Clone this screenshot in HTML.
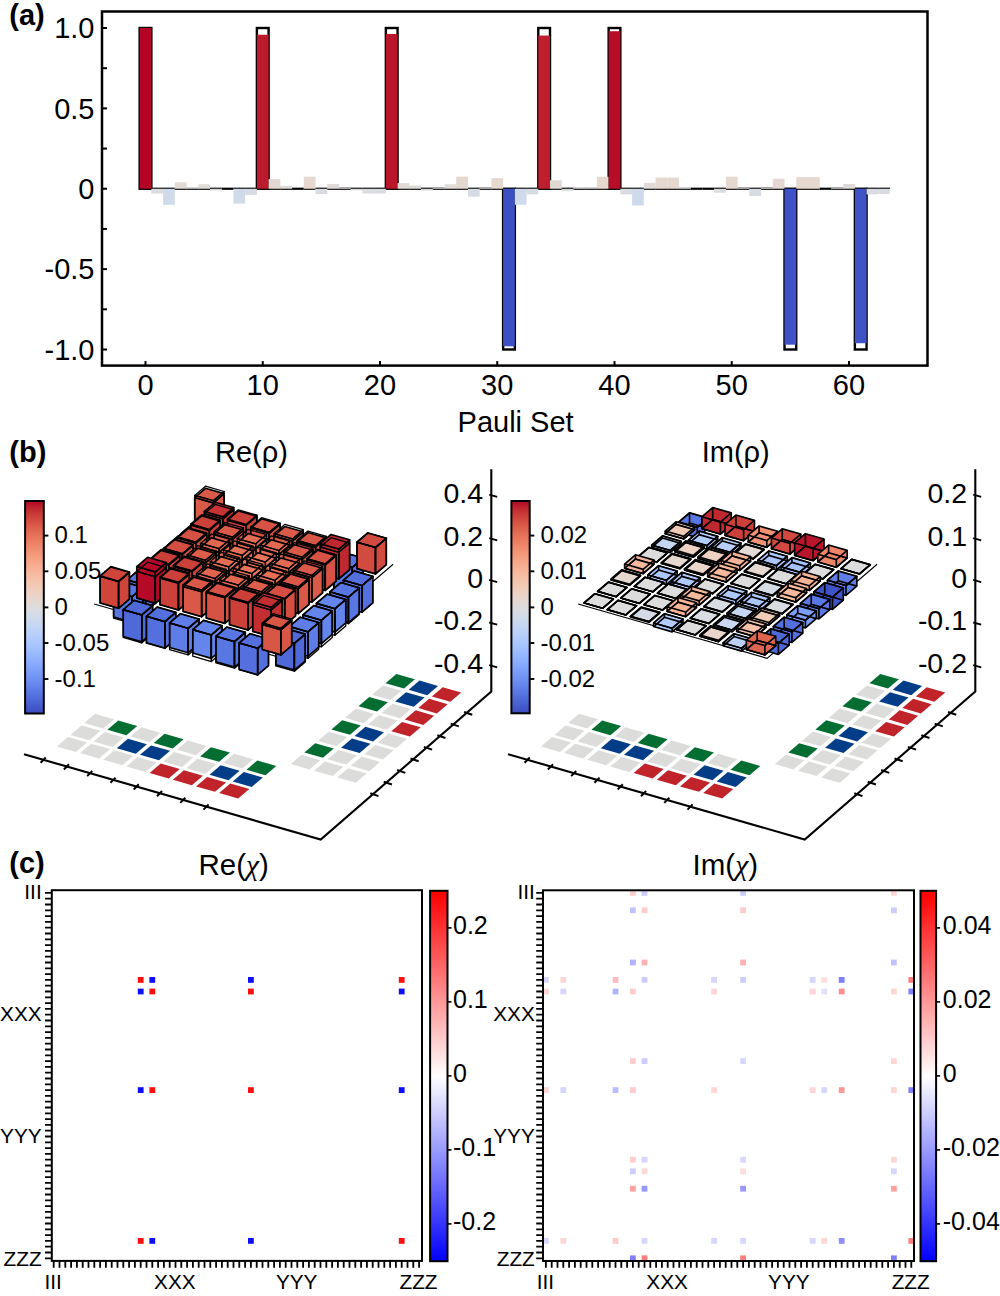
<!DOCTYPE html>
<html><head><meta charset="utf-8"><style>
html,body{margin:0;padding:0;background:#fff;}
svg{display:block;}
text{font-family:"Liberation Sans", sans-serif;fill:#000;}
</style></head><body>
<svg width="1000" height="1296" viewBox="0 0 1000 1296">
<rect width="1000" height="1296" fill="#fff"/>
<g id="pa">
<rect x="139.64" y="28.00" width="11.72" height="160.75" fill="none" stroke="#000" stroke-width="2.4"/>
<line x1="151.36" y1="188.75" x2="163.09" y2="188.75" stroke="#000" stroke-width="2.2" />
<line x1="163.09" y1="188.75" x2="174.81" y2="188.75" stroke="#000" stroke-width="2.2" />
<line x1="174.81" y1="188.75" x2="186.54" y2="188.75" stroke="#000" stroke-width="2.2" />
<line x1="186.54" y1="188.75" x2="198.26" y2="188.75" stroke="#000" stroke-width="2.2" />
<line x1="198.26" y1="188.75" x2="209.99" y2="188.75" stroke="#000" stroke-width="2.2" />
<line x1="209.99" y1="188.75" x2="221.71" y2="188.75" stroke="#000" stroke-width="2.2" />
<line x1="221.71" y1="188.75" x2="233.44" y2="188.75" stroke="#000" stroke-width="2.2" />
<line x1="233.44" y1="188.75" x2="245.16" y2="188.75" stroke="#000" stroke-width="2.2" />
<line x1="245.16" y1="188.75" x2="256.89" y2="188.75" stroke="#000" stroke-width="2.2" />
<rect x="256.89" y="28.00" width="11.72" height="160.75" fill="none" stroke="#000" stroke-width="2.4"/>
<line x1="268.61" y1="188.75" x2="280.34" y2="188.75" stroke="#000" stroke-width="2.2" />
<line x1="280.34" y1="188.75" x2="292.06" y2="188.75" stroke="#000" stroke-width="2.2" />
<line x1="292.06" y1="188.75" x2="303.79" y2="188.75" stroke="#000" stroke-width="2.2" />
<line x1="303.79" y1="188.75" x2="315.51" y2="188.75" stroke="#000" stroke-width="2.2" />
<line x1="315.51" y1="188.75" x2="327.24" y2="188.75" stroke="#000" stroke-width="2.2" />
<line x1="327.24" y1="188.75" x2="338.96" y2="188.75" stroke="#000" stroke-width="2.2" />
<line x1="338.96" y1="188.75" x2="350.69" y2="188.75" stroke="#000" stroke-width="2.2" />
<line x1="350.69" y1="188.75" x2="362.41" y2="188.75" stroke="#000" stroke-width="2.2" />
<line x1="362.41" y1="188.75" x2="374.14" y2="188.75" stroke="#000" stroke-width="2.2" />
<line x1="374.14" y1="188.75" x2="385.86" y2="188.75" stroke="#000" stroke-width="2.2" />
<rect x="385.86" y="28.00" width="11.72" height="160.75" fill="none" stroke="#000" stroke-width="2.4"/>
<line x1="397.59" y1="188.75" x2="409.31" y2="188.75" stroke="#000" stroke-width="2.2" />
<line x1="409.31" y1="188.75" x2="421.04" y2="188.75" stroke="#000" stroke-width="2.2" />
<line x1="421.04" y1="188.75" x2="432.76" y2="188.75" stroke="#000" stroke-width="2.2" />
<line x1="432.76" y1="188.75" x2="444.49" y2="188.75" stroke="#000" stroke-width="2.2" />
<line x1="444.49" y1="188.75" x2="456.21" y2="188.75" stroke="#000" stroke-width="2.2" />
<line x1="456.21" y1="188.75" x2="467.94" y2="188.75" stroke="#000" stroke-width="2.2" />
<line x1="467.94" y1="188.75" x2="479.66" y2="188.75" stroke="#000" stroke-width="2.2" />
<line x1="479.66" y1="188.75" x2="491.39" y2="188.75" stroke="#000" stroke-width="2.2" />
<line x1="491.39" y1="188.75" x2="503.11" y2="188.75" stroke="#000" stroke-width="2.2" />
<rect x="503.11" y="188.75" width="11.72" height="160.75" fill="none" stroke="#000" stroke-width="2.4"/>
<line x1="514.84" y1="188.75" x2="526.56" y2="188.75" stroke="#000" stroke-width="2.2" />
<line x1="526.56" y1="188.75" x2="538.29" y2="188.75" stroke="#000" stroke-width="2.2" />
<rect x="538.29" y="28.00" width="11.72" height="160.75" fill="none" stroke="#000" stroke-width="2.4"/>
<line x1="550.01" y1="188.75" x2="561.74" y2="188.75" stroke="#000" stroke-width="2.2" />
<line x1="561.74" y1="188.75" x2="573.46" y2="188.75" stroke="#000" stroke-width="2.2" />
<line x1="573.46" y1="188.75" x2="585.19" y2="188.75" stroke="#000" stroke-width="2.2" />
<line x1="585.19" y1="188.75" x2="596.91" y2="188.75" stroke="#000" stroke-width="2.2" />
<line x1="596.91" y1="188.75" x2="608.64" y2="188.75" stroke="#000" stroke-width="2.2" />
<rect x="608.64" y="28.00" width="11.72" height="160.75" fill="none" stroke="#000" stroke-width="2.4"/>
<line x1="620.36" y1="188.75" x2="632.09" y2="188.75" stroke="#000" stroke-width="2.2" />
<line x1="632.09" y1="188.75" x2="643.81" y2="188.75" stroke="#000" stroke-width="2.2" />
<line x1="643.81" y1="188.75" x2="655.54" y2="188.75" stroke="#000" stroke-width="2.2" />
<line x1="655.54" y1="188.75" x2="667.26" y2="188.75" stroke="#000" stroke-width="2.2" />
<line x1="667.26" y1="188.75" x2="678.99" y2="188.75" stroke="#000" stroke-width="2.2" />
<line x1="678.99" y1="188.75" x2="690.71" y2="188.75" stroke="#000" stroke-width="2.2" />
<line x1="690.71" y1="188.75" x2="702.44" y2="188.75" stroke="#000" stroke-width="2.2" />
<line x1="702.44" y1="188.75" x2="714.16" y2="188.75" stroke="#000" stroke-width="2.2" />
<line x1="714.16" y1="188.75" x2="725.89" y2="188.75" stroke="#000" stroke-width="2.2" />
<line x1="725.89" y1="188.75" x2="737.61" y2="188.75" stroke="#000" stroke-width="2.2" />
<line x1="737.61" y1="188.75" x2="749.34" y2="188.75" stroke="#000" stroke-width="2.2" />
<line x1="749.34" y1="188.75" x2="761.06" y2="188.75" stroke="#000" stroke-width="2.2" />
<line x1="761.06" y1="188.75" x2="772.79" y2="188.75" stroke="#000" stroke-width="2.2" />
<line x1="772.79" y1="188.75" x2="784.51" y2="188.75" stroke="#000" stroke-width="2.2" />
<rect x="784.51" y="188.75" width="11.72" height="160.75" fill="none" stroke="#000" stroke-width="2.4"/>
<line x1="796.24" y1="188.75" x2="807.96" y2="188.75" stroke="#000" stroke-width="2.2" />
<line x1="807.96" y1="188.75" x2="819.69" y2="188.75" stroke="#000" stroke-width="2.2" />
<line x1="819.69" y1="188.75" x2="831.41" y2="188.75" stroke="#000" stroke-width="2.2" />
<line x1="831.41" y1="188.75" x2="843.14" y2="188.75" stroke="#000" stroke-width="2.2" />
<line x1="843.14" y1="188.75" x2="854.86" y2="188.75" stroke="#000" stroke-width="2.2" />
<rect x="854.86" y="188.75" width="11.72" height="160.75" fill="none" stroke="#000" stroke-width="2.4"/>
<line x1="866.59" y1="188.75" x2="878.31" y2="188.75" stroke="#000" stroke-width="2.2" />
<line x1="878.31" y1="188.75" x2="890.04" y2="188.75" stroke="#000" stroke-width="2.2" />
<rect x="139.64" y="28.00" width="11.72" height="160.75" fill="#b40426"/>
<rect x="151.36" y="188.75" width="11.72" height="4.82" fill="#d9dce1"/>
<rect x="163.09" y="188.75" width="11.72" height="16.07" fill="#cfdaea"/>
<rect x="174.81" y="182.32" width="11.72" height="6.43" fill="#e2dad5"/>
<rect x="186.54" y="187.14" width="11.72" height="1.61" fill="#dedcdb"/>
<rect x="198.26" y="184.25" width="11.72" height="4.50" fill="#e0dbd8"/>
<rect x="209.99" y="188.75" width="11.72" height="1.93" fill="#dbdcde"/>
<rect x="233.44" y="188.75" width="11.72" height="14.79" fill="#d1dae9"/>
<rect x="245.16" y="188.75" width="11.72" height="6.11" fill="#d8dce2"/>
<rect x="256.89" y="34.75" width="11.72" height="154.00" fill="#bb1b2c"/>
<rect x="268.61" y="179.10" width="11.72" height="9.65" fill="#e4d9d2"/>
<rect x="280.34" y="185.86" width="11.72" height="2.89" fill="#dfdbd9"/>
<rect x="303.79" y="176.69" width="11.72" height="12.06" fill="#e6d7cf"/>
<rect x="315.51" y="188.75" width="11.72" height="5.30" fill="#d8dce2"/>
<rect x="327.24" y="183.93" width="11.72" height="4.82" fill="#e0dbd8"/>
<rect x="338.96" y="187.95" width="11.72" height="0.80" fill="#dddcdc"/>
<rect x="350.69" y="188.75" width="11.72" height="1.61" fill="#dbdcde"/>
<rect x="362.41" y="188.75" width="11.72" height="4.82" fill="#d9dce1"/>
<rect x="374.14" y="188.75" width="11.72" height="4.82" fill="#d9dce1"/>
<rect x="385.86" y="33.95" width="11.72" height="154.80" fill="#ba162b"/>
<rect x="397.59" y="183.12" width="11.72" height="5.63" fill="#e1dad6"/>
<rect x="409.31" y="185.53" width="11.72" height="3.22" fill="#dfdbd9"/>
<rect x="421.04" y="188.75" width="11.72" height="1.93" fill="#dbdcde"/>
<rect x="432.76" y="187.95" width="11.72" height="0.80" fill="#dddcdc"/>
<rect x="444.49" y="184.25" width="11.72" height="4.50" fill="#e0dbd8"/>
<rect x="456.21" y="176.69" width="11.72" height="12.06" fill="#e6d7cf"/>
<rect x="467.94" y="188.75" width="11.72" height="8.04" fill="#d6dce4"/>
<rect x="479.66" y="187.95" width="11.72" height="0.80" fill="#dddcdc"/>
<rect x="491.39" y="178.14" width="11.72" height="10.61" fill="#e5d8d1"/>
<rect x="503.11" y="188.75" width="11.72" height="157.53" fill="#3d50c3"/>
<rect x="514.84" y="188.75" width="11.72" height="16.07" fill="#cfdaea"/>
<rect x="526.56" y="188.75" width="11.72" height="5.63" fill="#d8dce2"/>
<rect x="538.29" y="35.56" width="11.72" height="153.19" fill="#bd1f2d"/>
<rect x="550.01" y="180.23" width="11.72" height="8.52" fill="#e3d9d3"/>
<rect x="561.74" y="188.75" width="11.72" height="2.41" fill="#dbdcde"/>
<rect x="573.46" y="187.14" width="11.72" height="1.61" fill="#dedcdb"/>
<rect x="585.19" y="187.14" width="11.72" height="1.61" fill="#dedcdb"/>
<rect x="596.91" y="176.69" width="11.72" height="12.06" fill="#e6d7cf"/>
<rect x="608.64" y="31.22" width="11.72" height="157.53" fill="#b70d28"/>
<rect x="620.36" y="188.75" width="11.72" height="5.63" fill="#d8dce2"/>
<rect x="632.09" y="188.75" width="11.72" height="16.72" fill="#cedaeb"/>
<rect x="643.81" y="182.80" width="11.72" height="5.95" fill="#e1dad6"/>
<rect x="655.54" y="177.50" width="11.72" height="11.25" fill="#e5d8d1"/>
<rect x="667.26" y="177.50" width="11.72" height="11.25" fill="#e5d8d1"/>
<rect x="678.99" y="187.14" width="11.72" height="1.61" fill="#dedcdb"/>
<rect x="714.16" y="188.75" width="11.72" height="4.02" fill="#d9dce1"/>
<rect x="725.89" y="176.69" width="11.72" height="12.06" fill="#e6d7cf"/>
<rect x="737.61" y="187.95" width="11.72" height="0.80" fill="#dddcdc"/>
<rect x="749.34" y="188.75" width="11.72" height="7.23" fill="#d7dce3"/>
<rect x="761.06" y="187.95" width="11.72" height="0.80" fill="#dddcdc"/>
<rect x="772.79" y="178.78" width="11.72" height="9.97" fill="#e4d9d2"/>
<rect x="784.51" y="188.75" width="11.72" height="155.93" fill="#3e51c5"/>
<rect x="796.24" y="177.18" width="11.72" height="11.57" fill="#e6d7cf"/>
<rect x="807.96" y="177.18" width="11.72" height="11.57" fill="#e6d7cf"/>
<rect x="831.41" y="187.95" width="11.72" height="0.80" fill="#dddcdc"/>
<rect x="843.14" y="183.93" width="11.72" height="4.82" fill="#e0dbd8"/>
<rect x="854.86" y="188.75" width="11.72" height="154.48" fill="#3f53c6"/>
<rect x="866.59" y="188.75" width="11.72" height="5.63" fill="#d8dce2"/>
<rect x="878.31" y="188.75" width="11.72" height="5.14" fill="#d8dce2"/>
<rect x="102.0" y="11.5" width="825.5" height="354.1" fill="none" stroke="#000" stroke-width="2.5"/>
<line x1="102.00" y1="349.50" x2="107.00" y2="349.50" stroke="#000" stroke-width="2" />
<line x1="102.00" y1="309.31" x2="107.00" y2="309.31" stroke="#000" stroke-width="2" />
<line x1="102.00" y1="269.12" x2="107.00" y2="269.12" stroke="#000" stroke-width="2" />
<line x1="102.00" y1="228.94" x2="107.00" y2="228.94" stroke="#000" stroke-width="2" />
<line x1="102.00" y1="188.75" x2="107.00" y2="188.75" stroke="#000" stroke-width="2" />
<line x1="102.00" y1="148.56" x2="107.00" y2="148.56" stroke="#000" stroke-width="2" />
<line x1="102.00" y1="108.38" x2="107.00" y2="108.38" stroke="#000" stroke-width="2" />
<line x1="102.00" y1="68.19" x2="107.00" y2="68.19" stroke="#000" stroke-width="2" />
<line x1="102.00" y1="28.00" x2="107.00" y2="28.00" stroke="#000" stroke-width="2" />
<text x="94.50" y="38.30" font-size="29" text-anchor="end" font-weight="normal" >1.0</text>
<text x="94.50" y="118.67" font-size="29" text-anchor="end" font-weight="normal" >0.5</text>
<text x="94.50" y="199.05" font-size="29" text-anchor="end" font-weight="normal" >0</text>
<text x="94.50" y="279.43" font-size="29" text-anchor="end" font-weight="normal" >-0.5</text>
<text x="94.50" y="359.80" font-size="29" text-anchor="end" font-weight="normal" >-1.0</text>
<line x1="145.50" y1="365.60" x2="145.50" y2="361.10" stroke="#000" stroke-width="2" />
<text x="145.50" y="394.90" font-size="29" text-anchor="middle" font-weight="normal" >0</text>
<line x1="262.75" y1="365.60" x2="262.75" y2="361.10" stroke="#000" stroke-width="2" />
<text x="262.75" y="394.90" font-size="29" text-anchor="middle" font-weight="normal" >10</text>
<line x1="380.00" y1="365.60" x2="380.00" y2="361.10" stroke="#000" stroke-width="2" />
<text x="380.00" y="394.90" font-size="29" text-anchor="middle" font-weight="normal" >20</text>
<line x1="497.25" y1="365.60" x2="497.25" y2="361.10" stroke="#000" stroke-width="2" />
<text x="497.25" y="394.90" font-size="29" text-anchor="middle" font-weight="normal" >30</text>
<line x1="614.50" y1="365.60" x2="614.50" y2="361.10" stroke="#000" stroke-width="2" />
<text x="614.50" y="394.90" font-size="29" text-anchor="middle" font-weight="normal" >40</text>
<line x1="731.75" y1="365.60" x2="731.75" y2="361.10" stroke="#000" stroke-width="2" />
<text x="731.75" y="394.90" font-size="29" text-anchor="middle" font-weight="normal" >50</text>
<line x1="849.00" y1="365.60" x2="849.00" y2="361.10" stroke="#000" stroke-width="2" />
<text x="849.00" y="394.90" font-size="29" text-anchor="middle" font-weight="normal" >60</text>
<text x="515.60" y="431.80" font-size="29" text-anchor="middle" font-weight="normal" >Pauli Set</text>
</g>
<text x="9.30" y="24.60" font-size="29" text-anchor="start" font-weight="bold" >(a)</text>
<g id="pb_re">
<polygon points="56.92,746.45 75.93,751.91 87.02,742.43 68.01,736.97" fill="#dcdcdb"/>
<polygon points="70.44,734.89 89.45,740.35 100.54,730.87 81.53,725.41" fill="#dcdcdb"/>
<polygon points="84.23,723.10 103.24,728.56 114.06,719.31 95.05,713.85" fill="#dcdcdb"/>
<polygon points="80.10,753.11 99.11,758.57 110.20,749.09 91.19,743.63" fill="#dcdcdb"/>
<polygon points="93.62,741.55 112.63,747.01 123.72,737.53 104.71,732.07" fill="#dcdcdb"/>
<polygon points="107.41,729.76 126.42,735.22 137.24,725.97 118.23,720.51" fill="#046e32"/>
<polygon points="103.28,759.77 122.29,765.23 133.38,755.75 114.37,750.29" fill="#dcdcdb"/>
<polygon points="116.80,748.21 135.81,753.67 146.90,744.19 127.89,738.73" fill="#033d88"/>
<polygon points="130.59,736.42 149.60,741.88 160.42,732.63 141.41,727.17" fill="#dcdcdb"/>
<polygon points="126.46,766.43 145.47,771.89 156.56,762.41 137.55,756.95" fill="#dcdcdb"/>
<polygon points="139.98,754.87 158.99,760.33 170.08,750.85 151.07,745.39" fill="#033d88"/>
<polygon points="153.77,743.08 172.78,748.54 183.60,739.29 164.59,733.83" fill="#046e32"/>
<polygon points="149.64,773.09 168.65,778.55 179.74,769.07 160.73,763.61" fill="#c1232a"/>
<polygon points="163.16,761.53 182.17,766.99 193.26,757.51 174.25,752.05" fill="#dcdcdb"/>
<polygon points="176.95,749.74 195.96,755.20 206.78,745.95 187.77,740.49" fill="#dcdcdb"/>
<polygon points="172.82,779.75 191.83,785.21 202.92,775.73 183.91,770.27" fill="#c1232a"/>
<polygon points="186.34,768.19 205.35,773.65 216.44,764.17 197.43,758.71" fill="#dcdcdb"/>
<polygon points="200.13,756.40 219.14,761.86 229.96,752.61 210.95,747.15" fill="#046e32"/>
<polygon points="196.00,786.41 215.01,791.87 226.10,782.39 207.09,776.93" fill="#c1232a"/>
<polygon points="209.52,774.85 228.53,780.31 239.62,770.83 220.61,765.37" fill="#033d88"/>
<polygon points="223.31,763.06 242.32,768.52 253.14,759.27 234.13,753.81" fill="#dcdcdb"/>
<polygon points="219.18,793.07 238.19,798.53 249.28,789.05 230.27,783.59" fill="#c1232a"/>
<polygon points="232.70,781.51 251.71,786.97 262.80,777.49 243.79,772.03" fill="#033d88"/>
<polygon points="246.49,769.72 265.50,775.18 276.32,765.93 257.31,760.47" fill="#046e32"/>
<polygon points="290.86,764.09 309.40,769.42 320.22,760.17 301.68,754.84" fill="#dcdcdb"/>
<polygon points="314.04,770.75 332.58,776.08 343.40,766.83 324.86,761.50" fill="#dcdcdb"/>
<polygon points="337.22,777.41 355.76,782.74 366.58,773.49 348.04,768.16" fill="#dcdcdb"/>
<polygon points="304.38,752.53 322.92,757.86 333.74,748.61 315.20,743.28" fill="#046e32"/>
<polygon points="327.56,759.19 346.10,764.52 356.92,755.27 338.38,749.94" fill="#dcdcdb"/>
<polygon points="350.74,765.85 369.28,771.18 380.10,761.93 361.56,756.60" fill="#dcdcdb"/>
<polygon points="317.90,740.97 336.44,746.30 347.26,737.05 328.72,731.72" fill="#dcdcdb"/>
<polygon points="341.08,747.63 359.62,752.96 370.44,743.71 351.90,738.38" fill="#033d88"/>
<polygon points="364.26,754.29 382.80,759.62 393.62,750.37 375.08,745.04" fill="#dcdcdb"/>
<polygon points="331.42,729.41 349.96,734.74 360.78,725.49 342.24,720.16" fill="#046e32"/>
<polygon points="354.60,736.07 373.14,741.40 383.96,732.15 365.42,726.82" fill="#033d88"/>
<polygon points="377.78,742.73 396.32,748.06 407.14,738.81 388.60,733.48" fill="#dcdcdb"/>
<polygon points="344.94,717.85 363.48,723.18 374.30,713.93 355.76,708.60" fill="#dcdcdb"/>
<polygon points="368.12,724.51 386.66,729.84 397.48,720.59 378.94,715.26" fill="#dcdcdb"/>
<polygon points="391.30,731.17 409.84,736.50 420.66,727.25 402.12,721.92" fill="#c1232a"/>
<polygon points="358.46,706.29 377.00,711.62 387.82,702.37 369.28,697.04" fill="#046e32"/>
<polygon points="381.64,712.95 400.18,718.28 411.00,709.03 392.46,703.70" fill="#dcdcdb"/>
<polygon points="404.82,719.61 423.36,724.94 434.18,715.69 415.64,710.36" fill="#c1232a"/>
<polygon points="371.98,694.73 390.52,700.06 401.34,690.81 382.80,685.48" fill="#dcdcdb"/>
<polygon points="395.16,701.39 413.70,706.72 424.52,697.47 405.98,692.14" fill="#033d88"/>
<polygon points="418.34,708.05 436.88,713.38 447.70,704.13 429.16,698.80" fill="#c1232a"/>
<polygon points="385.50,683.17 404.04,688.50 414.86,679.25 396.32,673.92" fill="#046e32"/>
<polygon points="408.68,689.83 427.22,695.16 438.04,685.91 419.50,680.58" fill="#033d88"/>
<polygon points="431.86,696.49 450.40,701.82 461.22,692.57 442.68,687.24" fill="#c1232a"/>
<polyline points="24.00,754.20 320.70,839.50 491.30,691.50 491.30,469.30" fill="none" stroke="#000" stroke-width="2.1" stroke-linejoin="miter"/>
<line x1="45.71" y1="757.55" x2="40.61" y2="762.75" stroke="#000" stroke-width="2.0"/>
<line x1="68.99" y1="764.24" x2="63.89" y2="769.44" stroke="#000" stroke-width="2.0"/>
<line x1="92.26" y1="770.93" x2="87.16" y2="776.13" stroke="#000" stroke-width="2.0"/>
<line x1="115.53" y1="777.62" x2="110.43" y2="782.82" stroke="#000" stroke-width="2.0"/>
<line x1="138.80" y1="784.31" x2="133.70" y2="789.51" stroke="#000" stroke-width="2.0"/>
<line x1="162.07" y1="791.00" x2="156.97" y2="796.20" stroke="#000" stroke-width="2.0"/>
<line x1="185.34" y1="797.69" x2="180.24" y2="802.89" stroke="#000" stroke-width="2.0"/>
<line x1="208.61" y1="804.38" x2="203.51" y2="809.58" stroke="#000" stroke-width="2.0"/>
<line x1="370.32" y1="793.29" x2="378.52" y2="796.09" stroke="#000" stroke-width="2.0"/>
<line x1="383.72" y1="781.68" x2="391.92" y2="784.48" stroke="#000" stroke-width="2.0"/>
<line x1="397.11" y1="770.06" x2="405.31" y2="772.86" stroke="#000" stroke-width="2.0"/>
<line x1="410.50" y1="758.44" x2="418.70" y2="761.24" stroke="#000" stroke-width="2.0"/>
<line x1="423.89" y1="746.83" x2="432.09" y2="749.63" stroke="#000" stroke-width="2.0"/>
<line x1="437.28" y1="735.21" x2="445.48" y2="738.01" stroke="#000" stroke-width="2.0"/>
<line x1="450.67" y1="723.59" x2="458.87" y2="726.39" stroke="#000" stroke-width="2.0"/>
<line x1="464.06" y1="711.98" x2="472.26" y2="714.78" stroke="#000" stroke-width="2.0"/>
<line x1="489.20" y1="494.70" x2="497.20" y2="496.90" stroke="#000" stroke-width="1.9"/>
<text x="483.00" y="502.60" font-size="28.5" text-anchor="end">0.4</text>
<line x1="489.20" y1="538.20" x2="497.20" y2="540.40" stroke="#000" stroke-width="1.9"/>
<text x="483.00" y="546.10" font-size="28.5" text-anchor="end">0.2</text>
<line x1="489.20" y1="579.90" x2="497.20" y2="582.10" stroke="#000" stroke-width="1.9"/>
<text x="483.00" y="587.80" font-size="28.5" text-anchor="end">0</text>
<line x1="489.20" y1="622.50" x2="497.20" y2="624.70" stroke="#000" stroke-width="1.9"/>
<text x="483.00" y="630.40" font-size="28.5" text-anchor="end">-0.2</text>
<line x1="489.20" y1="665.10" x2="497.20" y2="667.30" stroke="#000" stroke-width="1.9"/>
<text x="483.00" y="673.00" font-size="28.5" text-anchor="end">-0.4</text>
<polyline points="94.16,604.04 283.08,658.32 393.13,564.22" fill="none" stroke="#000" stroke-width="1.1"/>
<polygon points="194.71,522.04 213.25,527.37 213.25,502.87 194.71,497.54" fill="#da5a49" stroke="#000" stroke-width="1.65" stroke-linejoin="round"/>
<polygon points="213.25,527.37 224.07,518.12 224.07,493.62 213.25,502.87" fill="#da5a49" stroke="#000" stroke-width="1.65" stroke-linejoin="round"/>
<polygon points="194.71,497.54 213.25,502.87 224.07,493.62 205.53,488.30" fill="#da5a49" stroke="#000" stroke-width="1.65" stroke-linejoin="round"/>
<polygon points="194.71,522.04 213.25,527.37 213.25,500.74 194.71,495.41" fill="none" stroke="#000" stroke-width="1.3" stroke-linejoin="round"/>
<polygon points="213.25,527.37 224.07,518.12 224.07,491.50 213.25,500.74" fill="none" stroke="#000" stroke-width="1.3" stroke-linejoin="round"/>
<polygon points="194.71,495.41 213.25,500.74 224.07,491.50 205.53,486.17" fill="none" stroke="#000" stroke-width="1.3" stroke-linejoin="round"/>
<polygon points="181.19,559.16 199.73,564.49 199.73,538.93 181.19,533.60" fill="#5977e3" stroke="#000" stroke-width="1.65" stroke-linejoin="round"/>
<polygon points="199.73,564.49 210.55,555.24 210.55,529.68 199.73,538.93" fill="#5977e3" stroke="#000" stroke-width="1.65" stroke-linejoin="round"/>
<polygon points="181.19,533.60 199.73,538.93 210.55,529.68 192.01,524.35" fill="#5977e3" stroke="#000" stroke-width="1.65" stroke-linejoin="round"/>
<polygon points="181.19,560.23 199.73,565.55 199.73,538.93 181.19,533.60" fill="none" stroke="#000" stroke-width="1.3" stroke-linejoin="round"/>
<polygon points="199.73,565.55 210.55,556.30 210.55,529.68 199.73,538.93" fill="none" stroke="#000" stroke-width="1.3" stroke-linejoin="round"/>
<polygon points="181.19,533.60 199.73,538.93 210.55,529.68 192.01,524.35" fill="none" stroke="#000" stroke-width="1.3" stroke-linejoin="round"/>
<polygon points="167.67,570.72 186.21,576.05 186.21,550.49 167.67,545.16" fill="#5977e3" stroke="#000" stroke-width="1.65" stroke-linejoin="round"/>
<polygon points="186.21,576.05 197.03,566.80 197.03,541.24 186.21,550.49" fill="#5977e3" stroke="#000" stroke-width="1.65" stroke-linejoin="round"/>
<polygon points="167.67,545.16 186.21,550.49 197.03,541.24 178.49,535.91" fill="#5977e3" stroke="#000" stroke-width="1.65" stroke-linejoin="round"/>
<polygon points="167.67,571.78 186.21,577.11 186.21,550.49 167.67,545.16" fill="none" stroke="#000" stroke-width="1.3" stroke-linejoin="round"/>
<polygon points="186.21,577.11 197.03,567.87 197.03,541.24 186.21,550.49" fill="none" stroke="#000" stroke-width="1.3" stroke-linejoin="round"/>
<polygon points="167.67,545.16 186.21,550.49 197.03,541.24 178.49,535.91" fill="none" stroke="#000" stroke-width="1.3" stroke-linejoin="round"/>
<polygon points="154.15,582.28 172.69,587.61 172.69,562.05 154.15,556.72" fill="#5977e3" stroke="#000" stroke-width="1.65" stroke-linejoin="round"/>
<polygon points="172.69,587.61 183.51,578.36 183.51,552.80 172.69,562.05" fill="#5977e3" stroke="#000" stroke-width="1.65" stroke-linejoin="round"/>
<polygon points="154.15,556.72 172.69,562.05 183.51,552.80 164.97,547.47" fill="#5977e3" stroke="#000" stroke-width="1.65" stroke-linejoin="round"/>
<polygon points="154.15,583.35 172.69,588.67 172.69,562.05 154.15,556.72" fill="none" stroke="#000" stroke-width="1.3" stroke-linejoin="round"/>
<polygon points="172.69,588.67 183.51,579.42 183.51,552.80 172.69,562.05" fill="none" stroke="#000" stroke-width="1.3" stroke-linejoin="round"/>
<polygon points="154.15,556.72 172.69,562.05 183.51,552.80 164.97,547.47" fill="none" stroke="#000" stroke-width="1.3" stroke-linejoin="round"/>
<polygon points="140.63,593.84 159.17,599.17 159.17,573.61 140.63,568.28" fill="#5977e3" stroke="#000" stroke-width="1.65" stroke-linejoin="round"/>
<polygon points="159.17,599.17 169.99,589.92 169.99,564.36 159.17,573.61" fill="#5977e3" stroke="#000" stroke-width="1.65" stroke-linejoin="round"/>
<polygon points="140.63,568.28 159.17,573.61 169.99,564.36 151.45,559.03" fill="#5977e3" stroke="#000" stroke-width="1.65" stroke-linejoin="round"/>
<polygon points="140.63,594.90 159.17,600.23 159.17,573.61 140.63,568.28" fill="none" stroke="#000" stroke-width="1.3" stroke-linejoin="round"/>
<polygon points="159.17,600.23 169.99,590.99 169.99,564.36 159.17,573.61" fill="none" stroke="#000" stroke-width="1.3" stroke-linejoin="round"/>
<polygon points="140.63,568.28 159.17,573.61 169.99,564.36 151.45,559.03" fill="none" stroke="#000" stroke-width="1.3" stroke-linejoin="round"/>
<polygon points="127.11,605.40 145.65,610.73 145.65,585.17 127.11,579.84" fill="#5977e3" stroke="#000" stroke-width="1.65" stroke-linejoin="round"/>
<polygon points="145.65,610.73 156.47,601.48 156.47,575.92 145.65,585.17" fill="#5977e3" stroke="#000" stroke-width="1.65" stroke-linejoin="round"/>
<polygon points="127.11,579.84 145.65,585.17 156.47,575.92 137.93,570.59" fill="#5977e3" stroke="#000" stroke-width="1.65" stroke-linejoin="round"/>
<polygon points="127.11,606.47 145.65,611.79 145.65,585.17 127.11,579.84" fill="none" stroke="#000" stroke-width="1.3" stroke-linejoin="round"/>
<polygon points="145.65,611.79 156.47,602.54 156.47,575.92 145.65,585.17" fill="none" stroke="#000" stroke-width="1.3" stroke-linejoin="round"/>
<polygon points="127.11,579.84 145.65,585.17 156.47,575.92 137.93,570.59" fill="none" stroke="#000" stroke-width="1.3" stroke-linejoin="round"/>
<polygon points="113.59,616.96 132.13,622.29 132.13,596.73 113.59,591.40" fill="#5977e3" stroke="#000" stroke-width="1.65" stroke-linejoin="round"/>
<polygon points="132.13,622.29 142.95,613.04 142.95,587.48 132.13,596.73" fill="#5977e3" stroke="#000" stroke-width="1.65" stroke-linejoin="round"/>
<polygon points="113.59,591.40 132.13,596.73 142.95,587.48 124.41,582.15" fill="#5977e3" stroke="#000" stroke-width="1.65" stroke-linejoin="round"/>
<polygon points="113.59,618.02 132.13,623.35 132.13,596.73 113.59,591.40" fill="none" stroke="#000" stroke-width="1.3" stroke-linejoin="round"/>
<polygon points="132.13,623.35 142.95,614.11 142.95,587.48 132.13,596.73" fill="none" stroke="#000" stroke-width="1.3" stroke-linejoin="round"/>
<polygon points="113.59,591.40 132.13,596.73 142.95,587.48 124.41,582.15" fill="none" stroke="#000" stroke-width="1.3" stroke-linejoin="round"/>
<polygon points="100.07,602.96 118.61,608.29 118.61,581.24 100.07,575.91" fill="#cf453c" stroke="#000" stroke-width="1.65" stroke-linejoin="round"/>
<polygon points="118.61,608.29 129.43,599.04 129.43,571.99 118.61,581.24" fill="#cf453c" stroke="#000" stroke-width="1.65" stroke-linejoin="round"/>
<polygon points="100.07,575.91 118.61,581.24 129.43,571.99 110.89,566.66" fill="#cf453c" stroke="#000" stroke-width="1.65" stroke-linejoin="round"/>
<polygon points="100.07,602.96 118.61,608.29 118.61,581.66 100.07,576.34" fill="none" stroke="#000" stroke-width="1.3" stroke-linejoin="round"/>
<polygon points="118.61,608.29 129.43,599.04 129.43,572.41 118.61,581.66" fill="none" stroke="#000" stroke-width="1.3" stroke-linejoin="round"/>
<polygon points="100.07,576.34 118.61,581.66 129.43,572.41 110.89,567.09" fill="none" stroke="#000" stroke-width="1.3" stroke-linejoin="round"/>
<polygon points="217.89,554.26 236.43,559.59 236.43,534.03 217.89,528.70" fill="#5977e3" stroke="#000" stroke-width="1.65" stroke-linejoin="round"/>
<polygon points="236.43,559.59 247.25,550.34 247.25,524.78 236.43,534.03" fill="#5977e3" stroke="#000" stroke-width="1.65" stroke-linejoin="round"/>
<polygon points="217.89,528.70 236.43,534.03 247.25,524.78 228.71,519.45" fill="#5977e3" stroke="#000" stroke-width="1.65" stroke-linejoin="round"/>
<polygon points="217.89,555.33 236.43,560.65 236.43,534.03 217.89,528.70" fill="none" stroke="#000" stroke-width="1.3" stroke-linejoin="round"/>
<polygon points="236.43,560.65 247.25,551.40 247.25,524.78 236.43,534.03" fill="none" stroke="#000" stroke-width="1.3" stroke-linejoin="round"/>
<polygon points="217.89,528.70 236.43,534.03 247.25,524.78 228.71,519.45" fill="none" stroke="#000" stroke-width="1.3" stroke-linejoin="round"/>
<polygon points="204.37,540.26 222.91,545.59 222.91,516.83 204.37,511.50" fill="#c53334" stroke="#000" stroke-width="1.65" stroke-linejoin="round"/>
<polygon points="222.91,545.59 233.73,536.34 233.73,507.58 222.91,516.83" fill="#c53334" stroke="#000" stroke-width="1.65" stroke-linejoin="round"/>
<polygon points="204.37,511.50 222.91,516.83 233.73,507.58 215.19,502.26" fill="#c53334" stroke="#000" stroke-width="1.65" stroke-linejoin="round"/>
<polygon points="204.37,540.26 222.91,545.59 222.91,518.96 204.37,513.63" fill="none" stroke="#000" stroke-width="1.3" stroke-linejoin="round"/>
<polygon points="222.91,545.59 233.73,536.34 233.73,509.71 222.91,518.96" fill="none" stroke="#000" stroke-width="1.3" stroke-linejoin="round"/>
<polygon points="204.37,513.63 222.91,518.96 233.73,509.71 215.19,504.39" fill="none" stroke="#000" stroke-width="1.3" stroke-linejoin="round"/>
<polygon points="190.85,551.82 209.39,557.15 209.39,529.46 190.85,524.13" fill="#cc403a" stroke="#000" stroke-width="1.65" stroke-linejoin="round"/>
<polygon points="209.39,557.15 220.21,547.90 220.21,520.21 209.39,529.46" fill="#cc403a" stroke="#000" stroke-width="1.65" stroke-linejoin="round"/>
<polygon points="190.85,524.13 209.39,529.46 220.21,520.21 201.67,514.88" fill="#cc403a" stroke="#000" stroke-width="1.65" stroke-linejoin="round"/>
<polygon points="190.85,551.82 209.39,557.15 209.39,530.52 190.85,525.19" fill="none" stroke="#000" stroke-width="1.3" stroke-linejoin="round"/>
<polygon points="209.39,557.15 220.21,547.90 220.21,521.27 209.39,530.52" fill="none" stroke="#000" stroke-width="1.3" stroke-linejoin="round"/>
<polygon points="190.85,525.19 209.39,530.52 220.21,521.27 201.67,515.95" fill="none" stroke="#000" stroke-width="1.3" stroke-linejoin="round"/>
<polygon points="177.33,563.38 195.87,568.71 195.87,543.15 177.33,537.82" fill="#d65244" stroke="#000" stroke-width="1.65" stroke-linejoin="round"/>
<polygon points="195.87,568.71 206.69,559.46 206.69,533.90 195.87,543.15" fill="#d65244" stroke="#000" stroke-width="1.65" stroke-linejoin="round"/>
<polygon points="177.33,537.82 195.87,543.15 206.69,533.90 188.15,528.57" fill="#d65244" stroke="#000" stroke-width="1.65" stroke-linejoin="round"/>
<polygon points="177.33,563.38 195.87,568.71 195.87,542.08 177.33,536.75" fill="none" stroke="#000" stroke-width="1.3" stroke-linejoin="round"/>
<polygon points="195.87,568.71 206.69,559.46 206.69,532.83 195.87,542.08" fill="none" stroke="#000" stroke-width="1.3" stroke-linejoin="round"/>
<polygon points="177.33,536.75 195.87,542.08 206.69,532.83 188.15,527.51" fill="none" stroke="#000" stroke-width="1.3" stroke-linejoin="round"/>
<polygon points="163.81,574.94 182.35,580.27 182.35,554.28 163.81,548.95" fill="#d44e41" stroke="#000" stroke-width="1.65" stroke-linejoin="round"/>
<polygon points="182.35,580.27 193.17,571.02 193.17,545.03 182.35,554.28" fill="#d44e41" stroke="#000" stroke-width="1.65" stroke-linejoin="round"/>
<polygon points="163.81,548.95 182.35,554.28 193.17,545.03 174.63,539.71" fill="#d44e41" stroke="#000" stroke-width="1.65" stroke-linejoin="round"/>
<polygon points="163.81,574.94 182.35,580.27 182.35,553.64 163.81,548.31" fill="none" stroke="#000" stroke-width="1.3" stroke-linejoin="round"/>
<polygon points="182.35,580.27 193.17,571.02 193.17,544.39 182.35,553.64" fill="none" stroke="#000" stroke-width="1.3" stroke-linejoin="round"/>
<polygon points="163.81,548.31 182.35,553.64 193.17,544.39 174.63,539.07" fill="none" stroke="#000" stroke-width="1.3" stroke-linejoin="round"/>
<polygon points="150.29,586.50 168.83,591.83 168.83,564.14 150.29,558.81" fill="#cc403a" stroke="#000" stroke-width="1.65" stroke-linejoin="round"/>
<polygon points="168.83,591.83 179.65,582.58 179.65,554.89 168.83,564.14" fill="#cc403a" stroke="#000" stroke-width="1.65" stroke-linejoin="round"/>
<polygon points="150.29,558.81 168.83,564.14 179.65,554.89 161.11,549.56" fill="#cc403a" stroke="#000" stroke-width="1.65" stroke-linejoin="round"/>
<polygon points="150.29,586.50 168.83,591.83 168.83,565.20 150.29,559.88" fill="none" stroke="#000" stroke-width="1.3" stroke-linejoin="round"/>
<polygon points="168.83,591.83 179.65,582.58 179.65,555.95 168.83,565.20" fill="none" stroke="#000" stroke-width="1.3" stroke-linejoin="round"/>
<polygon points="150.29,559.88 168.83,565.20 179.65,555.95 161.11,550.63" fill="none" stroke="#000" stroke-width="1.3" stroke-linejoin="round"/>
<polygon points="136.77,598.06 155.31,603.39 155.31,571.86 136.77,566.54" fill="#b50927" stroke="#000" stroke-width="1.65" stroke-linejoin="round"/>
<polygon points="155.31,603.39 166.13,594.14 166.13,562.62 155.31,571.86" fill="#b50927" stroke="#000" stroke-width="1.65" stroke-linejoin="round"/>
<polygon points="136.77,566.54 155.31,571.86 166.13,562.62 147.59,557.29" fill="#b50927" stroke="#000" stroke-width="1.65" stroke-linejoin="round"/>
<polygon points="136.77,598.06 155.31,603.39 155.31,576.76 136.77,571.43" fill="none" stroke="#000" stroke-width="1.3" stroke-linejoin="round"/>
<polygon points="155.31,603.39 166.13,594.14 166.13,567.51 155.31,576.76" fill="none" stroke="#000" stroke-width="1.3" stroke-linejoin="round"/>
<polygon points="136.77,571.43 155.31,576.76 166.13,567.51 147.59,562.19" fill="none" stroke="#000" stroke-width="1.3" stroke-linejoin="round"/>
<polygon points="123.25,637.31 141.79,642.64 141.79,614.95 123.25,609.62" fill="#4f69d9" stroke="#000" stroke-width="1.65" stroke-linejoin="round"/>
<polygon points="141.79,642.64 152.61,633.39 152.61,605.70 141.79,614.95" fill="#4f69d9" stroke="#000" stroke-width="1.65" stroke-linejoin="round"/>
<polygon points="123.25,609.62 141.79,614.95 152.61,605.70 134.07,600.37" fill="#4f69d9" stroke="#000" stroke-width="1.65" stroke-linejoin="round"/>
<polygon points="123.25,636.25 141.79,641.57 141.79,614.95 123.25,609.62" fill="none" stroke="#000" stroke-width="1.3" stroke-linejoin="round"/>
<polygon points="141.79,641.57 152.61,632.32 152.61,605.70 141.79,614.95" fill="none" stroke="#000" stroke-width="1.3" stroke-linejoin="round"/>
<polygon points="123.25,609.62 141.79,614.95 152.61,605.70 134.07,600.37" fill="none" stroke="#000" stroke-width="1.3" stroke-linejoin="round"/>
<polygon points="241.07,560.92 259.61,566.25 259.61,540.69 241.07,535.36" fill="#5977e3" stroke="#000" stroke-width="1.65" stroke-linejoin="round"/>
<polygon points="259.61,566.25 270.43,557.00 270.43,531.44 259.61,540.69" fill="#5977e3" stroke="#000" stroke-width="1.65" stroke-linejoin="round"/>
<polygon points="241.07,535.36 259.61,540.69 270.43,531.44 251.89,526.11" fill="#5977e3" stroke="#000" stroke-width="1.65" stroke-linejoin="round"/>
<polygon points="241.07,561.98 259.61,567.31 259.61,540.69 241.07,535.36" fill="none" stroke="#000" stroke-width="1.3" stroke-linejoin="round"/>
<polygon points="259.61,567.31 270.43,558.07 270.43,531.44 259.61,540.69" fill="none" stroke="#000" stroke-width="1.3" stroke-linejoin="round"/>
<polygon points="241.07,535.36 259.61,540.69 270.43,531.44 251.89,526.11" fill="none" stroke="#000" stroke-width="1.3" stroke-linejoin="round"/>
<polygon points="227.55,546.92 246.09,552.25 246.09,524.56 227.55,519.23" fill="#cc403a" stroke="#000" stroke-width="1.65" stroke-linejoin="round"/>
<polygon points="246.09,552.25 256.91,543.00 256.91,515.31 246.09,524.56" fill="#cc403a" stroke="#000" stroke-width="1.65" stroke-linejoin="round"/>
<polygon points="227.55,519.23 246.09,524.56 256.91,515.31 238.37,509.98" fill="#cc403a" stroke="#000" stroke-width="1.65" stroke-linejoin="round"/>
<polygon points="227.55,546.92 246.09,552.25 246.09,525.62 227.55,520.29" fill="none" stroke="#000" stroke-width="1.3" stroke-linejoin="round"/>
<polygon points="246.09,552.25 256.91,543.00 256.91,516.38 246.09,525.62" fill="none" stroke="#000" stroke-width="1.3" stroke-linejoin="round"/>
<polygon points="227.55,520.29 246.09,525.62 256.91,516.38 238.37,511.05" fill="none" stroke="#000" stroke-width="1.3" stroke-linejoin="round"/>
<polygon points="214.03,558.48 232.57,563.81 232.57,539.31 214.03,533.98" fill="#da5a49" stroke="#000" stroke-width="1.65" stroke-linejoin="round"/>
<polygon points="232.57,563.81 243.39,554.56 243.39,530.07 232.57,539.31" fill="#da5a49" stroke="#000" stroke-width="1.65" stroke-linejoin="round"/>
<polygon points="214.03,533.98 232.57,539.31 243.39,530.07 224.85,524.74" fill="#da5a49" stroke="#000" stroke-width="1.65" stroke-linejoin="round"/>
<polygon points="214.03,558.48 232.57,563.81 232.57,537.18 214.03,531.85" fill="none" stroke="#000" stroke-width="1.3" stroke-linejoin="round"/>
<polygon points="232.57,563.81 243.39,554.56 243.39,527.94 232.57,537.18" fill="none" stroke="#000" stroke-width="1.3" stroke-linejoin="round"/>
<polygon points="214.03,531.85 232.57,537.18 243.39,527.94 224.85,522.61" fill="none" stroke="#000" stroke-width="1.3" stroke-linejoin="round"/>
<polygon points="200.51,570.04 219.05,575.37 219.05,552.36 200.51,547.04" fill="#e16751" stroke="#000" stroke-width="1.65" stroke-linejoin="round"/>
<polygon points="219.05,575.37 229.87,566.12 229.87,543.12 219.05,552.36" fill="#e16751" stroke="#000" stroke-width="1.65" stroke-linejoin="round"/>
<polygon points="200.51,547.04 219.05,552.36 229.87,543.12 211.33,537.79" fill="#e16751" stroke="#000" stroke-width="1.65" stroke-linejoin="round"/>
<polygon points="200.51,570.04 219.05,575.37 219.05,548.74 200.51,543.41" fill="none" stroke="#000" stroke-width="1.3" stroke-linejoin="round"/>
<polygon points="219.05,575.37 229.87,566.12 229.87,539.50 219.05,548.74" fill="none" stroke="#000" stroke-width="1.3" stroke-linejoin="round"/>
<polygon points="200.51,543.41 219.05,548.74 229.87,539.50 211.33,534.17" fill="none" stroke="#000" stroke-width="1.3" stroke-linejoin="round"/>
<polygon points="186.99,581.60 205.53,586.93 205.53,562.86 186.99,557.53" fill="#dd5f4b" stroke="#000" stroke-width="1.65" stroke-linejoin="round"/>
<polygon points="205.53,586.93 216.35,577.68 216.35,553.61 205.53,562.86" fill="#dd5f4b" stroke="#000" stroke-width="1.65" stroke-linejoin="round"/>
<polygon points="186.99,557.53 205.53,562.86 216.35,553.61 197.81,548.28" fill="#dd5f4b" stroke="#000" stroke-width="1.65" stroke-linejoin="round"/>
<polygon points="186.99,581.60 205.53,586.93 205.53,560.30 186.99,554.97" fill="none" stroke="#000" stroke-width="1.3" stroke-linejoin="round"/>
<polygon points="205.53,586.93 216.35,577.68 216.35,551.06 205.53,560.30" fill="none" stroke="#000" stroke-width="1.3" stroke-linejoin="round"/>
<polygon points="186.99,554.97 205.53,560.30 216.35,551.06 197.81,545.73" fill="none" stroke="#000" stroke-width="1.3" stroke-linejoin="round"/>
<polygon points="173.47,593.16 192.01,598.49 192.01,570.80 173.47,565.47" fill="#cc403a" stroke="#000" stroke-width="1.65" stroke-linejoin="round"/>
<polygon points="192.01,598.49 202.83,589.24 202.83,561.55 192.01,570.80" fill="#cc403a" stroke="#000" stroke-width="1.65" stroke-linejoin="round"/>
<polygon points="173.47,565.47 192.01,570.80 202.83,561.55 184.29,556.22" fill="#cc403a" stroke="#000" stroke-width="1.65" stroke-linejoin="round"/>
<polygon points="173.47,593.16 192.01,598.49 192.01,571.86 173.47,566.53" fill="none" stroke="#000" stroke-width="1.3" stroke-linejoin="round"/>
<polygon points="192.01,598.49 202.83,589.24 202.83,562.62 192.01,571.86" fill="none" stroke="#000" stroke-width="1.3" stroke-linejoin="round"/>
<polygon points="173.47,566.53 192.01,571.86 202.83,562.62 184.29,557.29" fill="none" stroke="#000" stroke-width="1.3" stroke-linejoin="round"/>
<polygon points="159.95,604.72 178.49,610.05 178.49,582.36 159.95,577.03" fill="#cc403a" stroke="#000" stroke-width="1.65" stroke-linejoin="round"/>
<polygon points="178.49,610.05 189.31,600.80 189.31,573.11 178.49,582.36" fill="#cc403a" stroke="#000" stroke-width="1.65" stroke-linejoin="round"/>
<polygon points="159.95,577.03 178.49,582.36 189.31,573.11 170.77,567.78" fill="#cc403a" stroke="#000" stroke-width="1.65" stroke-linejoin="round"/>
<polygon points="159.95,604.72 178.49,610.05 178.49,583.42 159.95,578.09" fill="none" stroke="#000" stroke-width="1.3" stroke-linejoin="round"/>
<polygon points="178.49,610.05 189.31,600.80 189.31,574.18 178.49,583.42" fill="none" stroke="#000" stroke-width="1.3" stroke-linejoin="round"/>
<polygon points="159.95,578.09 178.49,583.42 189.31,574.18 170.77,568.85" fill="none" stroke="#000" stroke-width="1.3" stroke-linejoin="round"/>
<polygon points="146.43,642.90 164.97,648.23 164.97,621.61 146.43,616.28" fill="#5470de" stroke="#000" stroke-width="1.65" stroke-linejoin="round"/>
<polygon points="164.97,648.23 175.79,638.99 175.79,612.36 164.97,621.61" fill="#5470de" stroke="#000" stroke-width="1.65" stroke-linejoin="round"/>
<polygon points="146.43,616.28 164.97,621.61 175.79,612.36 157.25,607.03" fill="#5470de" stroke="#000" stroke-width="1.65" stroke-linejoin="round"/>
<polygon points="146.43,642.90 164.97,648.23 164.97,621.61 146.43,616.28" fill="none" stroke="#000" stroke-width="1.3" stroke-linejoin="round"/>
<polygon points="164.97,648.23 175.79,638.99 175.79,612.36 164.97,621.61" fill="none" stroke="#000" stroke-width="1.3" stroke-linejoin="round"/>
<polygon points="146.43,616.28 164.97,621.61 175.79,612.36 157.25,607.03" fill="none" stroke="#000" stroke-width="1.3" stroke-linejoin="round"/>
<polygon points="264.25,567.58 282.79,572.91 282.79,547.35 264.25,542.02" fill="#5977e3" stroke="#000" stroke-width="1.65" stroke-linejoin="round"/>
<polygon points="282.79,572.91 293.61,563.66 293.61,538.10 282.79,547.35" fill="#5977e3" stroke="#000" stroke-width="1.65" stroke-linejoin="round"/>
<polygon points="264.25,542.02 282.79,547.35 293.61,538.10 275.07,532.77" fill="#5977e3" stroke="#000" stroke-width="1.65" stroke-linejoin="round"/>
<polygon points="264.25,568.64 282.79,573.97 282.79,547.35 264.25,542.02" fill="none" stroke="#000" stroke-width="1.3" stroke-linejoin="round"/>
<polygon points="282.79,573.97 293.61,564.73 293.61,538.10 282.79,547.35" fill="none" stroke="#000" stroke-width="1.3" stroke-linejoin="round"/>
<polygon points="264.25,542.02 282.79,547.35 293.61,538.10 275.07,532.77" fill="none" stroke="#000" stroke-width="1.3" stroke-linejoin="round"/>
<polygon points="250.73,553.58 269.27,558.91 269.27,533.35 250.73,528.02" fill="#d65244" stroke="#000" stroke-width="1.65" stroke-linejoin="round"/>
<polygon points="269.27,558.91 280.09,549.66 280.09,524.10 269.27,533.35" fill="#d65244" stroke="#000" stroke-width="1.65" stroke-linejoin="round"/>
<polygon points="250.73,528.02 269.27,533.35 280.09,524.10 261.55,518.77" fill="#d65244" stroke="#000" stroke-width="1.65" stroke-linejoin="round"/>
<polygon points="250.73,553.58 269.27,558.91 269.27,532.28 250.73,526.96" fill="none" stroke="#000" stroke-width="1.3" stroke-linejoin="round"/>
<polygon points="269.27,558.91 280.09,549.66 280.09,523.03 269.27,532.28" fill="none" stroke="#000" stroke-width="1.3" stroke-linejoin="round"/>
<polygon points="250.73,526.96 269.27,532.28 280.09,523.03 261.55,517.71" fill="none" stroke="#000" stroke-width="1.3" stroke-linejoin="round"/>
<polygon points="237.21,565.14 255.75,570.47 255.75,548.10 237.21,542.77" fill="#e36c55" stroke="#000" stroke-width="1.65" stroke-linejoin="round"/>
<polygon points="255.75,570.47 266.57,561.22 266.57,538.86 255.75,548.10" fill="#e36c55" stroke="#000" stroke-width="1.65" stroke-linejoin="round"/>
<polygon points="237.21,542.77 255.75,548.10 266.57,538.86 248.03,533.53" fill="#e36c55" stroke="#000" stroke-width="1.65" stroke-linejoin="round"/>
<polygon points="237.21,565.14 255.75,570.47 255.75,543.84 237.21,538.51" fill="none" stroke="#000" stroke-width="1.3" stroke-linejoin="round"/>
<polygon points="255.75,570.47 266.57,561.22 266.57,534.60 255.75,543.84" fill="none" stroke="#000" stroke-width="1.3" stroke-linejoin="round"/>
<polygon points="237.21,538.51 255.75,543.84 266.57,534.60 248.03,529.27" fill="none" stroke="#000" stroke-width="1.3" stroke-linejoin="round"/>
<polygon points="223.69,576.70 242.23,582.03 242.23,560.09 223.69,554.76" fill="#e57058" stroke="#000" stroke-width="1.65" stroke-linejoin="round"/>
<polygon points="242.23,582.03 253.05,572.78 253.05,550.84 242.23,560.09" fill="#e57058" stroke="#000" stroke-width="1.65" stroke-linejoin="round"/>
<polygon points="223.69,554.76 242.23,560.09 253.05,550.84 234.51,545.51" fill="#e57058" stroke="#000" stroke-width="1.65" stroke-linejoin="round"/>
<polygon points="223.69,576.70 242.23,582.03 242.23,555.40 223.69,550.08" fill="none" stroke="#000" stroke-width="1.3" stroke-linejoin="round"/>
<polygon points="242.23,582.03 253.05,572.78 253.05,546.15 242.23,555.40" fill="none" stroke="#000" stroke-width="1.3" stroke-linejoin="round"/>
<polygon points="223.69,550.08 242.23,555.40 253.05,546.15 234.51,540.83" fill="none" stroke="#000" stroke-width="1.3" stroke-linejoin="round"/>
<polygon points="210.17,588.26 228.71,593.59 228.71,571.22 210.17,565.89" fill="#e36c55" stroke="#000" stroke-width="1.65" stroke-linejoin="round"/>
<polygon points="228.71,593.59 239.53,584.34 239.53,561.98 228.71,571.22" fill="#e36c55" stroke="#000" stroke-width="1.65" stroke-linejoin="round"/>
<polygon points="210.17,565.89 228.71,571.22 239.53,561.98 220.99,556.65" fill="#e36c55" stroke="#000" stroke-width="1.65" stroke-linejoin="round"/>
<polygon points="210.17,588.26 228.71,593.59 228.71,566.96 210.17,561.63" fill="none" stroke="#000" stroke-width="1.3" stroke-linejoin="round"/>
<polygon points="228.71,593.59 239.53,584.34 239.53,557.72 228.71,566.96" fill="none" stroke="#000" stroke-width="1.3" stroke-linejoin="round"/>
<polygon points="210.17,561.63 228.71,566.96 239.53,557.72 220.99,552.39" fill="none" stroke="#000" stroke-width="1.3" stroke-linejoin="round"/>
<polygon points="196.65,599.82 215.19,605.15 215.19,581.72 196.65,576.39" fill="#e0654f" stroke="#000" stroke-width="1.65" stroke-linejoin="round"/>
<polygon points="215.19,605.15 226.01,595.90 226.01,572.47 215.19,581.72" fill="#e0654f" stroke="#000" stroke-width="1.65" stroke-linejoin="round"/>
<polygon points="196.65,576.39 215.19,581.72 226.01,572.47 207.47,567.14" fill="#e0654f" stroke="#000" stroke-width="1.65" stroke-linejoin="round"/>
<polygon points="196.65,599.82 215.19,605.15 215.19,578.52 196.65,573.20" fill="none" stroke="#000" stroke-width="1.3" stroke-linejoin="round"/>
<polygon points="215.19,605.15 226.01,595.90 226.01,569.27 215.19,578.52" fill="none" stroke="#000" stroke-width="1.3" stroke-linejoin="round"/>
<polygon points="196.65,573.20 215.19,578.52 226.01,569.27 207.47,563.95" fill="none" stroke="#000" stroke-width="1.3" stroke-linejoin="round"/>
<polygon points="183.13,611.38 201.67,616.71 201.67,591.79 183.13,586.46" fill="#d95847" stroke="#000" stroke-width="1.65" stroke-linejoin="round"/>
<polygon points="201.67,616.71 212.49,607.46 212.49,582.54 201.67,591.79" fill="#d95847" stroke="#000" stroke-width="1.65" stroke-linejoin="round"/>
<polygon points="183.13,586.46 201.67,591.79 212.49,582.54 193.95,577.21" fill="#d95847" stroke="#000" stroke-width="1.65" stroke-linejoin="round"/>
<polygon points="183.13,611.38 201.67,616.71 201.67,590.08 183.13,584.75" fill="none" stroke="#000" stroke-width="1.3" stroke-linejoin="round"/>
<polygon points="201.67,616.71 212.49,607.46 212.49,580.84 201.67,590.08" fill="none" stroke="#000" stroke-width="1.3" stroke-linejoin="round"/>
<polygon points="183.13,584.75 201.67,590.08 212.49,580.84 193.95,575.51" fill="none" stroke="#000" stroke-width="1.3" stroke-linejoin="round"/>
<polygon points="169.61,647.44 188.15,652.76 188.15,628.27 169.61,622.94" fill="#5e7de7" stroke="#000" stroke-width="1.65" stroke-linejoin="round"/>
<polygon points="188.15,652.76 198.97,643.51 198.97,619.02 188.15,628.27" fill="#5e7de7" stroke="#000" stroke-width="1.65" stroke-linejoin="round"/>
<polygon points="169.61,622.94 188.15,628.27 198.97,619.02 180.43,613.69" fill="#5e7de7" stroke="#000" stroke-width="1.65" stroke-linejoin="round"/>
<polygon points="169.61,649.57 188.15,654.89 188.15,628.27 169.61,622.94" fill="none" stroke="#000" stroke-width="1.3" stroke-linejoin="round"/>
<polygon points="188.15,654.89 198.97,645.64 198.97,619.02 188.15,628.27" fill="none" stroke="#000" stroke-width="1.3" stroke-linejoin="round"/>
<polygon points="169.61,622.94 188.15,628.27 198.97,619.02 180.43,613.69" fill="none" stroke="#000" stroke-width="1.3" stroke-linejoin="round"/>
<polygon points="287.43,574.24 305.97,579.57 305.97,554.01 287.43,548.68" fill="#5977e3" stroke="#000" stroke-width="1.65" stroke-linejoin="round"/>
<polygon points="305.97,579.57 316.79,570.32 316.79,544.76 305.97,554.01" fill="#5977e3" stroke="#000" stroke-width="1.65" stroke-linejoin="round"/>
<polygon points="287.43,548.68 305.97,554.01 316.79,544.76 298.25,539.43" fill="#5977e3" stroke="#000" stroke-width="1.65" stroke-linejoin="round"/>
<polygon points="287.43,575.31 305.97,580.63 305.97,554.01 287.43,548.68" fill="none" stroke="#000" stroke-width="1.3" stroke-linejoin="round"/>
<polygon points="305.97,580.63 316.79,571.38 316.79,544.76 305.97,554.01" fill="none" stroke="#000" stroke-width="1.3" stroke-linejoin="round"/>
<polygon points="287.43,548.68 305.97,554.01 316.79,544.76 298.25,539.43" fill="none" stroke="#000" stroke-width="1.3" stroke-linejoin="round"/>
<polygon points="273.91,560.24 292.45,565.57 292.45,541.07 273.91,535.75" fill="#da5a49" stroke="#000" stroke-width="1.65" stroke-linejoin="round"/>
<polygon points="292.45,565.57 303.27,556.32 303.27,531.82 292.45,541.07" fill="#da5a49" stroke="#000" stroke-width="1.65" stroke-linejoin="round"/>
<polygon points="273.91,535.75 292.45,541.07 303.27,531.82 284.73,526.50" fill="#da5a49" stroke="#000" stroke-width="1.65" stroke-linejoin="round"/>
<polygon points="273.91,560.24 292.45,565.57 292.45,538.94 273.91,533.62" fill="none" stroke="#000" stroke-width="1.3" stroke-linejoin="round"/>
<polygon points="292.45,565.57 303.27,556.32 303.27,529.69 292.45,538.94" fill="none" stroke="#000" stroke-width="1.3" stroke-linejoin="round"/>
<polygon points="273.91,533.62 292.45,538.94 303.27,529.69 284.73,524.37" fill="none" stroke="#000" stroke-width="1.3" stroke-linejoin="round"/>
<polygon points="260.39,571.80 278.93,577.13 278.93,554.34 260.39,549.01" fill="#e26952" stroke="#000" stroke-width="1.65" stroke-linejoin="round"/>
<polygon points="278.93,577.13 289.75,567.88 289.75,545.09 278.93,554.34" fill="#e26952" stroke="#000" stroke-width="1.65" stroke-linejoin="round"/>
<polygon points="260.39,549.01 278.93,554.34 289.75,545.09 271.21,539.76" fill="#e26952" stroke="#000" stroke-width="1.65" stroke-linejoin="round"/>
<polygon points="260.39,571.80 278.93,577.13 278.93,550.50 260.39,545.17" fill="none" stroke="#000" stroke-width="1.3" stroke-linejoin="round"/>
<polygon points="278.93,577.13 289.75,567.88 289.75,541.25 278.93,550.50" fill="none" stroke="#000" stroke-width="1.3" stroke-linejoin="round"/>
<polygon points="260.39,545.17 278.93,550.50 289.75,541.25 271.21,535.93" fill="none" stroke="#000" stroke-width="1.3" stroke-linejoin="round"/>
<polygon points="246.87,583.36 265.41,588.69 265.41,567.39 246.87,562.06" fill="#e7745b" stroke="#000" stroke-width="1.65" stroke-linejoin="round"/>
<polygon points="265.41,588.69 276.23,579.44 276.23,558.14 265.41,567.39" fill="#e7745b" stroke="#000" stroke-width="1.65" stroke-linejoin="round"/>
<polygon points="246.87,562.06 265.41,567.39 276.23,558.14 257.69,552.81" fill="#e7745b" stroke="#000" stroke-width="1.65" stroke-linejoin="round"/>
<polygon points="246.87,583.36 265.41,588.69 265.41,562.06 246.87,556.74" fill="none" stroke="#000" stroke-width="1.3" stroke-linejoin="round"/>
<polygon points="265.41,588.69 276.23,579.44 276.23,552.81 265.41,562.06" fill="none" stroke="#000" stroke-width="1.3" stroke-linejoin="round"/>
<polygon points="246.87,556.74 265.41,562.06 276.23,552.81 257.69,547.49" fill="none" stroke="#000" stroke-width="1.3" stroke-linejoin="round"/>
<polygon points="233.35,594.92 251.89,600.25 251.89,578.95 233.35,573.62" fill="#e7745b" stroke="#000" stroke-width="1.65" stroke-linejoin="round"/>
<polygon points="251.89,600.25 262.71,591.00 262.71,569.70 251.89,578.95" fill="#e7745b" stroke="#000" stroke-width="1.65" stroke-linejoin="round"/>
<polygon points="233.35,573.62 251.89,578.95 262.71,569.70 244.17,564.37" fill="#e7745b" stroke="#000" stroke-width="1.65" stroke-linejoin="round"/>
<polygon points="233.35,594.92 251.89,600.25 251.89,573.62 233.35,568.29" fill="none" stroke="#000" stroke-width="1.3" stroke-linejoin="round"/>
<polygon points="251.89,600.25 262.71,591.00 262.71,564.38 251.89,573.62" fill="none" stroke="#000" stroke-width="1.3" stroke-linejoin="round"/>
<polygon points="233.35,568.29 251.89,573.62 262.71,564.38 244.17,559.05" fill="none" stroke="#000" stroke-width="1.3" stroke-linejoin="round"/>
<polygon points="219.83,606.48 238.37,611.81 238.37,588.80 219.83,583.48" fill="#e16751" stroke="#000" stroke-width="1.65" stroke-linejoin="round"/>
<polygon points="238.37,611.81 249.19,602.56 249.19,579.56 238.37,588.80" fill="#e16751" stroke="#000" stroke-width="1.65" stroke-linejoin="round"/>
<polygon points="219.83,583.48 238.37,588.80 249.19,579.56 230.65,574.23" fill="#e16751" stroke="#000" stroke-width="1.65" stroke-linejoin="round"/>
<polygon points="219.83,606.48 238.37,611.81 238.37,585.18 219.83,579.86" fill="none" stroke="#000" stroke-width="1.3" stroke-linejoin="round"/>
<polygon points="238.37,611.81 249.19,602.56 249.19,575.93 238.37,585.18" fill="none" stroke="#000" stroke-width="1.3" stroke-linejoin="round"/>
<polygon points="219.83,579.86 238.37,585.18 249.19,575.93 230.65,570.61" fill="none" stroke="#000" stroke-width="1.3" stroke-linejoin="round"/>
<polygon points="206.31,618.04 224.85,623.37 224.85,597.81 206.31,592.48" fill="#d65244" stroke="#000" stroke-width="1.65" stroke-linejoin="round"/>
<polygon points="224.85,623.37 235.67,614.12 235.67,588.56 224.85,597.81" fill="#d65244" stroke="#000" stroke-width="1.65" stroke-linejoin="round"/>
<polygon points="206.31,592.48 224.85,597.81 235.67,588.56 217.13,583.23" fill="#d65244" stroke="#000" stroke-width="1.65" stroke-linejoin="round"/>
<polygon points="206.31,618.04 224.85,623.37 224.85,596.74 206.31,591.41" fill="none" stroke="#000" stroke-width="1.3" stroke-linejoin="round"/>
<polygon points="224.85,623.37 235.67,614.12 235.67,587.50 224.85,596.74" fill="none" stroke="#000" stroke-width="1.3" stroke-linejoin="round"/>
<polygon points="206.31,591.41 224.85,596.74 235.67,587.50 217.13,582.17" fill="none" stroke="#000" stroke-width="1.3" stroke-linejoin="round"/>
<polygon points="192.79,653.03 211.33,658.36 211.33,634.93 192.79,629.60" fill="#6485ec" stroke="#000" stroke-width="1.65" stroke-linejoin="round"/>
<polygon points="211.33,658.36 222.15,649.11 222.15,625.68 211.33,634.93" fill="#6485ec" stroke="#000" stroke-width="1.65" stroke-linejoin="round"/>
<polygon points="192.79,629.60 211.33,634.93 222.15,625.68 203.61,620.35" fill="#6485ec" stroke="#000" stroke-width="1.65" stroke-linejoin="round"/>
<polygon points="192.79,656.23 211.33,661.55 211.33,634.93 192.79,629.60" fill="none" stroke="#000" stroke-width="1.3" stroke-linejoin="round"/>
<polygon points="211.33,661.55 222.15,652.30 222.15,625.68 211.33,634.93" fill="none" stroke="#000" stroke-width="1.3" stroke-linejoin="round"/>
<polygon points="192.79,629.60 211.33,634.93 222.15,625.68 203.61,620.35" fill="none" stroke="#000" stroke-width="1.3" stroke-linejoin="round"/>
<polygon points="310.61,580.90 329.15,586.23 329.15,560.67 310.61,555.34" fill="#5977e3" stroke="#000" stroke-width="1.65" stroke-linejoin="round"/>
<polygon points="329.15,586.23 339.97,576.98 339.97,551.42 329.15,560.67" fill="#5977e3" stroke="#000" stroke-width="1.65" stroke-linejoin="round"/>
<polygon points="310.61,555.34 329.15,560.67 339.97,551.42 321.43,546.09" fill="#5977e3" stroke="#000" stroke-width="1.65" stroke-linejoin="round"/>
<polygon points="310.61,581.96 329.15,587.29 329.15,560.67 310.61,555.34" fill="none" stroke="#000" stroke-width="1.3" stroke-linejoin="round"/>
<polygon points="329.15,587.29 339.97,578.05 339.97,551.42 329.15,560.67" fill="none" stroke="#000" stroke-width="1.3" stroke-linejoin="round"/>
<polygon points="310.61,555.34 329.15,560.67 339.97,551.42 321.43,546.09" fill="none" stroke="#000" stroke-width="1.3" stroke-linejoin="round"/>
<polygon points="297.09,566.90 315.63,572.23 315.63,547.09 297.09,541.77" fill="#d85646" stroke="#000" stroke-width="1.65" stroke-linejoin="round"/>
<polygon points="315.63,572.23 326.45,562.98 326.45,537.85 315.63,547.09" fill="#d85646" stroke="#000" stroke-width="1.65" stroke-linejoin="round"/>
<polygon points="297.09,541.77 315.63,547.09 326.45,537.85 307.91,532.52" fill="#d85646" stroke="#000" stroke-width="1.65" stroke-linejoin="round"/>
<polygon points="297.09,566.90 315.63,572.23 315.63,545.60 297.09,540.27" fill="none" stroke="#000" stroke-width="1.3" stroke-linejoin="round"/>
<polygon points="315.63,572.23 326.45,562.98 326.45,536.36 315.63,545.60" fill="none" stroke="#000" stroke-width="1.3" stroke-linejoin="round"/>
<polygon points="297.09,540.27 315.63,545.60 326.45,536.36 307.91,531.03" fill="none" stroke="#000" stroke-width="1.3" stroke-linejoin="round"/>
<polygon points="283.57,578.46 302.11,583.79 302.11,559.29 283.57,553.96" fill="#da5a49" stroke="#000" stroke-width="1.65" stroke-linejoin="round"/>
<polygon points="302.11,583.79 312.93,574.54 312.93,550.05 302.11,559.29" fill="#da5a49" stroke="#000" stroke-width="1.65" stroke-linejoin="round"/>
<polygon points="283.57,553.96 302.11,559.29 312.93,550.05 294.39,544.72" fill="#da5a49" stroke="#000" stroke-width="1.65" stroke-linejoin="round"/>
<polygon points="283.57,578.46 302.11,583.79 302.11,557.16 283.57,551.83" fill="none" stroke="#000" stroke-width="1.3" stroke-linejoin="round"/>
<polygon points="302.11,583.79 312.93,574.54 312.93,547.92 302.11,557.16" fill="none" stroke="#000" stroke-width="1.3" stroke-linejoin="round"/>
<polygon points="283.57,551.83 302.11,557.16 312.93,547.92 294.39,542.59" fill="none" stroke="#000" stroke-width="1.3" stroke-linejoin="round"/>
<polygon points="270.05,590.02 288.59,595.35 288.59,572.56 270.05,567.23" fill="#e26952" stroke="#000" stroke-width="1.65" stroke-linejoin="round"/>
<polygon points="288.59,595.35 299.41,586.10 299.41,563.31 288.59,572.56" fill="#e26952" stroke="#000" stroke-width="1.65" stroke-linejoin="round"/>
<polygon points="270.05,567.23 288.59,572.56 299.41,563.31 280.87,557.98" fill="#e26952" stroke="#000" stroke-width="1.65" stroke-linejoin="round"/>
<polygon points="270.05,590.02 288.59,595.35 288.59,568.72 270.05,563.39" fill="none" stroke="#000" stroke-width="1.3" stroke-linejoin="round"/>
<polygon points="288.59,595.35 299.41,586.10 299.41,559.48 288.59,568.72" fill="none" stroke="#000" stroke-width="1.3" stroke-linejoin="round"/>
<polygon points="270.05,563.39 288.59,568.72 299.41,559.48 280.87,554.15" fill="none" stroke="#000" stroke-width="1.3" stroke-linejoin="round"/>
<polygon points="256.53,601.58 275.07,606.91 275.07,584.76 256.53,579.43" fill="#e46e56" stroke="#000" stroke-width="1.65" stroke-linejoin="round"/>
<polygon points="275.07,606.91 285.89,597.66 285.89,575.51 275.07,584.76" fill="#e46e56" stroke="#000" stroke-width="1.65" stroke-linejoin="round"/>
<polygon points="256.53,579.43 275.07,584.76 285.89,575.51 267.35,570.18" fill="#e46e56" stroke="#000" stroke-width="1.65" stroke-linejoin="round"/>
<polygon points="256.53,601.58 275.07,606.91 275.07,580.28 256.53,574.95" fill="none" stroke="#000" stroke-width="1.3" stroke-linejoin="round"/>
<polygon points="275.07,606.91 285.89,597.66 285.89,571.04 275.07,580.28" fill="none" stroke="#000" stroke-width="1.3" stroke-linejoin="round"/>
<polygon points="256.53,574.95 275.07,580.28 285.89,571.04 267.35,565.71" fill="none" stroke="#000" stroke-width="1.3" stroke-linejoin="round"/>
<polygon points="243.01,613.14 261.55,618.47 261.55,594.40 243.01,589.07" fill="#dd5f4b" stroke="#000" stroke-width="1.65" stroke-linejoin="round"/>
<polygon points="261.55,618.47 272.37,609.22 272.37,585.15 261.55,594.40" fill="#dd5f4b" stroke="#000" stroke-width="1.65" stroke-linejoin="round"/>
<polygon points="243.01,589.07 261.55,594.40 272.37,585.15 253.83,579.82" fill="#dd5f4b" stroke="#000" stroke-width="1.65" stroke-linejoin="round"/>
<polygon points="243.01,613.14 261.55,618.47 261.55,591.84 243.01,586.51" fill="none" stroke="#000" stroke-width="1.3" stroke-linejoin="round"/>
<polygon points="261.55,618.47 272.37,609.22 272.37,582.60 261.55,591.84" fill="none" stroke="#000" stroke-width="1.3" stroke-linejoin="round"/>
<polygon points="243.01,586.51 261.55,591.84 272.37,582.60 253.83,577.27" fill="none" stroke="#000" stroke-width="1.3" stroke-linejoin="round"/>
<polygon points="229.49,624.70 248.03,630.03 248.03,602.34 229.49,597.01" fill="#cc403a" stroke="#000" stroke-width="1.65" stroke-linejoin="round"/>
<polygon points="248.03,630.03 258.85,620.78 258.85,593.09 248.03,602.34" fill="#cc403a" stroke="#000" stroke-width="1.65" stroke-linejoin="round"/>
<polygon points="229.49,597.01 248.03,602.34 258.85,593.09 240.31,587.76" fill="#cc403a" stroke="#000" stroke-width="1.65" stroke-linejoin="round"/>
<polygon points="229.49,624.70 248.03,630.03 248.03,603.40 229.49,598.07" fill="none" stroke="#000" stroke-width="1.3" stroke-linejoin="round"/>
<polygon points="248.03,630.03 258.85,620.78 258.85,594.16 248.03,603.40" fill="none" stroke="#000" stroke-width="1.3" stroke-linejoin="round"/>
<polygon points="229.49,598.07 248.03,603.40 258.85,594.16 240.31,588.83" fill="none" stroke="#000" stroke-width="1.3" stroke-linejoin="round"/>
<polygon points="215.97,661.82 234.51,667.15 234.51,641.59 215.97,636.26" fill="#5977e3" stroke="#000" stroke-width="1.65" stroke-linejoin="round"/>
<polygon points="234.51,667.15 245.33,657.90 245.33,632.34 234.51,641.59" fill="#5977e3" stroke="#000" stroke-width="1.65" stroke-linejoin="round"/>
<polygon points="215.97,636.26 234.51,641.59 245.33,632.34 226.79,627.01" fill="#5977e3" stroke="#000" stroke-width="1.65" stroke-linejoin="round"/>
<polygon points="215.97,662.88 234.51,668.21 234.51,641.59 215.97,636.26" fill="none" stroke="#000" stroke-width="1.3" stroke-linejoin="round"/>
<polygon points="234.51,668.21 245.33,658.97 245.33,632.34 234.51,641.59" fill="none" stroke="#000" stroke-width="1.3" stroke-linejoin="round"/>
<polygon points="215.97,636.26 234.51,641.59 245.33,632.34 226.79,627.01" fill="none" stroke="#000" stroke-width="1.3" stroke-linejoin="round"/>
<polygon points="333.79,587.56 352.33,592.89 352.33,567.33 333.79,562.00" fill="#5977e3" stroke="#000" stroke-width="1.65" stroke-linejoin="round"/>
<polygon points="352.33,592.89 363.15,583.64 363.15,558.08 352.33,567.33" fill="#5977e3" stroke="#000" stroke-width="1.65" stroke-linejoin="round"/>
<polygon points="333.79,562.00 352.33,567.33 363.15,558.08 344.61,552.75" fill="#5977e3" stroke="#000" stroke-width="1.65" stroke-linejoin="round"/>
<polygon points="333.79,588.62 352.33,593.95 352.33,567.33 333.79,562.00" fill="none" stroke="#000" stroke-width="1.3" stroke-linejoin="round"/>
<polygon points="352.33,593.95 363.15,584.71 363.15,558.08 352.33,567.33" fill="none" stroke="#000" stroke-width="1.3" stroke-linejoin="round"/>
<polygon points="333.79,562.00 352.33,567.33 363.15,558.08 344.61,552.75" fill="none" stroke="#000" stroke-width="1.3" stroke-linejoin="round"/>
<polygon points="320.27,573.56 338.81,578.89 338.81,549.07 320.27,543.74" fill="#c0282f" stroke="#000" stroke-width="1.65" stroke-linejoin="round"/>
<polygon points="338.81,578.89 349.63,569.64 349.63,539.82 338.81,549.07" fill="#c0282f" stroke="#000" stroke-width="1.65" stroke-linejoin="round"/>
<polygon points="320.27,543.74 338.81,549.07 349.63,539.82 331.09,534.49" fill="#c0282f" stroke="#000" stroke-width="1.65" stroke-linejoin="round"/>
<polygon points="320.27,573.56 338.81,578.89 338.81,552.26 320.27,546.94" fill="none" stroke="#000" stroke-width="1.3" stroke-linejoin="round"/>
<polygon points="338.81,578.89 349.63,569.64 349.63,543.01 338.81,552.26" fill="none" stroke="#000" stroke-width="1.3" stroke-linejoin="round"/>
<polygon points="320.27,546.94 338.81,552.26 349.63,543.01 331.09,537.69" fill="none" stroke="#000" stroke-width="1.3" stroke-linejoin="round"/>
<polygon points="306.75,585.12 325.29,590.45 325.29,564.89 306.75,559.56" fill="#d65244" stroke="#000" stroke-width="1.65" stroke-linejoin="round"/>
<polygon points="325.29,590.45 336.11,581.20 336.11,555.64 325.29,564.89" fill="#d65244" stroke="#000" stroke-width="1.65" stroke-linejoin="round"/>
<polygon points="306.75,559.56 325.29,564.89 336.11,555.64 317.57,550.31" fill="#d65244" stroke="#000" stroke-width="1.65" stroke-linejoin="round"/>
<polygon points="306.75,585.12 325.29,590.45 325.29,563.82 306.75,558.50" fill="none" stroke="#000" stroke-width="1.3" stroke-linejoin="round"/>
<polygon points="325.29,590.45 336.11,581.20 336.11,554.58 325.29,563.82" fill="none" stroke="#000" stroke-width="1.3" stroke-linejoin="round"/>
<polygon points="306.75,558.50 325.29,563.82 336.11,554.58 317.57,549.25" fill="none" stroke="#000" stroke-width="1.3" stroke-linejoin="round"/>
<polygon points="293.23,596.68 311.77,602.01 311.77,577.51 293.23,572.19" fill="#da5a49" stroke="#000" stroke-width="1.65" stroke-linejoin="round"/>
<polygon points="311.77,602.01 322.59,592.76 322.59,568.26 311.77,577.51" fill="#da5a49" stroke="#000" stroke-width="1.65" stroke-linejoin="round"/>
<polygon points="293.23,572.19 311.77,577.51 322.59,568.26 304.05,562.94" fill="#da5a49" stroke="#000" stroke-width="1.65" stroke-linejoin="round"/>
<polygon points="293.23,596.68 311.77,602.01 311.77,575.38 293.23,570.06" fill="none" stroke="#000" stroke-width="1.3" stroke-linejoin="round"/>
<polygon points="311.77,602.01 322.59,592.76 322.59,566.13 311.77,575.38" fill="none" stroke="#000" stroke-width="1.3" stroke-linejoin="round"/>
<polygon points="293.23,570.06 311.77,575.38 322.59,566.13 304.05,560.81" fill="none" stroke="#000" stroke-width="1.3" stroke-linejoin="round"/>
<polygon points="279.71,608.24 298.25,613.57 298.25,588.65 279.71,583.32" fill="#d95847" stroke="#000" stroke-width="1.65" stroke-linejoin="round"/>
<polygon points="298.25,613.57 309.07,604.32 309.07,579.40 298.25,588.65" fill="#d95847" stroke="#000" stroke-width="1.65" stroke-linejoin="round"/>
<polygon points="279.71,583.32 298.25,588.65 309.07,579.40 290.53,574.07" fill="#d95847" stroke="#000" stroke-width="1.65" stroke-linejoin="round"/>
<polygon points="279.71,608.24 298.25,613.57 298.25,586.94 279.71,581.62" fill="none" stroke="#000" stroke-width="1.3" stroke-linejoin="round"/>
<polygon points="298.25,613.57 309.07,604.32 309.07,577.70 298.25,586.94" fill="none" stroke="#000" stroke-width="1.3" stroke-linejoin="round"/>
<polygon points="279.71,581.62 298.25,586.94 309.07,577.70 290.53,572.37" fill="none" stroke="#000" stroke-width="1.3" stroke-linejoin="round"/>
<polygon points="266.19,619.80 284.73,625.13 284.73,598.93 266.19,593.60" fill="#d44e41" stroke="#000" stroke-width="1.65" stroke-linejoin="round"/>
<polygon points="284.73,625.13 295.55,615.88 295.55,589.68 284.73,598.93" fill="#d44e41" stroke="#000" stroke-width="1.65" stroke-linejoin="round"/>
<polygon points="266.19,593.60 284.73,598.93 295.55,589.68 277.01,584.35" fill="#d44e41" stroke="#000" stroke-width="1.65" stroke-linejoin="round"/>
<polygon points="266.19,619.80 284.73,625.13 284.73,598.50 266.19,593.18" fill="none" stroke="#000" stroke-width="1.3" stroke-linejoin="round"/>
<polygon points="284.73,625.13 295.55,615.88 295.55,589.25 284.73,598.50" fill="none" stroke="#000" stroke-width="1.3" stroke-linejoin="round"/>
<polygon points="266.19,593.18 284.73,598.50 295.55,589.25 277.01,583.93" fill="none" stroke="#000" stroke-width="1.3" stroke-linejoin="round"/>
<polygon points="252.67,631.36 271.21,636.69 271.21,607.29 252.67,601.97" fill="#c32e31" stroke="#000" stroke-width="1.65" stroke-linejoin="round"/>
<polygon points="271.21,636.69 282.03,627.44 282.03,598.05 271.21,607.29" fill="#c32e31" stroke="#000" stroke-width="1.65" stroke-linejoin="round"/>
<polygon points="252.67,601.97 271.21,607.29 282.03,598.05 263.49,592.72" fill="#c32e31" stroke="#000" stroke-width="1.65" stroke-linejoin="round"/>
<polygon points="252.67,631.36 271.21,636.69 271.21,610.06 252.67,604.74" fill="none" stroke="#000" stroke-width="1.3" stroke-linejoin="round"/>
<polygon points="271.21,636.69 282.03,627.44 282.03,600.82 271.21,610.06" fill="none" stroke="#000" stroke-width="1.3" stroke-linejoin="round"/>
<polygon points="252.67,604.74 271.21,610.06 282.03,600.82 263.49,595.49" fill="none" stroke="#000" stroke-width="1.3" stroke-linejoin="round"/>
<polygon points="239.15,669.55 257.69,674.87 257.69,648.25 239.15,642.92" fill="#5470de" stroke="#000" stroke-width="1.65" stroke-linejoin="round"/>
<polygon points="257.69,674.87 268.51,665.62 268.51,639.00 257.69,648.25" fill="#5470de" stroke="#000" stroke-width="1.65" stroke-linejoin="round"/>
<polygon points="239.15,642.92 257.69,648.25 268.51,639.00 249.97,633.67" fill="#5470de" stroke="#000" stroke-width="1.65" stroke-linejoin="round"/>
<polygon points="239.15,669.55 257.69,674.87 257.69,648.25 239.15,642.92" fill="none" stroke="#000" stroke-width="1.3" stroke-linejoin="round"/>
<polygon points="257.69,674.87 268.51,665.62 268.51,639.00 257.69,648.25" fill="none" stroke="#000" stroke-width="1.3" stroke-linejoin="round"/>
<polygon points="239.15,642.92 257.69,648.25 268.51,639.00 249.97,633.67" fill="none" stroke="#000" stroke-width="1.3" stroke-linejoin="round"/>
<polygon points="356.97,568.66 375.51,573.99 375.51,547.58 356.97,542.25" fill="#d24b40" stroke="#000" stroke-width="1.65" stroke-linejoin="round"/>
<polygon points="375.51,573.99 386.33,564.74 386.33,538.33 375.51,547.58" fill="#d24b40" stroke="#000" stroke-width="1.65" stroke-linejoin="round"/>
<polygon points="356.97,542.25 375.51,547.58 386.33,538.33 367.79,533.00" fill="#d24b40" stroke="#000" stroke-width="1.65" stroke-linejoin="round"/>
<polygon points="356.97,568.66 375.51,573.99 375.51,547.36 356.97,542.04" fill="none" stroke="#000" stroke-width="1.3" stroke-linejoin="round"/>
<polygon points="375.51,573.99 386.33,564.74 386.33,538.12 375.51,547.36" fill="none" stroke="#000" stroke-width="1.3" stroke-linejoin="round"/>
<polygon points="356.97,542.04 375.51,547.36 386.33,538.12 367.79,532.79" fill="none" stroke="#000" stroke-width="1.3" stroke-linejoin="round"/>
<polygon points="343.45,606.85 361.99,612.17 361.99,585.55 343.45,580.22" fill="#5470de" stroke="#000" stroke-width="1.65" stroke-linejoin="round"/>
<polygon points="361.99,612.17 372.81,602.92 372.81,576.30 361.99,585.55" fill="#5470de" stroke="#000" stroke-width="1.65" stroke-linejoin="round"/>
<polygon points="343.45,580.22 361.99,585.55 372.81,576.30 354.27,570.97" fill="#5470de" stroke="#000" stroke-width="1.65" stroke-linejoin="round"/>
<polygon points="343.45,606.85 361.99,612.17 361.99,585.55 343.45,580.22" fill="none" stroke="#000" stroke-width="1.3" stroke-linejoin="round"/>
<polygon points="361.99,612.17 372.81,602.92 372.81,576.30 361.99,585.55" fill="none" stroke="#000" stroke-width="1.3" stroke-linejoin="round"/>
<polygon points="343.45,580.22 361.99,585.55 372.81,576.30 354.27,570.97" fill="none" stroke="#000" stroke-width="1.3" stroke-linejoin="round"/>
<polygon points="329.93,617.34 348.47,622.67 348.47,597.11 329.93,591.78" fill="#5977e3" stroke="#000" stroke-width="1.65" stroke-linejoin="round"/>
<polygon points="348.47,622.67 359.29,613.42 359.29,587.86 348.47,597.11" fill="#5977e3" stroke="#000" stroke-width="1.65" stroke-linejoin="round"/>
<polygon points="329.93,591.78 348.47,597.11 359.29,587.86 340.75,582.53" fill="#5977e3" stroke="#000" stroke-width="1.65" stroke-linejoin="round"/>
<polygon points="329.93,618.40 348.47,623.73 348.47,597.11 329.93,591.78" fill="none" stroke="#000" stroke-width="1.3" stroke-linejoin="round"/>
<polygon points="348.47,623.73 359.29,614.49 359.29,587.86 348.47,597.11" fill="none" stroke="#000" stroke-width="1.3" stroke-linejoin="round"/>
<polygon points="329.93,591.78 348.47,597.11 359.29,587.86 340.75,582.53" fill="none" stroke="#000" stroke-width="1.3" stroke-linejoin="round"/>
<polygon points="316.41,626.77 334.95,632.10 334.95,608.67 316.41,603.34" fill="#6485ec" stroke="#000" stroke-width="1.65" stroke-linejoin="round"/>
<polygon points="334.95,632.10 345.77,622.85 345.77,599.42 334.95,608.67" fill="#6485ec" stroke="#000" stroke-width="1.65" stroke-linejoin="round"/>
<polygon points="316.41,603.34 334.95,608.67 345.77,599.42 327.23,594.09" fill="#6485ec" stroke="#000" stroke-width="1.65" stroke-linejoin="round"/>
<polygon points="316.41,629.97 334.95,635.29 334.95,608.67 316.41,603.34" fill="none" stroke="#000" stroke-width="1.3" stroke-linejoin="round"/>
<polygon points="334.95,635.29 345.77,626.04 345.77,599.42 334.95,608.67" fill="none" stroke="#000" stroke-width="1.3" stroke-linejoin="round"/>
<polygon points="316.41,603.34 334.95,608.67 345.77,599.42 327.23,594.09" fill="none" stroke="#000" stroke-width="1.3" stroke-linejoin="round"/>
<polygon points="302.89,638.33 321.43,643.66 321.43,620.23 302.89,614.90" fill="#6485ec" stroke="#000" stroke-width="1.65" stroke-linejoin="round"/>
<polygon points="321.43,643.66 332.25,634.41 332.25,610.98 321.43,620.23" fill="#6485ec" stroke="#000" stroke-width="1.65" stroke-linejoin="round"/>
<polygon points="302.89,614.90 321.43,620.23 332.25,610.98 313.71,605.65" fill="#6485ec" stroke="#000" stroke-width="1.65" stroke-linejoin="round"/>
<polygon points="302.89,641.52 321.43,646.85 321.43,620.23 302.89,614.90" fill="none" stroke="#000" stroke-width="1.3" stroke-linejoin="round"/>
<polygon points="321.43,646.85 332.25,637.61 332.25,610.98 321.43,620.23" fill="none" stroke="#000" stroke-width="1.3" stroke-linejoin="round"/>
<polygon points="302.89,614.90 321.43,620.23 332.25,610.98 313.71,605.65" fill="none" stroke="#000" stroke-width="1.3" stroke-linejoin="round"/>
<polygon points="289.37,650.96 307.91,656.28 307.91,631.79 289.37,626.46" fill="#5e7de7" stroke="#000" stroke-width="1.65" stroke-linejoin="round"/>
<polygon points="307.91,656.28 318.73,647.03 318.73,622.54 307.91,631.79" fill="#5e7de7" stroke="#000" stroke-width="1.65" stroke-linejoin="round"/>
<polygon points="289.37,626.46 307.91,631.79 318.73,622.54 300.19,617.21" fill="#5e7de7" stroke="#000" stroke-width="1.65" stroke-linejoin="round"/>
<polygon points="289.37,653.09 307.91,658.41 307.91,631.79 289.37,626.46" fill="none" stroke="#000" stroke-width="1.3" stroke-linejoin="round"/>
<polygon points="307.91,658.41 318.73,649.16 318.73,622.54 307.91,631.79" fill="none" stroke="#000" stroke-width="1.3" stroke-linejoin="round"/>
<polygon points="289.37,626.46 307.91,631.79 318.73,622.54 300.19,617.21" fill="none" stroke="#000" stroke-width="1.3" stroke-linejoin="round"/>
<polygon points="275.85,665.71 294.39,671.04 294.39,643.35 275.85,638.02" fill="#4f69d9" stroke="#000" stroke-width="1.65" stroke-linejoin="round"/>
<polygon points="294.39,671.04 305.21,661.79 305.21,634.10 294.39,643.35" fill="#4f69d9" stroke="#000" stroke-width="1.65" stroke-linejoin="round"/>
<polygon points="275.85,638.02 294.39,643.35 305.21,634.10 286.67,628.77" fill="#4f69d9" stroke="#000" stroke-width="1.65" stroke-linejoin="round"/>
<polygon points="275.85,664.64 294.39,669.97 294.39,643.35 275.85,638.02" fill="none" stroke="#000" stroke-width="1.3" stroke-linejoin="round"/>
<polygon points="294.39,669.97 305.21,660.73 305.21,634.10 294.39,643.35" fill="none" stroke="#000" stroke-width="1.3" stroke-linejoin="round"/>
<polygon points="275.85,638.02 294.39,643.35 305.21,634.10 286.67,628.77" fill="none" stroke="#000" stroke-width="1.3" stroke-linejoin="round"/>
<polygon points="262.33,649.58 280.87,654.91 280.87,629.77 262.33,624.45" fill="#d85646" stroke="#000" stroke-width="1.65" stroke-linejoin="round"/>
<polygon points="280.87,654.91 291.69,645.66 291.69,620.53 280.87,629.77" fill="#d85646" stroke="#000" stroke-width="1.65" stroke-linejoin="round"/>
<polygon points="262.33,624.45 280.87,629.77 291.69,620.53 273.15,615.20" fill="#d85646" stroke="#000" stroke-width="1.65" stroke-linejoin="round"/>
<polygon points="262.33,649.58 280.87,654.91 280.87,628.28 262.33,622.96" fill="none" stroke="#000" stroke-width="1.3" stroke-linejoin="round"/>
<polygon points="280.87,654.91 291.69,645.66 291.69,619.03 280.87,628.28" fill="none" stroke="#000" stroke-width="1.3" stroke-linejoin="round"/>
<polygon points="262.33,622.96 280.87,628.28 291.69,619.03 273.15,613.71" fill="none" stroke="#000" stroke-width="1.3" stroke-linejoin="round"/>
</g>
<defs><linearGradient id="cwg1" x1="0" y1="0" x2="0" y2="1"><stop offset="0.000" stop-color="#b40426"/><stop offset="0.031" stop-color="#be242e"/><stop offset="0.062" stop-color="#ca3b37"/><stop offset="0.094" stop-color="#d44e41"/><stop offset="0.125" stop-color="#dd5f4b"/><stop offset="0.156" stop-color="#e46e56"/><stop offset="0.188" stop-color="#eb7d62"/><stop offset="0.219" stop-color="#f08b6e"/><stop offset="0.250" stop-color="#f4987a"/><stop offset="0.281" stop-color="#f6a586"/><stop offset="0.312" stop-color="#f7b093"/><stop offset="0.344" stop-color="#f7ba9f"/><stop offset="0.375" stop-color="#f5c4ac"/><stop offset="0.406" stop-color="#f1ccb8"/><stop offset="0.438" stop-color="#ecd3c5"/><stop offset="0.469" stop-color="#e5d8d1"/><stop offset="0.500" stop-color="#dddcdc"/><stop offset="0.531" stop-color="#d5dbe5"/><stop offset="0.562" stop-color="#ccd9ed"/><stop offset="0.594" stop-color="#c3d5f4"/><stop offset="0.625" stop-color="#b9d0f9"/><stop offset="0.656" stop-color="#aec9fc"/><stop offset="0.688" stop-color="#a3c2fe"/><stop offset="0.719" stop-color="#98b9ff"/><stop offset="0.750" stop-color="#8db0fe"/><stop offset="0.781" stop-color="#82a6fb"/><stop offset="0.812" stop-color="#779af7"/><stop offset="0.844" stop-color="#6c8ff1"/><stop offset="0.875" stop-color="#6282ea"/><stop offset="0.906" stop-color="#5875e1"/><stop offset="0.938" stop-color="#4e68d8"/><stop offset="0.969" stop-color="#445acc"/><stop offset="1.000" stop-color="#3b4cc0"/></linearGradient></defs>
<rect x="25.10" y="501.00" width="18.70" height="212.50" fill="url(#cwg1)" stroke="#000" stroke-width="2"/>
<line x1="43.80" y1="535.60" x2="48.40" y2="535.60" stroke="#000" stroke-width="1.9"/>
<text x="54.60" y="543.49" font-size="24">0.1</text>
<line x1="43.80" y1="571.30" x2="48.40" y2="571.30" stroke="#000" stroke-width="1.9"/>
<text x="54.60" y="579.19" font-size="24">0.05</text>
<line x1="43.80" y1="607.40" x2="48.40" y2="607.40" stroke="#000" stroke-width="1.9"/>
<text x="54.60" y="615.29" font-size="24">0</text>
<line x1="43.80" y1="643.00" x2="48.40" y2="643.00" stroke="#000" stroke-width="1.9"/>
<text x="54.60" y="650.89" font-size="24">-0.05</text>
<line x1="43.80" y1="679.00" x2="48.40" y2="679.00" stroke="#000" stroke-width="1.9"/>
<text x="54.60" y="686.89" font-size="24">-0.1</text>
<text x="251.50" y="462.00" font-size="29" text-anchor="middle" font-weight="normal" >Re(&#961;)</text>
<text x="9.30" y="461.60" font-size="29" text-anchor="start" font-weight="bold" >(b)</text>
<g id="pb_im">
<polygon points="540.92,746.45 559.93,751.91 571.02,742.43 552.01,736.97" fill="#dcdcdb"/>
<polygon points="554.44,734.89 573.45,740.35 584.54,730.87 565.53,725.41" fill="#dcdcdb"/>
<polygon points="568.23,723.10 587.24,728.56 598.06,719.31 579.05,713.85" fill="#dcdcdb"/>
<polygon points="564.10,753.11 583.11,758.57 594.20,749.09 575.19,743.63" fill="#dcdcdb"/>
<polygon points="577.62,741.55 596.63,747.01 607.72,737.53 588.71,732.07" fill="#dcdcdb"/>
<polygon points="591.41,729.76 610.42,735.22 621.24,725.97 602.23,720.51" fill="#046e32"/>
<polygon points="587.28,759.77 606.29,765.23 617.38,755.75 598.37,750.29" fill="#dcdcdb"/>
<polygon points="600.80,748.21 619.81,753.67 630.90,744.19 611.89,738.73" fill="#033d88"/>
<polygon points="614.59,736.42 633.60,741.88 644.42,732.63 625.41,727.17" fill="#dcdcdb"/>
<polygon points="610.46,766.43 629.47,771.89 640.56,762.41 621.55,756.95" fill="#dcdcdb"/>
<polygon points="623.98,754.87 642.99,760.33 654.08,750.85 635.07,745.39" fill="#033d88"/>
<polygon points="637.77,743.08 656.78,748.54 667.60,739.29 648.59,733.83" fill="#046e32"/>
<polygon points="633.64,773.09 652.65,778.55 663.74,769.07 644.73,763.61" fill="#c1232a"/>
<polygon points="647.16,761.53 666.17,766.99 677.26,757.51 658.25,752.05" fill="#dcdcdb"/>
<polygon points="660.95,749.74 679.96,755.20 690.78,745.95 671.77,740.49" fill="#dcdcdb"/>
<polygon points="656.82,779.75 675.83,785.21 686.92,775.73 667.91,770.27" fill="#c1232a"/>
<polygon points="670.34,768.19 689.35,773.65 700.44,764.17 681.43,758.71" fill="#dcdcdb"/>
<polygon points="684.13,756.40 703.14,761.86 713.96,752.61 694.95,747.15" fill="#046e32"/>
<polygon points="680.00,786.41 699.01,791.87 710.10,782.39 691.09,776.93" fill="#c1232a"/>
<polygon points="693.52,774.85 712.53,780.31 723.62,770.83 704.61,765.37" fill="#033d88"/>
<polygon points="707.31,763.06 726.32,768.52 737.14,759.27 718.13,753.81" fill="#dcdcdb"/>
<polygon points="703.18,793.07 722.19,798.53 733.28,789.05 714.27,783.59" fill="#c1232a"/>
<polygon points="716.70,781.51 735.71,786.97 746.80,777.49 727.79,772.03" fill="#033d88"/>
<polygon points="730.49,769.72 749.50,775.18 760.32,765.93 741.31,760.47" fill="#046e32"/>
<polygon points="774.86,764.09 793.40,769.42 804.22,760.17 785.68,754.84" fill="#dcdcdb"/>
<polygon points="798.04,770.75 816.58,776.08 827.40,766.83 808.86,761.50" fill="#dcdcdb"/>
<polygon points="821.22,777.41 839.76,782.74 850.58,773.49 832.04,768.16" fill="#dcdcdb"/>
<polygon points="788.38,752.53 806.92,757.86 817.74,748.61 799.20,743.28" fill="#046e32"/>
<polygon points="811.56,759.19 830.10,764.52 840.92,755.27 822.38,749.94" fill="#dcdcdb"/>
<polygon points="834.74,765.85 853.28,771.18 864.10,761.93 845.56,756.60" fill="#dcdcdb"/>
<polygon points="801.90,740.97 820.44,746.30 831.26,737.05 812.72,731.72" fill="#dcdcdb"/>
<polygon points="825.08,747.63 843.62,752.96 854.44,743.71 835.90,738.38" fill="#033d88"/>
<polygon points="848.26,754.29 866.80,759.62 877.62,750.37 859.08,745.04" fill="#dcdcdb"/>
<polygon points="815.42,729.41 833.96,734.74 844.78,725.49 826.24,720.16" fill="#046e32"/>
<polygon points="838.60,736.07 857.14,741.40 867.96,732.15 849.42,726.82" fill="#033d88"/>
<polygon points="861.78,742.73 880.32,748.06 891.14,738.81 872.60,733.48" fill="#dcdcdb"/>
<polygon points="828.94,717.85 847.48,723.18 858.30,713.93 839.76,708.60" fill="#dcdcdb"/>
<polygon points="852.12,724.51 870.66,729.84 881.48,720.59 862.94,715.26" fill="#dcdcdb"/>
<polygon points="875.30,731.17 893.84,736.50 904.66,727.25 886.12,721.92" fill="#c1232a"/>
<polygon points="842.46,706.29 861.00,711.62 871.82,702.37 853.28,697.04" fill="#046e32"/>
<polygon points="865.64,712.95 884.18,718.28 895.00,709.03 876.46,703.70" fill="#dcdcdb"/>
<polygon points="888.82,719.61 907.36,724.94 918.18,715.69 899.64,710.36" fill="#c1232a"/>
<polygon points="855.98,694.73 874.52,700.06 885.34,690.81 866.80,685.48" fill="#dcdcdb"/>
<polygon points="879.16,701.39 897.70,706.72 908.52,697.47 889.98,692.14" fill="#033d88"/>
<polygon points="902.34,708.05 920.88,713.38 931.70,704.13 913.16,698.80" fill="#c1232a"/>
<polygon points="869.50,683.17 888.04,688.50 898.86,679.25 880.32,673.92" fill="#046e32"/>
<polygon points="892.68,689.83 911.22,695.16 922.04,685.91 903.50,680.58" fill="#033d88"/>
<polygon points="915.86,696.49 934.40,701.82 945.22,692.57 926.68,687.24" fill="#c1232a"/>
<polyline points="508.00,754.20 804.70,839.50 975.30,691.50 975.30,469.30" fill="none" stroke="#000" stroke-width="2.1" stroke-linejoin="miter"/>
<line x1="529.71" y1="757.55" x2="524.61" y2="762.75" stroke="#000" stroke-width="2.0"/>
<line x1="552.99" y1="764.24" x2="547.89" y2="769.44" stroke="#000" stroke-width="2.0"/>
<line x1="576.26" y1="770.93" x2="571.16" y2="776.13" stroke="#000" stroke-width="2.0"/>
<line x1="599.53" y1="777.62" x2="594.43" y2="782.82" stroke="#000" stroke-width="2.0"/>
<line x1="622.80" y1="784.31" x2="617.70" y2="789.51" stroke="#000" stroke-width="2.0"/>
<line x1="646.07" y1="791.00" x2="640.97" y2="796.20" stroke="#000" stroke-width="2.0"/>
<line x1="669.34" y1="797.69" x2="664.24" y2="802.89" stroke="#000" stroke-width="2.0"/>
<line x1="692.61" y1="804.38" x2="687.51" y2="809.58" stroke="#000" stroke-width="2.0"/>
<line x1="854.32" y1="793.29" x2="862.52" y2="796.09" stroke="#000" stroke-width="2.0"/>
<line x1="867.72" y1="781.68" x2="875.92" y2="784.48" stroke="#000" stroke-width="2.0"/>
<line x1="881.11" y1="770.06" x2="889.31" y2="772.86" stroke="#000" stroke-width="2.0"/>
<line x1="894.50" y1="758.44" x2="902.70" y2="761.24" stroke="#000" stroke-width="2.0"/>
<line x1="907.89" y1="746.83" x2="916.09" y2="749.63" stroke="#000" stroke-width="2.0"/>
<line x1="921.28" y1="735.21" x2="929.48" y2="738.01" stroke="#000" stroke-width="2.0"/>
<line x1="934.67" y1="723.59" x2="942.87" y2="726.39" stroke="#000" stroke-width="2.0"/>
<line x1="948.06" y1="711.98" x2="956.26" y2="714.78" stroke="#000" stroke-width="2.0"/>
<line x1="973.20" y1="494.70" x2="981.20" y2="496.90" stroke="#000" stroke-width="1.9"/>
<text x="967.00" y="502.60" font-size="28.5" text-anchor="end">0.2</text>
<line x1="973.20" y1="538.20" x2="981.20" y2="540.40" stroke="#000" stroke-width="1.9"/>
<text x="967.00" y="546.10" font-size="28.5" text-anchor="end">0.1</text>
<line x1="973.20" y1="579.90" x2="981.20" y2="582.10" stroke="#000" stroke-width="1.9"/>
<text x="967.00" y="587.80" font-size="28.5" text-anchor="end">0</text>
<line x1="973.20" y1="622.50" x2="981.20" y2="624.70" stroke="#000" stroke-width="1.9"/>
<text x="967.00" y="630.40" font-size="28.5" text-anchor="end">-0.1</text>
<line x1="973.20" y1="665.10" x2="981.20" y2="667.30" stroke="#000" stroke-width="1.9"/>
<text x="967.00" y="673.00" font-size="28.5" text-anchor="end">-0.2</text>
<polyline points="578.16,604.04 767.08,658.32 877.13,564.22" fill="none" stroke="#000" stroke-width="1.1"/>
<polygon points="678.71,532.26 697.25,537.59 697.25,527.37 678.71,522.04" fill="#5977e3" stroke="#5977e3" stroke-width="0.5"/>
<polygon points="697.25,537.59 708.07,528.34 708.07,518.12 697.25,527.37" fill="#5977e3" stroke="#5977e3" stroke-width="0.5"/>
<polygon points="678.71,522.04 697.25,527.37 708.07,518.12 689.53,512.79" fill="#5977e3" stroke="#5977e3" stroke-width="0.5"/>
<polygon points="678.71,532.26 697.25,537.59 708.07,528.34 689.53,523.02" fill="none" stroke="#000" stroke-width="1.65" stroke-linejoin="round"/>
<polygon points="678.71,522.04 697.25,527.37 708.07,518.12 689.53,512.79" fill="none" stroke="#000" stroke-width="1.65" stroke-linejoin="round"/>
<line x1="678.71" y1="532.26" x2="678.71" y2="522.04" stroke="#000" stroke-width="1.65"/>
<line x1="697.25" y1="537.59" x2="697.25" y2="527.37" stroke="#000" stroke-width="1.65"/>
<line x1="708.07" y1="528.34" x2="708.07" y2="518.12" stroke="#000" stroke-width="1.65"/>
<line x1="689.53" y1="523.02" x2="689.53" y2="512.79" stroke="#000" stroke-width="1.65"/>
<polygon points="678.71,522.04 697.25,527.37 697.25,527.37 678.71,522.04" fill="none" stroke="#000" stroke-width="1.3" stroke-linejoin="round"/>
<polygon points="697.25,527.37 708.07,518.12 708.07,518.12 697.25,527.37" fill="none" stroke="#000" stroke-width="1.3" stroke-linejoin="round"/>
<polygon points="678.71,522.04 697.25,527.37 708.07,518.12 689.53,512.79" fill="none" stroke="#000" stroke-width="1.3" stroke-linejoin="round"/>
<polygon points="665.19,533.60 683.73,538.93 683.73,536.37 665.19,531.04" fill="#f2cbb7" stroke="#f2cbb7" stroke-width="0.5"/>
<polygon points="683.73,538.93 694.55,529.68 694.55,527.12 683.73,536.37" fill="#f2cbb7" stroke="#f2cbb7" stroke-width="0.5"/>
<polygon points="665.19,531.04 683.73,536.37 694.55,527.12 676.01,521.80" fill="#f2cbb7" stroke="#f2cbb7" stroke-width="0.5"/>
<polygon points="665.19,533.60 683.73,538.93 694.55,529.68 676.01,524.35" fill="none" stroke="#000" stroke-width="1.65" stroke-linejoin="round"/>
<polygon points="665.19,531.04 683.73,536.37 694.55,527.12 676.01,521.80" fill="none" stroke="#000" stroke-width="1.65" stroke-linejoin="round"/>
<line x1="665.19" y1="533.60" x2="665.19" y2="531.04" stroke="#000" stroke-width="1.65"/>
<line x1="683.73" y1="538.93" x2="683.73" y2="536.37" stroke="#000" stroke-width="1.65"/>
<line x1="694.55" y1="529.68" x2="694.55" y2="527.12" stroke="#000" stroke-width="1.65"/>
<line x1="676.01" y1="524.35" x2="676.01" y2="521.80" stroke="#000" stroke-width="1.65"/>
<polygon points="665.19,533.60 683.73,538.93 683.73,538.93 665.19,533.60" fill="none" stroke="#000" stroke-width="1.3" stroke-linejoin="round"/>
<polygon points="683.73,538.93 694.55,529.68 694.55,529.68 683.73,538.93" fill="none" stroke="#000" stroke-width="1.3" stroke-linejoin="round"/>
<polygon points="665.19,533.60 683.73,538.93 694.55,529.68 676.01,524.35" fill="none" stroke="#000" stroke-width="1.3" stroke-linejoin="round"/>
<polygon points="651.67,547.33 670.21,552.66 670.21,550.49 651.67,545.16" fill="#c5d6f2" stroke="#c5d6f2" stroke-width="0.5"/>
<polygon points="670.21,552.66 681.03,543.41 681.03,541.24 670.21,550.49" fill="#c5d6f2" stroke="#c5d6f2" stroke-width="0.5"/>
<polygon points="651.67,545.16 670.21,550.49 681.03,541.24 662.49,535.91" fill="#c5d6f2" stroke="#c5d6f2" stroke-width="0.5"/>
<polygon points="651.67,547.33 670.21,552.66 681.03,543.41 662.49,538.08" fill="none" stroke="#000" stroke-width="1.65" stroke-linejoin="round"/>
<polygon points="651.67,545.16 670.21,550.49 681.03,541.24 662.49,535.91" fill="none" stroke="#000" stroke-width="1.65" stroke-linejoin="round"/>
<line x1="651.67" y1="547.33" x2="651.67" y2="545.16" stroke="#000" stroke-width="1.65"/>
<line x1="670.21" y1="552.66" x2="670.21" y2="550.49" stroke="#000" stroke-width="1.65"/>
<line x1="681.03" y1="543.41" x2="681.03" y2="541.24" stroke="#000" stroke-width="1.65"/>
<line x1="662.49" y1="538.08" x2="662.49" y2="535.91" stroke="#000" stroke-width="1.65"/>
<polygon points="651.67,545.16 670.21,550.49 670.21,550.49 651.67,545.16" fill="none" stroke="#000" stroke-width="1.3" stroke-linejoin="round"/>
<polygon points="670.21,550.49 681.03,541.24 681.03,541.24 670.21,550.49" fill="none" stroke="#000" stroke-width="1.3" stroke-linejoin="round"/>
<polygon points="651.67,545.16 670.21,550.49 681.03,541.24 662.49,535.91" fill="none" stroke="#000" stroke-width="1.3" stroke-linejoin="round"/>
<polygon points="638.15,556.72 656.69,562.05 656.69,562.05 638.15,556.72" fill="#dddcdc" stroke="#dddcdc" stroke-width="0.5"/>
<polygon points="656.69,562.05 667.51,552.80 667.51,552.80 656.69,562.05" fill="#dddcdc" stroke="#dddcdc" stroke-width="0.5"/>
<polygon points="638.15,556.72 656.69,562.05 667.51,552.80 648.97,547.47" fill="#dddcdc" stroke="#dddcdc" stroke-width="0.5"/>
<polygon points="638.15,556.72 656.69,562.05 667.51,552.80 648.97,547.47" fill="none" stroke="#000" stroke-width="1.65" stroke-linejoin="round"/>
<polygon points="638.15,556.72 656.69,562.05 667.51,552.80 648.97,547.47" fill="none" stroke="#000" stroke-width="1.65" stroke-linejoin="round"/>
<line x1="638.15" y1="556.72" x2="638.15" y2="556.72" stroke="#000" stroke-width="1.65"/>
<line x1="656.69" y1="562.05" x2="656.69" y2="562.05" stroke="#000" stroke-width="1.65"/>
<line x1="667.51" y1="552.80" x2="667.51" y2="552.80" stroke="#000" stroke-width="1.65"/>
<line x1="648.97" y1="547.47" x2="648.97" y2="547.47" stroke="#000" stroke-width="1.65"/>
<polygon points="638.15,556.72 656.69,562.05 656.69,562.05 638.15,556.72" fill="none" stroke="#000" stroke-width="1.3" stroke-linejoin="round"/>
<polygon points="656.69,562.05 667.51,552.80 667.51,552.80 656.69,562.05" fill="none" stroke="#000" stroke-width="1.3" stroke-linejoin="round"/>
<polygon points="638.15,556.72 656.69,562.05 667.51,552.80 648.97,547.47" fill="none" stroke="#000" stroke-width="1.3" stroke-linejoin="round"/>
<polygon points="624.63,568.28 643.17,573.61 643.17,569.35 624.63,564.02" fill="#f7b89c" stroke="#f7b89c" stroke-width="0.5"/>
<polygon points="643.17,573.61 653.99,564.36 653.99,560.10 643.17,569.35" fill="#f7b89c" stroke="#f7b89c" stroke-width="0.5"/>
<polygon points="624.63,564.02 643.17,569.35 653.99,560.10 635.45,554.77" fill="#f7b89c" stroke="#f7b89c" stroke-width="0.5"/>
<polygon points="624.63,568.28 643.17,573.61 653.99,564.36 635.45,559.03" fill="none" stroke="#000" stroke-width="1.65" stroke-linejoin="round"/>
<polygon points="624.63,564.02 643.17,569.35 653.99,560.10 635.45,554.77" fill="none" stroke="#000" stroke-width="1.65" stroke-linejoin="round"/>
<line x1="624.63" y1="568.28" x2="624.63" y2="564.02" stroke="#000" stroke-width="1.65"/>
<line x1="643.17" y1="573.61" x2="643.17" y2="569.35" stroke="#000" stroke-width="1.65"/>
<line x1="653.99" y1="564.36" x2="653.99" y2="560.10" stroke="#000" stroke-width="1.65"/>
<line x1="635.45" y1="559.03" x2="635.45" y2="554.77" stroke="#000" stroke-width="1.65"/>
<polygon points="624.63,568.28 643.17,573.61 643.17,573.61 624.63,568.28" fill="none" stroke="#000" stroke-width="1.3" stroke-linejoin="round"/>
<polygon points="643.17,573.61 653.99,564.36 653.99,564.36 643.17,573.61" fill="none" stroke="#000" stroke-width="1.3" stroke-linejoin="round"/>
<polygon points="624.63,568.28 643.17,573.61 653.99,564.36 635.45,559.03" fill="none" stroke="#000" stroke-width="1.3" stroke-linejoin="round"/>
<polygon points="611.11,579.84 629.65,585.17 629.65,584.32 611.11,578.99" fill="#e5d8d1" stroke="#e5d8d1" stroke-width="0.5"/>
<polygon points="629.65,585.17 640.47,575.92 640.47,575.07 629.65,584.32" fill="#e5d8d1" stroke="#e5d8d1" stroke-width="0.5"/>
<polygon points="611.11,578.99 629.65,584.32 640.47,575.07 621.93,569.74" fill="#e5d8d1" stroke="#e5d8d1" stroke-width="0.5"/>
<polygon points="611.11,579.84 629.65,585.17 640.47,575.92 621.93,570.59" fill="none" stroke="#000" stroke-width="1.65" stroke-linejoin="round"/>
<polygon points="611.11,578.99 629.65,584.32 640.47,575.07 621.93,569.74" fill="none" stroke="#000" stroke-width="1.65" stroke-linejoin="round"/>
<line x1="611.11" y1="579.84" x2="611.11" y2="578.99" stroke="#000" stroke-width="1.65"/>
<line x1="629.65" y1="585.17" x2="629.65" y2="584.32" stroke="#000" stroke-width="1.65"/>
<line x1="640.47" y1="575.92" x2="640.47" y2="575.07" stroke="#000" stroke-width="1.65"/>
<line x1="621.93" y1="570.59" x2="621.93" y2="569.74" stroke="#000" stroke-width="1.65"/>
<polygon points="611.11,579.84 629.65,585.17 629.65,585.17 611.11,579.84" fill="none" stroke="#000" stroke-width="1.3" stroke-linejoin="round"/>
<polygon points="629.65,585.17 640.47,575.92 640.47,575.92 629.65,585.17" fill="none" stroke="#000" stroke-width="1.3" stroke-linejoin="round"/>
<polygon points="611.11,579.84 629.65,585.17 640.47,575.92 621.93,570.59" fill="none" stroke="#000" stroke-width="1.3" stroke-linejoin="round"/>
<polygon points="597.59,591.40 616.13,596.73 616.13,596.73 597.59,591.40" fill="#dddcdc" stroke="#dddcdc" stroke-width="0.5"/>
<polygon points="616.13,596.73 626.95,587.48 626.95,587.48 616.13,596.73" fill="#dddcdc" stroke="#dddcdc" stroke-width="0.5"/>
<polygon points="597.59,591.40 616.13,596.73 626.95,587.48 608.41,582.15" fill="#dddcdc" stroke="#dddcdc" stroke-width="0.5"/>
<polygon points="597.59,591.40 616.13,596.73 626.95,587.48 608.41,582.15" fill="none" stroke="#000" stroke-width="1.65" stroke-linejoin="round"/>
<polygon points="597.59,591.40 616.13,596.73 626.95,587.48 608.41,582.15" fill="none" stroke="#000" stroke-width="1.65" stroke-linejoin="round"/>
<line x1="597.59" y1="591.40" x2="597.59" y2="591.40" stroke="#000" stroke-width="1.65"/>
<line x1="616.13" y1="596.73" x2="616.13" y2="596.73" stroke="#000" stroke-width="1.65"/>
<line x1="626.95" y1="587.48" x2="626.95" y2="587.48" stroke="#000" stroke-width="1.65"/>
<line x1="608.41" y1="582.15" x2="608.41" y2="582.15" stroke="#000" stroke-width="1.65"/>
<polygon points="597.59,591.40 616.13,596.73 616.13,596.73 597.59,591.40" fill="none" stroke="#000" stroke-width="1.3" stroke-linejoin="round"/>
<polygon points="616.13,596.73 626.95,587.48 626.95,587.48 616.13,596.73" fill="none" stroke="#000" stroke-width="1.3" stroke-linejoin="round"/>
<polygon points="597.59,591.40 616.13,596.73 626.95,587.48 608.41,582.15" fill="none" stroke="#000" stroke-width="1.3" stroke-linejoin="round"/>
<polygon points="584.07,602.96 602.61,608.29 602.61,608.29 584.07,602.96" fill="#dddcdc" stroke="#dddcdc" stroke-width="0.5"/>
<polygon points="602.61,608.29 613.43,599.04 613.43,599.04 602.61,608.29" fill="#dddcdc" stroke="#dddcdc" stroke-width="0.5"/>
<polygon points="584.07,602.96 602.61,608.29 613.43,599.04 594.89,593.71" fill="#dddcdc" stroke="#dddcdc" stroke-width="0.5"/>
<polygon points="584.07,602.96 602.61,608.29 613.43,599.04 594.89,593.71" fill="none" stroke="#000" stroke-width="1.65" stroke-linejoin="round"/>
<polygon points="584.07,602.96 602.61,608.29 613.43,599.04 594.89,593.71" fill="none" stroke="#000" stroke-width="1.65" stroke-linejoin="round"/>
<line x1="584.07" y1="602.96" x2="584.07" y2="602.96" stroke="#000" stroke-width="1.65"/>
<line x1="602.61" y1="608.29" x2="602.61" y2="608.29" stroke="#000" stroke-width="1.65"/>
<line x1="613.43" y1="599.04" x2="613.43" y2="599.04" stroke="#000" stroke-width="1.65"/>
<line x1="594.89" y1="593.71" x2="594.89" y2="593.71" stroke="#000" stroke-width="1.65"/>
<polygon points="584.07,602.96 602.61,608.29 602.61,608.29 584.07,602.96" fill="none" stroke="#000" stroke-width="1.3" stroke-linejoin="round"/>
<polygon points="602.61,608.29 613.43,599.04 613.43,599.04 602.61,608.29" fill="none" stroke="#000" stroke-width="1.3" stroke-linejoin="round"/>
<polygon points="584.07,602.96 602.61,608.29 613.43,599.04 594.89,593.71" fill="none" stroke="#000" stroke-width="1.3" stroke-linejoin="round"/>
<polygon points="701.89,528.70 720.43,534.03 720.43,522.10 701.89,516.77" fill="#c0282f" stroke="#c0282f" stroke-width="0.5"/>
<polygon points="720.43,534.03 731.25,524.78 731.25,512.85 720.43,522.10" fill="#c0282f" stroke="#c0282f" stroke-width="0.5"/>
<polygon points="701.89,516.77 720.43,522.10 731.25,512.85 712.71,507.52" fill="#c0282f" stroke="#c0282f" stroke-width="0.5"/>
<polygon points="701.89,528.70 720.43,534.03 731.25,524.78 712.71,519.45" fill="none" stroke="#000" stroke-width="1.65" stroke-linejoin="round"/>
<polygon points="701.89,516.77 720.43,522.10 731.25,512.85 712.71,507.52" fill="none" stroke="#000" stroke-width="1.65" stroke-linejoin="round"/>
<line x1="701.89" y1="528.70" x2="701.89" y2="516.77" stroke="#000" stroke-width="1.65"/>
<line x1="720.43" y1="534.03" x2="720.43" y2="522.10" stroke="#000" stroke-width="1.65"/>
<line x1="731.25" y1="524.78" x2="731.25" y2="512.85" stroke="#000" stroke-width="1.65"/>
<line x1="712.71" y1="519.45" x2="712.71" y2="507.52" stroke="#000" stroke-width="1.65"/>
<polygon points="701.89,528.70 720.43,534.03 720.43,534.03 701.89,528.70" fill="none" stroke="#000" stroke-width="1.3" stroke-linejoin="round"/>
<polygon points="720.43,534.03 731.25,524.78 731.25,524.78 720.43,534.03" fill="none" stroke="#000" stroke-width="1.3" stroke-linejoin="round"/>
<polygon points="701.89,528.70 720.43,534.03 731.25,524.78 712.71,519.45" fill="none" stroke="#000" stroke-width="1.3" stroke-linejoin="round"/>
<polygon points="688.37,543.88 706.91,549.21 706.91,545.59 688.37,540.26" fill="#b2ccfb" stroke="#b2ccfb" stroke-width="0.5"/>
<polygon points="706.91,549.21 717.73,539.96 717.73,536.34 706.91,545.59" fill="#b2ccfb" stroke="#b2ccfb" stroke-width="0.5"/>
<polygon points="688.37,540.26 706.91,545.59 717.73,536.34 699.19,531.01" fill="#b2ccfb" stroke="#b2ccfb" stroke-width="0.5"/>
<polygon points="688.37,543.88 706.91,549.21 717.73,539.96 699.19,534.63" fill="none" stroke="#000" stroke-width="1.65" stroke-linejoin="round"/>
<polygon points="688.37,540.26 706.91,545.59 717.73,536.34 699.19,531.01" fill="none" stroke="#000" stroke-width="1.65" stroke-linejoin="round"/>
<line x1="688.37" y1="543.88" x2="688.37" y2="540.26" stroke="#000" stroke-width="1.65"/>
<line x1="706.91" y1="549.21" x2="706.91" y2="545.59" stroke="#000" stroke-width="1.65"/>
<line x1="717.73" y1="539.96" x2="717.73" y2="536.34" stroke="#000" stroke-width="1.65"/>
<line x1="699.19" y1="534.63" x2="699.19" y2="531.01" stroke="#000" stroke-width="1.65"/>
<polygon points="688.37,540.26 706.91,545.59 706.91,545.59 688.37,540.26" fill="none" stroke="#000" stroke-width="1.3" stroke-linejoin="round"/>
<polygon points="706.91,545.59 717.73,536.34 717.73,536.34 706.91,545.59" fill="none" stroke="#000" stroke-width="1.3" stroke-linejoin="round"/>
<polygon points="688.37,540.26 706.91,545.59 717.73,536.34 699.19,531.01" fill="none" stroke="#000" stroke-width="1.3" stroke-linejoin="round"/>
<polygon points="674.85,551.82 693.39,557.15 693.39,555.44 674.85,550.12" fill="#edd2c3" stroke="#edd2c3" stroke-width="0.5"/>
<polygon points="693.39,557.15 704.21,547.90 704.21,546.20 693.39,555.44" fill="#edd2c3" stroke="#edd2c3" stroke-width="0.5"/>
<polygon points="674.85,550.12 693.39,555.44 704.21,546.20 685.67,540.87" fill="#edd2c3" stroke="#edd2c3" stroke-width="0.5"/>
<polygon points="674.85,551.82 693.39,557.15 704.21,547.90 685.67,542.57" fill="none" stroke="#000" stroke-width="1.65" stroke-linejoin="round"/>
<polygon points="674.85,550.12 693.39,555.44 704.21,546.20 685.67,540.87" fill="none" stroke="#000" stroke-width="1.65" stroke-linejoin="round"/>
<line x1="674.85" y1="551.82" x2="674.85" y2="550.12" stroke="#000" stroke-width="1.65"/>
<line x1="693.39" y1="557.15" x2="693.39" y2="555.44" stroke="#000" stroke-width="1.65"/>
<line x1="704.21" y1="547.90" x2="704.21" y2="546.20" stroke="#000" stroke-width="1.65"/>
<line x1="685.67" y1="542.57" x2="685.67" y2="540.87" stroke="#000" stroke-width="1.65"/>
<polygon points="674.85,551.82 693.39,557.15 693.39,557.15 674.85,551.82" fill="none" stroke="#000" stroke-width="1.3" stroke-linejoin="round"/>
<polygon points="693.39,557.15 704.21,547.90 704.21,547.90 693.39,557.15" fill="none" stroke="#000" stroke-width="1.3" stroke-linejoin="round"/>
<polygon points="674.85,551.82 693.39,557.15 704.21,547.90 685.67,542.57" fill="none" stroke="#000" stroke-width="1.3" stroke-linejoin="round"/>
<polygon points="661.33,563.38 679.87,568.71 679.87,567.86 661.33,562.53" fill="#e5d8d1" stroke="#e5d8d1" stroke-width="0.5"/>
<polygon points="679.87,568.71 690.69,559.46 690.69,558.61 679.87,567.86" fill="#e5d8d1" stroke="#e5d8d1" stroke-width="0.5"/>
<polygon points="661.33,562.53 679.87,567.86 690.69,558.61 672.15,553.28" fill="#e5d8d1" stroke="#e5d8d1" stroke-width="0.5"/>
<polygon points="661.33,563.38 679.87,568.71 690.69,559.46 672.15,554.13" fill="none" stroke="#000" stroke-width="1.65" stroke-linejoin="round"/>
<polygon points="661.33,562.53 679.87,567.86 690.69,558.61 672.15,553.28" fill="none" stroke="#000" stroke-width="1.65" stroke-linejoin="round"/>
<line x1="661.33" y1="563.38" x2="661.33" y2="562.53" stroke="#000" stroke-width="1.65"/>
<line x1="679.87" y1="568.71" x2="679.87" y2="567.86" stroke="#000" stroke-width="1.65"/>
<line x1="690.69" y1="559.46" x2="690.69" y2="558.61" stroke="#000" stroke-width="1.65"/>
<line x1="672.15" y1="554.13" x2="672.15" y2="553.28" stroke="#000" stroke-width="1.65"/>
<polygon points="661.33,563.38 679.87,568.71 679.87,568.71 661.33,563.38" fill="none" stroke="#000" stroke-width="1.3" stroke-linejoin="round"/>
<polygon points="679.87,568.71 690.69,559.46 690.69,559.46 679.87,568.71" fill="none" stroke="#000" stroke-width="1.3" stroke-linejoin="round"/>
<polygon points="661.33,563.38 679.87,568.71 690.69,559.46 672.15,554.13" fill="none" stroke="#000" stroke-width="1.3" stroke-linejoin="round"/>
<polygon points="647.81,579.29 666.35,584.61 666.35,580.27 647.81,574.94" fill="#a9c6fd" stroke="#a9c6fd" stroke-width="0.5"/>
<polygon points="666.35,584.61 677.17,575.37 677.17,571.02 666.35,580.27" fill="#a9c6fd" stroke="#a9c6fd" stroke-width="0.5"/>
<polygon points="647.81,574.94 666.35,580.27 677.17,571.02 658.63,565.69" fill="#a9c6fd" stroke="#a9c6fd" stroke-width="0.5"/>
<polygon points="647.81,579.29 666.35,584.61 677.17,575.37 658.63,570.04" fill="none" stroke="#000" stroke-width="1.65" stroke-linejoin="round"/>
<polygon points="647.81,574.94 666.35,580.27 677.17,571.02 658.63,565.69" fill="none" stroke="#000" stroke-width="1.65" stroke-linejoin="round"/>
<line x1="647.81" y1="579.29" x2="647.81" y2="574.94" stroke="#000" stroke-width="1.65"/>
<line x1="666.35" y1="584.61" x2="666.35" y2="580.27" stroke="#000" stroke-width="1.65"/>
<line x1="677.17" y1="575.37" x2="677.17" y2="571.02" stroke="#000" stroke-width="1.65"/>
<line x1="658.63" y1="570.04" x2="658.63" y2="565.69" stroke="#000" stroke-width="1.65"/>
<polygon points="647.81,574.94 666.35,580.27 666.35,580.27 647.81,574.94" fill="none" stroke="#000" stroke-width="1.3" stroke-linejoin="round"/>
<polygon points="666.35,580.27 677.17,571.02 677.17,571.02 666.35,580.27" fill="none" stroke="#000" stroke-width="1.3" stroke-linejoin="round"/>
<polygon points="647.81,574.94 666.35,580.27 677.17,571.02 658.63,565.69" fill="none" stroke="#000" stroke-width="1.3" stroke-linejoin="round"/>
<polygon points="634.29,586.50 652.83,591.83 652.83,591.83 634.29,586.50" fill="#dddcdc" stroke="#dddcdc" stroke-width="0.5"/>
<polygon points="652.83,591.83 663.65,582.58 663.65,582.58 652.83,591.83" fill="#dddcdc" stroke="#dddcdc" stroke-width="0.5"/>
<polygon points="634.29,586.50 652.83,591.83 663.65,582.58 645.11,577.25" fill="#dddcdc" stroke="#dddcdc" stroke-width="0.5"/>
<polygon points="634.29,586.50 652.83,591.83 663.65,582.58 645.11,577.25" fill="none" stroke="#000" stroke-width="1.65" stroke-linejoin="round"/>
<polygon points="634.29,586.50 652.83,591.83 663.65,582.58 645.11,577.25" fill="none" stroke="#000" stroke-width="1.65" stroke-linejoin="round"/>
<line x1="634.29" y1="586.50" x2="634.29" y2="586.50" stroke="#000" stroke-width="1.65"/>
<line x1="652.83" y1="591.83" x2="652.83" y2="591.83" stroke="#000" stroke-width="1.65"/>
<line x1="663.65" y1="582.58" x2="663.65" y2="582.58" stroke="#000" stroke-width="1.65"/>
<line x1="645.11" y1="577.25" x2="645.11" y2="577.25" stroke="#000" stroke-width="1.65"/>
<polygon points="634.29,586.50 652.83,591.83 652.83,591.83 634.29,586.50" fill="none" stroke="#000" stroke-width="1.3" stroke-linejoin="round"/>
<polygon points="652.83,591.83 663.65,582.58 663.65,582.58 652.83,591.83" fill="none" stroke="#000" stroke-width="1.3" stroke-linejoin="round"/>
<polygon points="634.29,586.50 652.83,591.83 663.65,582.58 645.11,577.25" fill="none" stroke="#000" stroke-width="1.3" stroke-linejoin="round"/>
<polygon points="620.77,598.06 639.31,603.39 639.31,603.39 620.77,598.06" fill="#dddcdc" stroke="#dddcdc" stroke-width="0.5"/>
<polygon points="639.31,603.39 650.13,594.14 650.13,594.14 639.31,603.39" fill="#dddcdc" stroke="#dddcdc" stroke-width="0.5"/>
<polygon points="620.77,598.06 639.31,603.39 650.13,594.14 631.59,588.81" fill="#dddcdc" stroke="#dddcdc" stroke-width="0.5"/>
<polygon points="620.77,598.06 639.31,603.39 650.13,594.14 631.59,588.81" fill="none" stroke="#000" stroke-width="1.65" stroke-linejoin="round"/>
<polygon points="620.77,598.06 639.31,603.39 650.13,594.14 631.59,588.81" fill="none" stroke="#000" stroke-width="1.65" stroke-linejoin="round"/>
<line x1="620.77" y1="598.06" x2="620.77" y2="598.06" stroke="#000" stroke-width="1.65"/>
<line x1="639.31" y1="603.39" x2="639.31" y2="603.39" stroke="#000" stroke-width="1.65"/>
<line x1="650.13" y1="594.14" x2="650.13" y2="594.14" stroke="#000" stroke-width="1.65"/>
<line x1="631.59" y1="588.81" x2="631.59" y2="588.81" stroke="#000" stroke-width="1.65"/>
<polygon points="620.77,598.06 639.31,603.39 639.31,603.39 620.77,598.06" fill="none" stroke="#000" stroke-width="1.3" stroke-linejoin="round"/>
<polygon points="639.31,603.39 650.13,594.14 650.13,594.14 639.31,603.39" fill="none" stroke="#000" stroke-width="1.3" stroke-linejoin="round"/>
<polygon points="620.77,598.06 639.31,603.39 650.13,594.14 631.59,588.81" fill="none" stroke="#000" stroke-width="1.3" stroke-linejoin="round"/>
<polygon points="607.25,609.62 625.79,614.95 625.79,614.95 607.25,609.62" fill="#dddcdc" stroke="#dddcdc" stroke-width="0.5"/>
<polygon points="625.79,614.95 636.61,605.70 636.61,605.70 625.79,614.95" fill="#dddcdc" stroke="#dddcdc" stroke-width="0.5"/>
<polygon points="607.25,609.62 625.79,614.95 636.61,605.70 618.07,600.37" fill="#dddcdc" stroke="#dddcdc" stroke-width="0.5"/>
<polygon points="607.25,609.62 625.79,614.95 636.61,605.70 618.07,600.37" fill="none" stroke="#000" stroke-width="1.65" stroke-linejoin="round"/>
<polygon points="607.25,609.62 625.79,614.95 636.61,605.70 618.07,600.37" fill="none" stroke="#000" stroke-width="1.65" stroke-linejoin="round"/>
<line x1="607.25" y1="609.62" x2="607.25" y2="609.62" stroke="#000" stroke-width="1.65"/>
<line x1="625.79" y1="614.95" x2="625.79" y2="614.95" stroke="#000" stroke-width="1.65"/>
<line x1="636.61" y1="605.70" x2="636.61" y2="605.70" stroke="#000" stroke-width="1.65"/>
<line x1="618.07" y1="600.37" x2="618.07" y2="600.37" stroke="#000" stroke-width="1.65"/>
<polygon points="607.25,609.62 625.79,614.95 625.79,614.95 607.25,609.62" fill="none" stroke="#000" stroke-width="1.3" stroke-linejoin="round"/>
<polygon points="625.79,614.95 636.61,605.70 636.61,605.70 625.79,614.95" fill="none" stroke="#000" stroke-width="1.3" stroke-linejoin="round"/>
<polygon points="607.25,609.62 625.79,614.95 636.61,605.70 618.07,600.37" fill="none" stroke="#000" stroke-width="1.3" stroke-linejoin="round"/>
<polygon points="725.07,535.36 743.61,540.69 743.61,529.61 725.07,524.28" fill="#cc403a" stroke="#cc403a" stroke-width="0.5"/>
<polygon points="743.61,540.69 754.43,531.44 754.43,520.36 743.61,529.61" fill="#cc403a" stroke="#cc403a" stroke-width="0.5"/>
<polygon points="725.07,524.28 743.61,529.61 754.43,520.36 735.89,515.04" fill="#cc403a" stroke="#cc403a" stroke-width="0.5"/>
<polygon points="725.07,535.36 743.61,540.69 754.43,531.44 735.89,526.11" fill="none" stroke="#000" stroke-width="1.65" stroke-linejoin="round"/>
<polygon points="725.07,524.28 743.61,529.61 754.43,520.36 735.89,515.04" fill="none" stroke="#000" stroke-width="1.65" stroke-linejoin="round"/>
<line x1="725.07" y1="535.36" x2="725.07" y2="524.28" stroke="#000" stroke-width="1.65"/>
<line x1="743.61" y1="540.69" x2="743.61" y2="529.61" stroke="#000" stroke-width="1.65"/>
<line x1="754.43" y1="531.44" x2="754.43" y2="520.36" stroke="#000" stroke-width="1.65"/>
<line x1="735.89" y1="526.11" x2="735.89" y2="515.04" stroke="#000" stroke-width="1.65"/>
<polygon points="725.07,535.36 743.61,540.69 743.61,540.69 725.07,535.36" fill="none" stroke="#000" stroke-width="1.3" stroke-linejoin="round"/>
<polygon points="743.61,540.69 754.43,531.44 754.43,531.44 743.61,540.69" fill="none" stroke="#000" stroke-width="1.3" stroke-linejoin="round"/>
<polygon points="725.07,535.36 743.61,540.69 754.43,531.44 735.89,526.11" fill="none" stroke="#000" stroke-width="1.3" stroke-linejoin="round"/>
<polygon points="711.55,550.18 730.09,555.51 730.09,552.25 711.55,546.92" fill="#b7cff9" stroke="#b7cff9" stroke-width="0.5"/>
<polygon points="730.09,555.51 740.91,546.26 740.91,543.00 730.09,552.25" fill="#b7cff9" stroke="#b7cff9" stroke-width="0.5"/>
<polygon points="711.55,546.92 730.09,552.25 740.91,543.00 722.37,537.67" fill="#b7cff9" stroke="#b7cff9" stroke-width="0.5"/>
<polygon points="711.55,550.18 730.09,555.51 740.91,546.26 722.37,540.93" fill="none" stroke="#000" stroke-width="1.65" stroke-linejoin="round"/>
<polygon points="711.55,546.92 730.09,552.25 740.91,543.00 722.37,537.67" fill="none" stroke="#000" stroke-width="1.65" stroke-linejoin="round"/>
<line x1="711.55" y1="550.18" x2="711.55" y2="546.92" stroke="#000" stroke-width="1.65"/>
<line x1="730.09" y1="555.51" x2="730.09" y2="552.25" stroke="#000" stroke-width="1.65"/>
<line x1="740.91" y1="546.26" x2="740.91" y2="543.00" stroke="#000" stroke-width="1.65"/>
<line x1="722.37" y1="540.93" x2="722.37" y2="537.67" stroke="#000" stroke-width="1.65"/>
<polygon points="711.55,546.92 730.09,552.25 730.09,552.25 711.55,546.92" fill="none" stroke="#000" stroke-width="1.3" stroke-linejoin="round"/>
<polygon points="730.09,552.25 740.91,543.00 740.91,543.00 730.09,552.25" fill="none" stroke="#000" stroke-width="1.3" stroke-linejoin="round"/>
<polygon points="711.55,546.92 730.09,552.25 740.91,543.00 722.37,537.67" fill="none" stroke="#000" stroke-width="1.3" stroke-linejoin="round"/>
<polygon points="698.03,558.48 716.57,563.81 716.57,562.10 698.03,556.78" fill="#edd2c3" stroke="#edd2c3" stroke-width="0.5"/>
<polygon points="716.57,563.81 727.39,554.56 727.39,552.86 716.57,562.10" fill="#edd2c3" stroke="#edd2c3" stroke-width="0.5"/>
<polygon points="698.03,556.78 716.57,562.10 727.39,552.86 708.85,547.53" fill="#edd2c3" stroke="#edd2c3" stroke-width="0.5"/>
<polygon points="698.03,558.48 716.57,563.81 727.39,554.56 708.85,549.23" fill="none" stroke="#000" stroke-width="1.65" stroke-linejoin="round"/>
<polygon points="698.03,556.78 716.57,562.10 727.39,552.86 708.85,547.53" fill="none" stroke="#000" stroke-width="1.65" stroke-linejoin="round"/>
<line x1="698.03" y1="558.48" x2="698.03" y2="556.78" stroke="#000" stroke-width="1.65"/>
<line x1="716.57" y1="563.81" x2="716.57" y2="562.10" stroke="#000" stroke-width="1.65"/>
<line x1="727.39" y1="554.56" x2="727.39" y2="552.86" stroke="#000" stroke-width="1.65"/>
<line x1="708.85" y1="549.23" x2="708.85" y2="547.53" stroke="#000" stroke-width="1.65"/>
<polygon points="698.03,558.48 716.57,563.81 716.57,563.81 698.03,558.48" fill="none" stroke="#000" stroke-width="1.3" stroke-linejoin="round"/>
<polygon points="716.57,563.81 727.39,554.56 727.39,554.56 716.57,563.81" fill="none" stroke="#000" stroke-width="1.3" stroke-linejoin="round"/>
<polygon points="698.03,558.48 716.57,563.81 727.39,554.56 708.85,549.23" fill="none" stroke="#000" stroke-width="1.3" stroke-linejoin="round"/>
<polygon points="684.51,570.04 703.05,575.37 703.05,574.09 684.51,568.76" fill="#e9d5cb" stroke="#e9d5cb" stroke-width="0.5"/>
<polygon points="703.05,575.37 713.87,566.12 713.87,564.84 703.05,574.09" fill="#e9d5cb" stroke="#e9d5cb" stroke-width="0.5"/>
<polygon points="684.51,568.76 703.05,574.09 713.87,564.84 695.33,559.51" fill="#e9d5cb" stroke="#e9d5cb" stroke-width="0.5"/>
<polygon points="684.51,570.04 703.05,575.37 713.87,566.12 695.33,560.79" fill="none" stroke="#000" stroke-width="1.65" stroke-linejoin="round"/>
<polygon points="684.51,568.76 703.05,574.09 713.87,564.84 695.33,559.51" fill="none" stroke="#000" stroke-width="1.65" stroke-linejoin="round"/>
<line x1="684.51" y1="570.04" x2="684.51" y2="568.76" stroke="#000" stroke-width="1.65"/>
<line x1="703.05" y1="575.37" x2="703.05" y2="574.09" stroke="#000" stroke-width="1.65"/>
<line x1="713.87" y1="566.12" x2="713.87" y2="564.84" stroke="#000" stroke-width="1.65"/>
<line x1="695.33" y1="560.79" x2="695.33" y2="559.51" stroke="#000" stroke-width="1.65"/>
<polygon points="684.51,570.04 703.05,575.37 703.05,575.37 684.51,570.04" fill="none" stroke="#000" stroke-width="1.3" stroke-linejoin="round"/>
<polygon points="703.05,575.37 713.87,566.12 713.87,566.12 703.05,575.37" fill="none" stroke="#000" stroke-width="1.3" stroke-linejoin="round"/>
<polygon points="684.51,570.04 703.05,575.37 713.87,566.12 695.33,560.79" fill="none" stroke="#000" stroke-width="1.3" stroke-linejoin="round"/>
<polygon points="670.99,585.58 689.53,590.91 689.53,586.93 670.99,581.60" fill="#aec9fc" stroke="#aec9fc" stroke-width="0.5"/>
<polygon points="689.53,590.91 700.35,581.66 700.35,577.68 689.53,586.93" fill="#aec9fc" stroke="#aec9fc" stroke-width="0.5"/>
<polygon points="670.99,581.60 689.53,586.93 700.35,577.68 681.81,572.35" fill="#aec9fc" stroke="#aec9fc" stroke-width="0.5"/>
<polygon points="670.99,585.58 689.53,590.91 700.35,581.66 681.81,576.34" fill="none" stroke="#000" stroke-width="1.65" stroke-linejoin="round"/>
<polygon points="670.99,581.60 689.53,586.93 700.35,577.68 681.81,572.35" fill="none" stroke="#000" stroke-width="1.65" stroke-linejoin="round"/>
<line x1="670.99" y1="585.58" x2="670.99" y2="581.60" stroke="#000" stroke-width="1.65"/>
<line x1="689.53" y1="590.91" x2="689.53" y2="586.93" stroke="#000" stroke-width="1.65"/>
<line x1="700.35" y1="581.66" x2="700.35" y2="577.68" stroke="#000" stroke-width="1.65"/>
<line x1="681.81" y1="576.34" x2="681.81" y2="572.35" stroke="#000" stroke-width="1.65"/>
<polygon points="670.99,581.60 689.53,586.93 689.53,586.93 670.99,581.60" fill="none" stroke="#000" stroke-width="1.3" stroke-linejoin="round"/>
<polygon points="689.53,586.93 700.35,577.68 700.35,577.68 689.53,586.93" fill="none" stroke="#000" stroke-width="1.3" stroke-linejoin="round"/>
<polygon points="670.99,581.60 689.53,586.93 700.35,577.68 681.81,572.35" fill="none" stroke="#000" stroke-width="1.3" stroke-linejoin="round"/>
<polygon points="657.47,593.16 676.01,598.49 676.01,598.49 657.47,593.16" fill="#dddcdc" stroke="#dddcdc" stroke-width="0.5"/>
<polygon points="676.01,598.49 686.83,589.24 686.83,589.24 676.01,598.49" fill="#dddcdc" stroke="#dddcdc" stroke-width="0.5"/>
<polygon points="657.47,593.16 676.01,598.49 686.83,589.24 668.29,583.91" fill="#dddcdc" stroke="#dddcdc" stroke-width="0.5"/>
<polygon points="657.47,593.16 676.01,598.49 686.83,589.24 668.29,583.91" fill="none" stroke="#000" stroke-width="1.65" stroke-linejoin="round"/>
<polygon points="657.47,593.16 676.01,598.49 686.83,589.24 668.29,583.91" fill="none" stroke="#000" stroke-width="1.65" stroke-linejoin="round"/>
<line x1="657.47" y1="593.16" x2="657.47" y2="593.16" stroke="#000" stroke-width="1.65"/>
<line x1="676.01" y1="598.49" x2="676.01" y2="598.49" stroke="#000" stroke-width="1.65"/>
<line x1="686.83" y1="589.24" x2="686.83" y2="589.24" stroke="#000" stroke-width="1.65"/>
<line x1="668.29" y1="583.91" x2="668.29" y2="583.91" stroke="#000" stroke-width="1.65"/>
<polygon points="657.47,593.16 676.01,598.49 676.01,598.49 657.47,593.16" fill="none" stroke="#000" stroke-width="1.3" stroke-linejoin="round"/>
<polygon points="676.01,598.49 686.83,589.24 686.83,589.24 676.01,598.49" fill="none" stroke="#000" stroke-width="1.3" stroke-linejoin="round"/>
<polygon points="657.47,593.16 676.01,598.49 686.83,589.24 668.29,583.91" fill="none" stroke="#000" stroke-width="1.3" stroke-linejoin="round"/>
<polygon points="643.95,604.72 662.49,610.05 662.49,610.05 643.95,604.72" fill="#dddcdc" stroke="#dddcdc" stroke-width="0.5"/>
<polygon points="662.49,610.05 673.31,600.80 673.31,600.80 662.49,610.05" fill="#dddcdc" stroke="#dddcdc" stroke-width="0.5"/>
<polygon points="643.95,604.72 662.49,610.05 673.31,600.80 654.77,595.47" fill="#dddcdc" stroke="#dddcdc" stroke-width="0.5"/>
<polygon points="643.95,604.72 662.49,610.05 673.31,600.80 654.77,595.47" fill="none" stroke="#000" stroke-width="1.65" stroke-linejoin="round"/>
<polygon points="643.95,604.72 662.49,610.05 673.31,600.80 654.77,595.47" fill="none" stroke="#000" stroke-width="1.65" stroke-linejoin="round"/>
<line x1="643.95" y1="604.72" x2="643.95" y2="604.72" stroke="#000" stroke-width="1.65"/>
<line x1="662.49" y1="610.05" x2="662.49" y2="610.05" stroke="#000" stroke-width="1.65"/>
<line x1="673.31" y1="600.80" x2="673.31" y2="600.80" stroke="#000" stroke-width="1.65"/>
<line x1="654.77" y1="595.47" x2="654.77" y2="595.47" stroke="#000" stroke-width="1.65"/>
<polygon points="643.95,604.72 662.49,610.05 662.49,610.05 643.95,604.72" fill="none" stroke="#000" stroke-width="1.3" stroke-linejoin="round"/>
<polygon points="662.49,610.05 673.31,600.80 673.31,600.80 662.49,610.05" fill="none" stroke="#000" stroke-width="1.3" stroke-linejoin="round"/>
<polygon points="643.95,604.72 662.49,610.05 673.31,600.80 654.77,595.47" fill="none" stroke="#000" stroke-width="1.3" stroke-linejoin="round"/>
<polygon points="630.43,617.00 648.97,622.33 648.97,621.61 630.43,616.28" fill="#d5dbe5" stroke="#d5dbe5" stroke-width="0.5"/>
<polygon points="648.97,622.33 659.79,613.08 659.79,612.36 648.97,621.61" fill="#d5dbe5" stroke="#d5dbe5" stroke-width="0.5"/>
<polygon points="630.43,616.28 648.97,621.61 659.79,612.36 641.25,607.03" fill="#d5dbe5" stroke="#d5dbe5" stroke-width="0.5"/>
<polygon points="630.43,617.00 648.97,622.33 659.79,613.08 641.25,607.76" fill="none" stroke="#000" stroke-width="1.65" stroke-linejoin="round"/>
<polygon points="630.43,616.28 648.97,621.61 659.79,612.36 641.25,607.03" fill="none" stroke="#000" stroke-width="1.65" stroke-linejoin="round"/>
<line x1="630.43" y1="617.00" x2="630.43" y2="616.28" stroke="#000" stroke-width="1.65"/>
<line x1="648.97" y1="622.33" x2="648.97" y2="621.61" stroke="#000" stroke-width="1.65"/>
<line x1="659.79" y1="613.08" x2="659.79" y2="612.36" stroke="#000" stroke-width="1.65"/>
<line x1="641.25" y1="607.76" x2="641.25" y2="607.03" stroke="#000" stroke-width="1.65"/>
<polygon points="630.43,616.28 648.97,621.61 648.97,621.61 630.43,616.28" fill="none" stroke="#000" stroke-width="1.3" stroke-linejoin="round"/>
<polygon points="648.97,621.61 659.79,612.36 659.79,612.36 648.97,621.61" fill="none" stroke="#000" stroke-width="1.3" stroke-linejoin="round"/>
<polygon points="630.43,616.28 648.97,621.61 659.79,612.36 641.25,607.03" fill="none" stroke="#000" stroke-width="1.3" stroke-linejoin="round"/>
<polygon points="748.25,542.02 766.79,547.35 766.79,540.53 748.25,535.20" fill="#f29274" stroke="#f29274" stroke-width="0.5"/>
<polygon points="766.79,547.35 777.61,538.10 777.61,531.28 766.79,540.53" fill="#f29274" stroke="#f29274" stroke-width="0.5"/>
<polygon points="748.25,535.20 766.79,540.53 777.61,531.28 759.07,525.96" fill="#f29274" stroke="#f29274" stroke-width="0.5"/>
<polygon points="748.25,542.02 766.79,547.35 777.61,538.10 759.07,532.77" fill="none" stroke="#000" stroke-width="1.65" stroke-linejoin="round"/>
<polygon points="748.25,535.20 766.79,540.53 777.61,531.28 759.07,525.96" fill="none" stroke="#000" stroke-width="1.65" stroke-linejoin="round"/>
<line x1="748.25" y1="542.02" x2="748.25" y2="535.20" stroke="#000" stroke-width="1.65"/>
<line x1="766.79" y1="547.35" x2="766.79" y2="540.53" stroke="#000" stroke-width="1.65"/>
<line x1="777.61" y1="538.10" x2="777.61" y2="531.28" stroke="#000" stroke-width="1.65"/>
<line x1="759.07" y1="532.77" x2="759.07" y2="525.96" stroke="#000" stroke-width="1.65"/>
<polygon points="748.25,542.02 766.79,547.35 766.79,547.35 748.25,542.02" fill="none" stroke="#000" stroke-width="1.3" stroke-linejoin="round"/>
<polygon points="766.79,547.35 777.61,538.10 777.61,538.10 766.79,547.35" fill="none" stroke="#000" stroke-width="1.3" stroke-linejoin="round"/>
<polygon points="748.25,542.02 766.79,547.35 777.61,538.10 759.07,532.77" fill="none" stroke="#000" stroke-width="1.3" stroke-linejoin="round"/>
<polygon points="734.73,553.58 753.27,558.91 753.27,558.48 734.73,553.15" fill="#e1dad6" stroke="#e1dad6" stroke-width="0.5"/>
<polygon points="753.27,558.91 764.09,549.66 764.09,549.23 753.27,558.48" fill="#e1dad6" stroke="#e1dad6" stroke-width="0.5"/>
<polygon points="734.73,553.15 753.27,558.48 764.09,549.23 745.55,543.91" fill="#e1dad6" stroke="#e1dad6" stroke-width="0.5"/>
<polygon points="734.73,553.58 753.27,558.91 764.09,549.66 745.55,544.33" fill="none" stroke="#000" stroke-width="1.65" stroke-linejoin="round"/>
<polygon points="734.73,553.15 753.27,558.48 764.09,549.23 745.55,543.91" fill="none" stroke="#000" stroke-width="1.65" stroke-linejoin="round"/>
<line x1="734.73" y1="553.58" x2="734.73" y2="553.15" stroke="#000" stroke-width="1.65"/>
<line x1="753.27" y1="558.91" x2="753.27" y2="558.48" stroke="#000" stroke-width="1.65"/>
<line x1="764.09" y1="549.66" x2="764.09" y2="549.23" stroke="#000" stroke-width="1.65"/>
<line x1="745.55" y1="544.33" x2="745.55" y2="543.91" stroke="#000" stroke-width="1.65"/>
<polygon points="734.73,553.58 753.27,558.91 753.27,558.91 734.73,553.58" fill="none" stroke="#000" stroke-width="1.3" stroke-linejoin="round"/>
<polygon points="753.27,558.91 764.09,549.66 764.09,549.66 753.27,558.91" fill="none" stroke="#000" stroke-width="1.3" stroke-linejoin="round"/>
<polygon points="734.73,553.58 753.27,558.91 764.09,549.66 745.55,544.33" fill="none" stroke="#000" stroke-width="1.3" stroke-linejoin="round"/>
<polygon points="721.21,565.14 739.75,570.47 739.75,565.78 721.21,560.45" fill="#f7b396" stroke="#f7b396" stroke-width="0.5"/>
<polygon points="739.75,570.47 750.57,561.22 750.57,556.53 739.75,565.78" fill="#f7b396" stroke="#f7b396" stroke-width="0.5"/>
<polygon points="721.21,560.45 739.75,565.78 750.57,556.53 732.03,551.21" fill="#f7b396" stroke="#f7b396" stroke-width="0.5"/>
<polygon points="721.21,565.14 739.75,570.47 750.57,561.22 732.03,555.89" fill="none" stroke="#000" stroke-width="1.65" stroke-linejoin="round"/>
<polygon points="721.21,560.45 739.75,565.78 750.57,556.53 732.03,551.21" fill="none" stroke="#000" stroke-width="1.65" stroke-linejoin="round"/>
<line x1="721.21" y1="565.14" x2="721.21" y2="560.45" stroke="#000" stroke-width="1.65"/>
<line x1="739.75" y1="570.47" x2="739.75" y2="565.78" stroke="#000" stroke-width="1.65"/>
<line x1="750.57" y1="561.22" x2="750.57" y2="556.53" stroke="#000" stroke-width="1.65"/>
<line x1="732.03" y1="555.89" x2="732.03" y2="551.21" stroke="#000" stroke-width="1.65"/>
<polygon points="721.21,565.14 739.75,570.47 739.75,570.47 721.21,565.14" fill="none" stroke="#000" stroke-width="1.3" stroke-linejoin="round"/>
<polygon points="739.75,570.47 750.57,561.22 750.57,561.22 739.75,570.47" fill="none" stroke="#000" stroke-width="1.3" stroke-linejoin="round"/>
<polygon points="721.21,565.14 739.75,570.47 750.57,561.22 732.03,555.89" fill="none" stroke="#000" stroke-width="1.3" stroke-linejoin="round"/>
<polygon points="707.69,576.70 726.23,582.03 726.23,577.77 707.69,572.44" fill="#f7b89c" stroke="#f7b89c" stroke-width="0.5"/>
<polygon points="726.23,582.03 737.05,572.78 737.05,568.52 726.23,577.77" fill="#f7b89c" stroke="#f7b89c" stroke-width="0.5"/>
<polygon points="707.69,572.44 726.23,577.77 737.05,568.52 718.51,563.19" fill="#f7b89c" stroke="#f7b89c" stroke-width="0.5"/>
<polygon points="707.69,576.70 726.23,582.03 737.05,572.78 718.51,567.45" fill="none" stroke="#000" stroke-width="1.65" stroke-linejoin="round"/>
<polygon points="707.69,572.44 726.23,577.77 737.05,568.52 718.51,563.19" fill="none" stroke="#000" stroke-width="1.65" stroke-linejoin="round"/>
<line x1="707.69" y1="576.70" x2="707.69" y2="572.44" stroke="#000" stroke-width="1.65"/>
<line x1="726.23" y1="582.03" x2="726.23" y2="577.77" stroke="#000" stroke-width="1.65"/>
<line x1="737.05" y1="572.78" x2="737.05" y2="568.52" stroke="#000" stroke-width="1.65"/>
<line x1="718.51" y1="567.45" x2="718.51" y2="563.19" stroke="#000" stroke-width="1.65"/>
<polygon points="707.69,576.70 726.23,582.03 726.23,582.03 707.69,576.70" fill="none" stroke="#000" stroke-width="1.3" stroke-linejoin="round"/>
<polygon points="726.23,582.03 737.05,572.78 737.05,572.78 726.23,582.03" fill="none" stroke="#000" stroke-width="1.3" stroke-linejoin="round"/>
<polygon points="707.69,576.70 726.23,582.03 737.05,572.78 718.51,567.45" fill="none" stroke="#000" stroke-width="1.3" stroke-linejoin="round"/>
<polygon points="694.17,588.26 712.71,593.59 712.71,593.59 694.17,588.26" fill="#dddcdc" stroke="#dddcdc" stroke-width="0.5"/>
<polygon points="712.71,593.59 723.53,584.34 723.53,584.34 712.71,593.59" fill="#dddcdc" stroke="#dddcdc" stroke-width="0.5"/>
<polygon points="694.17,588.26 712.71,593.59 723.53,584.34 704.99,579.01" fill="#dddcdc" stroke="#dddcdc" stroke-width="0.5"/>
<polygon points="694.17,588.26 712.71,593.59 723.53,584.34 704.99,579.01" fill="none" stroke="#000" stroke-width="1.65" stroke-linejoin="round"/>
<polygon points="694.17,588.26 712.71,593.59 723.53,584.34 704.99,579.01" fill="none" stroke="#000" stroke-width="1.65" stroke-linejoin="round"/>
<line x1="694.17" y1="588.26" x2="694.17" y2="588.26" stroke="#000" stroke-width="1.65"/>
<line x1="712.71" y1="593.59" x2="712.71" y2="593.59" stroke="#000" stroke-width="1.65"/>
<line x1="723.53" y1="584.34" x2="723.53" y2="584.34" stroke="#000" stroke-width="1.65"/>
<line x1="704.99" y1="579.01" x2="704.99" y2="579.01" stroke="#000" stroke-width="1.65"/>
<polygon points="694.17,588.26 712.71,593.59 712.71,593.59 694.17,588.26" fill="none" stroke="#000" stroke-width="1.3" stroke-linejoin="round"/>
<polygon points="712.71,593.59 723.53,584.34 723.53,584.34 712.71,593.59" fill="none" stroke="#000" stroke-width="1.3" stroke-linejoin="round"/>
<polygon points="694.17,588.26 712.71,593.59 723.53,584.34 704.99,579.01" fill="none" stroke="#000" stroke-width="1.3" stroke-linejoin="round"/>
<polygon points="680.65,599.82 699.19,605.15 699.19,600.89 680.65,595.56" fill="#f7b89c" stroke="#f7b89c" stroke-width="0.5"/>
<polygon points="699.19,605.15 710.01,595.90 710.01,591.64 699.19,600.89" fill="#f7b89c" stroke="#f7b89c" stroke-width="0.5"/>
<polygon points="680.65,595.56 699.19,600.89 710.01,591.64 691.47,586.31" fill="#f7b89c" stroke="#f7b89c" stroke-width="0.5"/>
<polygon points="680.65,599.82 699.19,605.15 710.01,595.90 691.47,590.57" fill="none" stroke="#000" stroke-width="1.65" stroke-linejoin="round"/>
<polygon points="680.65,595.56 699.19,600.89 710.01,591.64 691.47,586.31" fill="none" stroke="#000" stroke-width="1.65" stroke-linejoin="round"/>
<line x1="680.65" y1="599.82" x2="680.65" y2="595.56" stroke="#000" stroke-width="1.65"/>
<line x1="699.19" y1="605.15" x2="699.19" y2="600.89" stroke="#000" stroke-width="1.65"/>
<line x1="710.01" y1="595.90" x2="710.01" y2="591.64" stroke="#000" stroke-width="1.65"/>
<line x1="691.47" y1="590.57" x2="691.47" y2="586.31" stroke="#000" stroke-width="1.65"/>
<polygon points="680.65,599.82 699.19,605.15 699.19,605.15 680.65,599.82" fill="none" stroke="#000" stroke-width="1.3" stroke-linejoin="round"/>
<polygon points="699.19,605.15 710.01,595.90 710.01,595.90 699.19,605.15" fill="none" stroke="#000" stroke-width="1.3" stroke-linejoin="round"/>
<polygon points="680.65,599.82 699.19,605.15 710.01,595.90 691.47,590.57" fill="none" stroke="#000" stroke-width="1.3" stroke-linejoin="round"/>
<polygon points="667.13,611.38 685.67,616.71 685.67,612.02 667.13,606.69" fill="#f7b396" stroke="#f7b396" stroke-width="0.5"/>
<polygon points="685.67,616.71 696.49,607.46 696.49,602.77 685.67,612.02" fill="#f7b396" stroke="#f7b396" stroke-width="0.5"/>
<polygon points="667.13,606.69 685.67,612.02 696.49,602.77 677.95,597.45" fill="#f7b396" stroke="#f7b396" stroke-width="0.5"/>
<polygon points="667.13,611.38 685.67,616.71 696.49,607.46 677.95,602.13" fill="none" stroke="#000" stroke-width="1.65" stroke-linejoin="round"/>
<polygon points="667.13,606.69 685.67,612.02 696.49,602.77 677.95,597.45" fill="none" stroke="#000" stroke-width="1.65" stroke-linejoin="round"/>
<line x1="667.13" y1="611.38" x2="667.13" y2="606.69" stroke="#000" stroke-width="1.65"/>
<line x1="685.67" y1="616.71" x2="685.67" y2="612.02" stroke="#000" stroke-width="1.65"/>
<line x1="696.49" y1="607.46" x2="696.49" y2="602.77" stroke="#000" stroke-width="1.65"/>
<line x1="677.95" y1="602.13" x2="677.95" y2="597.45" stroke="#000" stroke-width="1.65"/>
<polygon points="667.13,611.38 685.67,616.71 685.67,616.71 667.13,611.38" fill="none" stroke="#000" stroke-width="1.3" stroke-linejoin="round"/>
<polygon points="685.67,616.71 696.49,607.46 696.49,607.46 685.67,616.71" fill="none" stroke="#000" stroke-width="1.3" stroke-linejoin="round"/>
<polygon points="667.13,611.38 685.67,616.71 696.49,607.46 677.95,602.13" fill="none" stroke="#000" stroke-width="1.3" stroke-linejoin="round"/>
<polygon points="653.61,626.56 672.15,631.89 672.15,628.27 653.61,622.94" fill="#b2ccfb" stroke="#b2ccfb" stroke-width="0.5"/>
<polygon points="672.15,631.89 682.97,622.64 682.97,619.02 672.15,628.27" fill="#b2ccfb" stroke="#b2ccfb" stroke-width="0.5"/>
<polygon points="653.61,622.94 672.15,628.27 682.97,619.02 664.43,613.69" fill="#b2ccfb" stroke="#b2ccfb" stroke-width="0.5"/>
<polygon points="653.61,626.56 672.15,631.89 682.97,622.64 664.43,617.31" fill="none" stroke="#000" stroke-width="1.65" stroke-linejoin="round"/>
<polygon points="653.61,622.94 672.15,628.27 682.97,619.02 664.43,613.69" fill="none" stroke="#000" stroke-width="1.65" stroke-linejoin="round"/>
<line x1="653.61" y1="626.56" x2="653.61" y2="622.94" stroke="#000" stroke-width="1.65"/>
<line x1="672.15" y1="631.89" x2="672.15" y2="628.27" stroke="#000" stroke-width="1.65"/>
<line x1="682.97" y1="622.64" x2="682.97" y2="619.02" stroke="#000" stroke-width="1.65"/>
<line x1="664.43" y1="617.31" x2="664.43" y2="613.69" stroke="#000" stroke-width="1.65"/>
<polygon points="653.61,622.94 672.15,628.27 672.15,628.27 653.61,622.94" fill="none" stroke="#000" stroke-width="1.3" stroke-linejoin="round"/>
<polygon points="672.15,628.27 682.97,619.02 682.97,619.02 672.15,628.27" fill="none" stroke="#000" stroke-width="1.3" stroke-linejoin="round"/>
<polygon points="653.61,622.94 672.15,628.27 682.97,619.02 664.43,613.69" fill="none" stroke="#000" stroke-width="1.3" stroke-linejoin="round"/>
<polygon points="771.43,548.68 789.97,554.01 789.97,543.36 771.43,538.03" fill="#d1493f" stroke="#d1493f" stroke-width="0.5"/>
<polygon points="789.97,554.01 800.79,544.76 800.79,534.11 789.97,543.36" fill="#d1493f" stroke="#d1493f" stroke-width="0.5"/>
<polygon points="771.43,538.03 789.97,543.36 800.79,534.11 782.25,528.78" fill="#d1493f" stroke="#d1493f" stroke-width="0.5"/>
<polygon points="771.43,548.68 789.97,554.01 800.79,544.76 782.25,539.43" fill="none" stroke="#000" stroke-width="1.65" stroke-linejoin="round"/>
<polygon points="771.43,538.03 789.97,543.36 800.79,534.11 782.25,528.78" fill="none" stroke="#000" stroke-width="1.65" stroke-linejoin="round"/>
<line x1="771.43" y1="548.68" x2="771.43" y2="538.03" stroke="#000" stroke-width="1.65"/>
<line x1="789.97" y1="554.01" x2="789.97" y2="543.36" stroke="#000" stroke-width="1.65"/>
<line x1="800.79" y1="544.76" x2="800.79" y2="534.11" stroke="#000" stroke-width="1.65"/>
<line x1="782.25" y1="539.43" x2="782.25" y2="528.78" stroke="#000" stroke-width="1.65"/>
<polygon points="771.43,548.68 789.97,554.01 789.97,554.01 771.43,548.68" fill="none" stroke="#000" stroke-width="1.3" stroke-linejoin="round"/>
<polygon points="789.97,554.01 800.79,544.76 800.79,544.76 789.97,554.01" fill="none" stroke="#000" stroke-width="1.3" stroke-linejoin="round"/>
<polygon points="771.43,548.68 789.97,554.01 800.79,544.76 782.25,539.43" fill="none" stroke="#000" stroke-width="1.3" stroke-linejoin="round"/>
<polygon points="757.91,564.59 776.45,569.91 776.45,565.57 757.91,560.24" fill="#a9c6fd" stroke="#a9c6fd" stroke-width="0.5"/>
<polygon points="776.45,569.91 787.27,560.67 787.27,556.32 776.45,565.57" fill="#a9c6fd" stroke="#a9c6fd" stroke-width="0.5"/>
<polygon points="757.91,560.24 776.45,565.57 787.27,556.32 768.73,550.99" fill="#a9c6fd" stroke="#a9c6fd" stroke-width="0.5"/>
<polygon points="757.91,564.59 776.45,569.91 787.27,560.67 768.73,555.34" fill="none" stroke="#000" stroke-width="1.65" stroke-linejoin="round"/>
<polygon points="757.91,560.24 776.45,565.57 787.27,556.32 768.73,550.99" fill="none" stroke="#000" stroke-width="1.65" stroke-linejoin="round"/>
<line x1="757.91" y1="564.59" x2="757.91" y2="560.24" stroke="#000" stroke-width="1.65"/>
<line x1="776.45" y1="569.91" x2="776.45" y2="565.57" stroke="#000" stroke-width="1.65"/>
<line x1="787.27" y1="560.67" x2="787.27" y2="556.32" stroke="#000" stroke-width="1.65"/>
<line x1="768.73" y1="555.34" x2="768.73" y2="550.99" stroke="#000" stroke-width="1.65"/>
<polygon points="757.91,560.24 776.45,565.57 776.45,565.57 757.91,560.24" fill="none" stroke="#000" stroke-width="1.3" stroke-linejoin="round"/>
<polygon points="776.45,565.57 787.27,556.32 787.27,556.32 776.45,565.57" fill="none" stroke="#000" stroke-width="1.3" stroke-linejoin="round"/>
<polygon points="757.91,560.24 776.45,565.57 787.27,556.32 768.73,550.99" fill="none" stroke="#000" stroke-width="1.3" stroke-linejoin="round"/>
<polygon points="744.39,571.80 762.93,577.13 762.93,576.28 744.39,570.95" fill="#e5d8d1" stroke="#e5d8d1" stroke-width="0.5"/>
<polygon points="762.93,577.13 773.75,567.88 773.75,567.03 762.93,576.28" fill="#e5d8d1" stroke="#e5d8d1" stroke-width="0.5"/>
<polygon points="744.39,570.95 762.93,576.28 773.75,567.03 755.21,561.70" fill="#e5d8d1" stroke="#e5d8d1" stroke-width="0.5"/>
<polygon points="744.39,571.80 762.93,577.13 773.75,567.88 755.21,562.55" fill="none" stroke="#000" stroke-width="1.65" stroke-linejoin="round"/>
<polygon points="744.39,570.95 762.93,576.28 773.75,567.03 755.21,561.70" fill="none" stroke="#000" stroke-width="1.65" stroke-linejoin="round"/>
<line x1="744.39" y1="571.80" x2="744.39" y2="570.95" stroke="#000" stroke-width="1.65"/>
<line x1="762.93" y1="577.13" x2="762.93" y2="576.28" stroke="#000" stroke-width="1.65"/>
<line x1="773.75" y1="567.88" x2="773.75" y2="567.03" stroke="#000" stroke-width="1.65"/>
<line x1="755.21" y1="562.55" x2="755.21" y2="561.70" stroke="#000" stroke-width="1.65"/>
<polygon points="744.39,571.80 762.93,577.13 762.93,577.13 744.39,571.80" fill="none" stroke="#000" stroke-width="1.3" stroke-linejoin="round"/>
<polygon points="762.93,577.13 773.75,567.88 773.75,567.88 762.93,577.13" fill="none" stroke="#000" stroke-width="1.3" stroke-linejoin="round"/>
<polygon points="744.39,571.80 762.93,577.13 773.75,567.88 755.21,562.55" fill="none" stroke="#000" stroke-width="1.3" stroke-linejoin="round"/>
<polygon points="730.87,583.36 749.41,588.69 749.41,588.69 730.87,583.36" fill="#dddcdc" stroke="#dddcdc" stroke-width="0.5"/>
<polygon points="749.41,588.69 760.23,579.44 760.23,579.44 749.41,588.69" fill="#dddcdc" stroke="#dddcdc" stroke-width="0.5"/>
<polygon points="730.87,583.36 749.41,588.69 760.23,579.44 741.69,574.11" fill="#dddcdc" stroke="#dddcdc" stroke-width="0.5"/>
<polygon points="730.87,583.36 749.41,588.69 760.23,579.44 741.69,574.11" fill="none" stroke="#000" stroke-width="1.65" stroke-linejoin="round"/>
<polygon points="730.87,583.36 749.41,588.69 760.23,579.44 741.69,574.11" fill="none" stroke="#000" stroke-width="1.65" stroke-linejoin="round"/>
<line x1="730.87" y1="583.36" x2="730.87" y2="583.36" stroke="#000" stroke-width="1.65"/>
<line x1="749.41" y1="588.69" x2="749.41" y2="588.69" stroke="#000" stroke-width="1.65"/>
<line x1="760.23" y1="579.44" x2="760.23" y2="579.44" stroke="#000" stroke-width="1.65"/>
<line x1="741.69" y1="574.11" x2="741.69" y2="574.11" stroke="#000" stroke-width="1.65"/>
<polygon points="730.87,583.36 749.41,588.69 749.41,588.69 730.87,583.36" fill="none" stroke="#000" stroke-width="1.3" stroke-linejoin="round"/>
<polygon points="749.41,588.69 760.23,579.44 760.23,579.44 749.41,588.69" fill="none" stroke="#000" stroke-width="1.3" stroke-linejoin="round"/>
<polygon points="730.87,583.36 749.41,588.69 760.23,579.44 741.69,574.11" fill="none" stroke="#000" stroke-width="1.3" stroke-linejoin="round"/>
<polygon points="717.35,598.90 735.89,604.23 735.89,600.25 717.35,594.92" fill="#aec9fc" stroke="#aec9fc" stroke-width="0.5"/>
<polygon points="735.89,604.23 746.71,594.98 746.71,591.00 735.89,600.25" fill="#aec9fc" stroke="#aec9fc" stroke-width="0.5"/>
<polygon points="717.35,594.92 735.89,600.25 746.71,591.00 728.17,585.67" fill="#aec9fc" stroke="#aec9fc" stroke-width="0.5"/>
<polygon points="717.35,598.90 735.89,604.23 746.71,594.98 728.17,589.66" fill="none" stroke="#000" stroke-width="1.65" stroke-linejoin="round"/>
<polygon points="717.35,594.92 735.89,600.25 746.71,591.00 728.17,585.67" fill="none" stroke="#000" stroke-width="1.65" stroke-linejoin="round"/>
<line x1="717.35" y1="598.90" x2="717.35" y2="594.92" stroke="#000" stroke-width="1.65"/>
<line x1="735.89" y1="604.23" x2="735.89" y2="600.25" stroke="#000" stroke-width="1.65"/>
<line x1="746.71" y1="594.98" x2="746.71" y2="591.00" stroke="#000" stroke-width="1.65"/>
<line x1="728.17" y1="589.66" x2="728.17" y2="585.67" stroke="#000" stroke-width="1.65"/>
<polygon points="717.35,594.92 735.89,600.25 735.89,600.25 717.35,594.92" fill="none" stroke="#000" stroke-width="1.3" stroke-linejoin="round"/>
<polygon points="735.89,600.25 746.71,591.00 746.71,591.00 735.89,600.25" fill="none" stroke="#000" stroke-width="1.3" stroke-linejoin="round"/>
<polygon points="717.35,594.92 735.89,600.25 746.71,591.00 728.17,585.67" fill="none" stroke="#000" stroke-width="1.3" stroke-linejoin="round"/>
<polygon points="703.83,606.84 722.37,612.17 722.37,611.81 703.83,606.48" fill="#d9dce1" stroke="#d9dce1" stroke-width="0.5"/>
<polygon points="722.37,612.17 733.19,602.92 733.19,602.56 722.37,611.81" fill="#d9dce1" stroke="#d9dce1" stroke-width="0.5"/>
<polygon points="703.83,606.48 722.37,611.81 733.19,602.56 714.65,597.23" fill="#d9dce1" stroke="#d9dce1" stroke-width="0.5"/>
<polygon points="703.83,606.84 722.37,612.17 733.19,602.92 714.65,597.59" fill="none" stroke="#000" stroke-width="1.65" stroke-linejoin="round"/>
<polygon points="703.83,606.48 722.37,611.81 733.19,602.56 714.65,597.23" fill="none" stroke="#000" stroke-width="1.65" stroke-linejoin="round"/>
<line x1="703.83" y1="606.84" x2="703.83" y2="606.48" stroke="#000" stroke-width="1.65"/>
<line x1="722.37" y1="612.17" x2="722.37" y2="611.81" stroke="#000" stroke-width="1.65"/>
<line x1="733.19" y1="602.92" x2="733.19" y2="602.56" stroke="#000" stroke-width="1.65"/>
<line x1="714.65" y1="597.59" x2="714.65" y2="597.23" stroke="#000" stroke-width="1.65"/>
<polygon points="703.83,606.48 722.37,611.81 722.37,611.81 703.83,606.48" fill="none" stroke="#000" stroke-width="1.3" stroke-linejoin="round"/>
<polygon points="722.37,611.81 733.19,602.56 733.19,602.56 722.37,611.81" fill="none" stroke="#000" stroke-width="1.3" stroke-linejoin="round"/>
<polygon points="703.83,606.48 722.37,611.81 733.19,602.56 714.65,597.23" fill="none" stroke="#000" stroke-width="1.3" stroke-linejoin="round"/>
<polygon points="690.31,618.40 708.85,623.73 708.85,623.37 690.31,618.04" fill="#d9dce1" stroke="#d9dce1" stroke-width="0.5"/>
<polygon points="708.85,623.73 719.67,614.48 719.67,614.12 708.85,623.37" fill="#d9dce1" stroke="#d9dce1" stroke-width="0.5"/>
<polygon points="690.31,618.04 708.85,623.37 719.67,614.12 701.13,608.79" fill="#d9dce1" stroke="#d9dce1" stroke-width="0.5"/>
<polygon points="690.31,618.40 708.85,623.73 719.67,614.48 701.13,609.15" fill="none" stroke="#000" stroke-width="1.65" stroke-linejoin="round"/>
<polygon points="690.31,618.04 708.85,623.37 719.67,614.12 701.13,608.79" fill="none" stroke="#000" stroke-width="1.65" stroke-linejoin="round"/>
<line x1="690.31" y1="618.40" x2="690.31" y2="618.04" stroke="#000" stroke-width="1.65"/>
<line x1="708.85" y1="623.73" x2="708.85" y2="623.37" stroke="#000" stroke-width="1.65"/>
<line x1="719.67" y1="614.48" x2="719.67" y2="614.12" stroke="#000" stroke-width="1.65"/>
<line x1="701.13" y1="609.15" x2="701.13" y2="608.79" stroke="#000" stroke-width="1.65"/>
<polygon points="690.31,618.04 708.85,623.37 708.85,623.37 690.31,618.04" fill="none" stroke="#000" stroke-width="1.3" stroke-linejoin="round"/>
<polygon points="708.85,623.37 719.67,614.12 719.67,614.12 708.85,623.37" fill="none" stroke="#000" stroke-width="1.3" stroke-linejoin="round"/>
<polygon points="690.31,618.04 708.85,623.37 719.67,614.12 701.13,608.79" fill="none" stroke="#000" stroke-width="1.3" stroke-linejoin="round"/>
<polygon points="676.79,629.60 695.33,634.93 695.33,634.93 676.79,629.60" fill="#dddcdc" stroke="#dddcdc" stroke-width="0.5"/>
<polygon points="695.33,634.93 706.15,625.68 706.15,625.68 695.33,634.93" fill="#dddcdc" stroke="#dddcdc" stroke-width="0.5"/>
<polygon points="676.79,629.60 695.33,634.93 706.15,625.68 687.61,620.35" fill="#dddcdc" stroke="#dddcdc" stroke-width="0.5"/>
<polygon points="676.79,629.60 695.33,634.93 706.15,625.68 687.61,620.35" fill="none" stroke="#000" stroke-width="1.65" stroke-linejoin="round"/>
<polygon points="676.79,629.60 695.33,634.93 706.15,625.68 687.61,620.35" fill="none" stroke="#000" stroke-width="1.65" stroke-linejoin="round"/>
<line x1="676.79" y1="629.60" x2="676.79" y2="629.60" stroke="#000" stroke-width="1.65"/>
<line x1="695.33" y1="634.93" x2="695.33" y2="634.93" stroke="#000" stroke-width="1.65"/>
<line x1="706.15" y1="625.68" x2="706.15" y2="625.68" stroke="#000" stroke-width="1.65"/>
<line x1="687.61" y1="620.35" x2="687.61" y2="620.35" stroke="#000" stroke-width="1.65"/>
<polygon points="676.79,629.60 695.33,634.93 695.33,634.93 676.79,629.60" fill="none" stroke="#000" stroke-width="1.3" stroke-linejoin="round"/>
<polygon points="695.33,634.93 706.15,625.68 706.15,625.68 695.33,634.93" fill="none" stroke="#000" stroke-width="1.3" stroke-linejoin="round"/>
<polygon points="676.79,629.60 695.33,634.93 706.15,625.68 687.61,620.35" fill="none" stroke="#000" stroke-width="1.3" stroke-linejoin="round"/>
<polygon points="794.61,555.34 813.15,560.67 813.15,548.31 794.61,542.99" fill="#ba162b" stroke="#ba162b" stroke-width="0.5"/>
<polygon points="813.15,560.67 823.97,551.42 823.97,539.07 813.15,548.31" fill="#ba162b" stroke="#ba162b" stroke-width="0.5"/>
<polygon points="794.61,542.99 813.15,548.31 823.97,539.07 805.43,533.74" fill="#ba162b" stroke="#ba162b" stroke-width="0.5"/>
<polygon points="794.61,555.34 813.15,560.67 823.97,551.42 805.43,546.09" fill="none" stroke="#000" stroke-width="1.65" stroke-linejoin="round"/>
<polygon points="794.61,542.99 813.15,548.31 823.97,539.07 805.43,533.74" fill="none" stroke="#000" stroke-width="1.65" stroke-linejoin="round"/>
<line x1="794.61" y1="555.34" x2="794.61" y2="542.99" stroke="#000" stroke-width="1.65"/>
<line x1="813.15" y1="560.67" x2="813.15" y2="548.31" stroke="#000" stroke-width="1.65"/>
<line x1="823.97" y1="551.42" x2="823.97" y2="539.07" stroke="#000" stroke-width="1.65"/>
<line x1="805.43" y1="546.09" x2="805.43" y2="533.74" stroke="#000" stroke-width="1.65"/>
<polygon points="794.61,555.34 813.15,560.67 813.15,560.67 794.61,555.34" fill="none" stroke="#000" stroke-width="1.3" stroke-linejoin="round"/>
<polygon points="813.15,560.67 823.97,551.42 823.97,551.42 813.15,560.67" fill="none" stroke="#000" stroke-width="1.3" stroke-linejoin="round"/>
<polygon points="794.61,555.34 813.15,560.67 823.97,551.42 805.43,546.09" fill="none" stroke="#000" stroke-width="1.3" stroke-linejoin="round"/>
<polygon points="781.09,571.61 799.63,576.94 799.63,572.23 781.09,566.90" fill="#a3c2fe" stroke="#a3c2fe" stroke-width="0.5"/>
<polygon points="799.63,576.94 810.45,567.69 810.45,562.98 799.63,572.23" fill="#a3c2fe" stroke="#a3c2fe" stroke-width="0.5"/>
<polygon points="781.09,566.90 799.63,572.23 810.45,562.98 791.91,557.65" fill="#a3c2fe" stroke="#a3c2fe" stroke-width="0.5"/>
<polygon points="781.09,571.61 799.63,576.94 810.45,567.69 791.91,562.36" fill="none" stroke="#000" stroke-width="1.65" stroke-linejoin="round"/>
<polygon points="781.09,566.90 799.63,572.23 810.45,562.98 791.91,557.65" fill="none" stroke="#000" stroke-width="1.65" stroke-linejoin="round"/>
<line x1="781.09" y1="571.61" x2="781.09" y2="566.90" stroke="#000" stroke-width="1.65"/>
<line x1="799.63" y1="576.94" x2="799.63" y2="572.23" stroke="#000" stroke-width="1.65"/>
<line x1="810.45" y1="567.69" x2="810.45" y2="562.98" stroke="#000" stroke-width="1.65"/>
<line x1="791.91" y1="562.36" x2="791.91" y2="557.65" stroke="#000" stroke-width="1.65"/>
<polygon points="781.09,566.90 799.63,572.23 799.63,572.23 781.09,566.90" fill="none" stroke="#000" stroke-width="1.3" stroke-linejoin="round"/>
<polygon points="799.63,572.23 810.45,562.98 810.45,562.98 799.63,572.23" fill="none" stroke="#000" stroke-width="1.3" stroke-linejoin="round"/>
<polygon points="781.09,566.90 799.63,572.23 810.45,562.98 791.91,557.65" fill="none" stroke="#000" stroke-width="1.3" stroke-linejoin="round"/>
<polygon points="767.57,578.46 786.11,583.79 786.11,583.79 767.57,578.46" fill="#dddcdc" stroke="#dddcdc" stroke-width="0.5"/>
<polygon points="786.11,583.79 796.93,574.54 796.93,574.54 786.11,583.79" fill="#dddcdc" stroke="#dddcdc" stroke-width="0.5"/>
<polygon points="767.57,578.46 786.11,583.79 796.93,574.54 778.39,569.21" fill="#dddcdc" stroke="#dddcdc" stroke-width="0.5"/>
<polygon points="767.57,578.46 786.11,583.79 796.93,574.54 778.39,569.21" fill="none" stroke="#000" stroke-width="1.65" stroke-linejoin="round"/>
<polygon points="767.57,578.46 786.11,583.79 796.93,574.54 778.39,569.21" fill="none" stroke="#000" stroke-width="1.65" stroke-linejoin="round"/>
<line x1="767.57" y1="578.46" x2="767.57" y2="578.46" stroke="#000" stroke-width="1.65"/>
<line x1="786.11" y1="583.79" x2="786.11" y2="583.79" stroke="#000" stroke-width="1.65"/>
<line x1="796.93" y1="574.54" x2="796.93" y2="574.54" stroke="#000" stroke-width="1.65"/>
<line x1="778.39" y1="569.21" x2="778.39" y2="569.21" stroke="#000" stroke-width="1.65"/>
<polygon points="767.57,578.46 786.11,583.79 786.11,583.79 767.57,578.46" fill="none" stroke="#000" stroke-width="1.3" stroke-linejoin="round"/>
<polygon points="786.11,583.79 796.93,574.54 796.93,574.54 786.11,583.79" fill="none" stroke="#000" stroke-width="1.3" stroke-linejoin="round"/>
<polygon points="767.57,578.46 786.11,583.79 796.93,574.54 778.39,569.21" fill="none" stroke="#000" stroke-width="1.3" stroke-linejoin="round"/>
<polygon points="754.05,590.74 772.59,596.07 772.59,595.35 754.05,590.02" fill="#d5dbe5" stroke="#d5dbe5" stroke-width="0.5"/>
<polygon points="772.59,596.07 783.41,586.82 783.41,586.10 772.59,595.35" fill="#d5dbe5" stroke="#d5dbe5" stroke-width="0.5"/>
<polygon points="754.05,590.02 772.59,595.35 783.41,586.10 764.87,580.77" fill="#d5dbe5" stroke="#d5dbe5" stroke-width="0.5"/>
<polygon points="754.05,590.74 772.59,596.07 783.41,586.82 764.87,581.50" fill="none" stroke="#000" stroke-width="1.65" stroke-linejoin="round"/>
<polygon points="754.05,590.02 772.59,595.35 783.41,586.10 764.87,580.77" fill="none" stroke="#000" stroke-width="1.65" stroke-linejoin="round"/>
<line x1="754.05" y1="590.74" x2="754.05" y2="590.02" stroke="#000" stroke-width="1.65"/>
<line x1="772.59" y1="596.07" x2="772.59" y2="595.35" stroke="#000" stroke-width="1.65"/>
<line x1="783.41" y1="586.82" x2="783.41" y2="586.10" stroke="#000" stroke-width="1.65"/>
<line x1="764.87" y1="581.50" x2="764.87" y2="580.77" stroke="#000" stroke-width="1.65"/>
<polygon points="754.05,590.02 772.59,595.35 772.59,595.35 754.05,590.02" fill="none" stroke="#000" stroke-width="1.3" stroke-linejoin="round"/>
<polygon points="772.59,595.35 783.41,586.10 783.41,586.10 772.59,595.35" fill="none" stroke="#000" stroke-width="1.3" stroke-linejoin="round"/>
<polygon points="754.05,590.02 772.59,595.35 783.41,586.10 764.87,580.77" fill="none" stroke="#000" stroke-width="1.3" stroke-linejoin="round"/>
<polygon points="740.53,605.93 759.07,611.25 759.07,606.91 740.53,601.58" fill="#a9c6fd" stroke="#a9c6fd" stroke-width="0.5"/>
<polygon points="759.07,611.25 769.89,602.01 769.89,597.66 759.07,606.91" fill="#a9c6fd" stroke="#a9c6fd" stroke-width="0.5"/>
<polygon points="740.53,601.58 759.07,606.91 769.89,597.66 751.35,592.33" fill="#a9c6fd" stroke="#a9c6fd" stroke-width="0.5"/>
<polygon points="740.53,605.93 759.07,611.25 769.89,602.01 751.35,596.68" fill="none" stroke="#000" stroke-width="1.65" stroke-linejoin="round"/>
<polygon points="740.53,601.58 759.07,606.91 769.89,597.66 751.35,592.33" fill="none" stroke="#000" stroke-width="1.65" stroke-linejoin="round"/>
<line x1="740.53" y1="605.93" x2="740.53" y2="601.58" stroke="#000" stroke-width="1.65"/>
<line x1="759.07" y1="611.25" x2="759.07" y2="606.91" stroke="#000" stroke-width="1.65"/>
<line x1="769.89" y1="602.01" x2="769.89" y2="597.66" stroke="#000" stroke-width="1.65"/>
<line x1="751.35" y1="596.68" x2="751.35" y2="592.33" stroke="#000" stroke-width="1.65"/>
<polygon points="740.53,601.58 759.07,606.91 759.07,606.91 740.53,601.58" fill="none" stroke="#000" stroke-width="1.3" stroke-linejoin="round"/>
<polygon points="759.07,606.91 769.89,597.66 769.89,597.66 759.07,606.91" fill="none" stroke="#000" stroke-width="1.3" stroke-linejoin="round"/>
<polygon points="740.53,601.58 759.07,606.91 769.89,597.66 751.35,592.33" fill="none" stroke="#000" stroke-width="1.3" stroke-linejoin="round"/>
<polygon points="727.01,615.31 745.55,620.64 745.55,618.47 727.01,613.14" fill="#c5d6f2" stroke="#c5d6f2" stroke-width="0.5"/>
<polygon points="745.55,620.64 756.37,611.39 756.37,609.22 745.55,618.47" fill="#c5d6f2" stroke="#c5d6f2" stroke-width="0.5"/>
<polygon points="727.01,613.14 745.55,618.47 756.37,609.22 737.83,603.89" fill="#c5d6f2" stroke="#c5d6f2" stroke-width="0.5"/>
<polygon points="727.01,615.31 745.55,620.64 756.37,611.39 737.83,606.06" fill="none" stroke="#000" stroke-width="1.65" stroke-linejoin="round"/>
<polygon points="727.01,613.14 745.55,618.47 756.37,609.22 737.83,603.89" fill="none" stroke="#000" stroke-width="1.65" stroke-linejoin="round"/>
<line x1="727.01" y1="615.31" x2="727.01" y2="613.14" stroke="#000" stroke-width="1.65"/>
<line x1="745.55" y1="620.64" x2="745.55" y2="618.47" stroke="#000" stroke-width="1.65"/>
<line x1="756.37" y1="611.39" x2="756.37" y2="609.22" stroke="#000" stroke-width="1.65"/>
<line x1="737.83" y1="606.06" x2="737.83" y2="603.89" stroke="#000" stroke-width="1.65"/>
<polygon points="727.01,613.14 745.55,618.47 745.55,618.47 727.01,613.14" fill="none" stroke="#000" stroke-width="1.3" stroke-linejoin="round"/>
<polygon points="745.55,618.47 756.37,609.22 756.37,609.22 745.55,618.47" fill="none" stroke="#000" stroke-width="1.3" stroke-linejoin="round"/>
<polygon points="727.01,613.14 745.55,618.47 756.37,609.22 737.83,603.89" fill="none" stroke="#000" stroke-width="1.3" stroke-linejoin="round"/>
<polygon points="713.49,626.51 732.03,631.84 732.03,630.03 713.49,624.70" fill="#c9d7f0" stroke="#c9d7f0" stroke-width="0.5"/>
<polygon points="732.03,631.84 742.85,622.59 742.85,620.78 732.03,630.03" fill="#c9d7f0" stroke="#c9d7f0" stroke-width="0.5"/>
<polygon points="713.49,624.70 732.03,630.03 742.85,620.78 724.31,615.45" fill="#c9d7f0" stroke="#c9d7f0" stroke-width="0.5"/>
<polygon points="713.49,626.51 732.03,631.84 742.85,622.59 724.31,617.26" fill="none" stroke="#000" stroke-width="1.65" stroke-linejoin="round"/>
<polygon points="713.49,624.70 732.03,630.03 742.85,620.78 724.31,615.45" fill="none" stroke="#000" stroke-width="1.65" stroke-linejoin="round"/>
<line x1="713.49" y1="626.51" x2="713.49" y2="624.70" stroke="#000" stroke-width="1.65"/>
<line x1="732.03" y1="631.84" x2="732.03" y2="630.03" stroke="#000" stroke-width="1.65"/>
<line x1="742.85" y1="622.59" x2="742.85" y2="620.78" stroke="#000" stroke-width="1.65"/>
<line x1="724.31" y1="617.26" x2="724.31" y2="615.45" stroke="#000" stroke-width="1.65"/>
<polygon points="713.49,624.70 732.03,630.03 732.03,630.03 713.49,624.70" fill="none" stroke="#000" stroke-width="1.3" stroke-linejoin="round"/>
<polygon points="732.03,630.03 742.85,620.78 742.85,620.78 732.03,630.03" fill="none" stroke="#000" stroke-width="1.3" stroke-linejoin="round"/>
<polygon points="713.49,624.70 732.03,630.03 742.85,620.78 724.31,615.45" fill="none" stroke="#000" stroke-width="1.3" stroke-linejoin="round"/>
<polygon points="699.97,636.26 718.51,641.59 718.51,640.31 699.97,634.98" fill="#e9d5cb" stroke="#e9d5cb" stroke-width="0.5"/>
<polygon points="718.51,641.59 729.33,632.34 729.33,631.06 718.51,640.31" fill="#e9d5cb" stroke="#e9d5cb" stroke-width="0.5"/>
<polygon points="699.97,634.98 718.51,640.31 729.33,631.06 710.79,625.73" fill="#e9d5cb" stroke="#e9d5cb" stroke-width="0.5"/>
<polygon points="699.97,636.26 718.51,641.59 729.33,632.34 710.79,627.01" fill="none" stroke="#000" stroke-width="1.65" stroke-linejoin="round"/>
<polygon points="699.97,634.98 718.51,640.31 729.33,631.06 710.79,625.73" fill="none" stroke="#000" stroke-width="1.65" stroke-linejoin="round"/>
<line x1="699.97" y1="636.26" x2="699.97" y2="634.98" stroke="#000" stroke-width="1.65"/>
<line x1="718.51" y1="641.59" x2="718.51" y2="640.31" stroke="#000" stroke-width="1.65"/>
<line x1="729.33" y1="632.34" x2="729.33" y2="631.06" stroke="#000" stroke-width="1.65"/>
<line x1="710.79" y1="627.01" x2="710.79" y2="625.73" stroke="#000" stroke-width="1.65"/>
<polygon points="699.97,636.26 718.51,641.59 718.51,641.59 699.97,636.26" fill="none" stroke="#000" stroke-width="1.3" stroke-linejoin="round"/>
<polygon points="718.51,641.59 729.33,632.34 729.33,632.34 718.51,641.59" fill="none" stroke="#000" stroke-width="1.3" stroke-linejoin="round"/>
<polygon points="699.97,636.26 718.51,641.59 729.33,632.34 710.79,627.01" fill="none" stroke="#000" stroke-width="1.3" stroke-linejoin="round"/>
<polygon points="817.79,562.00 836.33,567.33 836.33,559.66 817.79,554.33" fill="#ee8468" stroke="#ee8468" stroke-width="0.5"/>
<polygon points="836.33,567.33 847.15,558.08 847.15,550.41 836.33,559.66" fill="#ee8468" stroke="#ee8468" stroke-width="0.5"/>
<polygon points="817.79,554.33 836.33,559.66 847.15,550.41 828.61,545.08" fill="#ee8468" stroke="#ee8468" stroke-width="0.5"/>
<polygon points="817.79,562.00 836.33,567.33 847.15,558.08 828.61,552.75" fill="none" stroke="#000" stroke-width="1.65" stroke-linejoin="round"/>
<polygon points="817.79,554.33 836.33,559.66 847.15,550.41 828.61,545.08" fill="none" stroke="#000" stroke-width="1.65" stroke-linejoin="round"/>
<line x1="817.79" y1="562.00" x2="817.79" y2="554.33" stroke="#000" stroke-width="1.65"/>
<line x1="836.33" y1="567.33" x2="836.33" y2="559.66" stroke="#000" stroke-width="1.65"/>
<line x1="847.15" y1="558.08" x2="847.15" y2="550.41" stroke="#000" stroke-width="1.65"/>
<line x1="828.61" y1="552.75" x2="828.61" y2="545.08" stroke="#000" stroke-width="1.65"/>
<polygon points="817.79,562.00 836.33,567.33 836.33,567.33 817.79,562.00" fill="none" stroke="#000" stroke-width="1.3" stroke-linejoin="round"/>
<polygon points="836.33,567.33 847.15,558.08 847.15,558.08 836.33,567.33" fill="none" stroke="#000" stroke-width="1.3" stroke-linejoin="round"/>
<polygon points="817.79,562.00 836.33,567.33 847.15,558.08 828.61,552.75" fill="none" stroke="#000" stroke-width="1.3" stroke-linejoin="round"/>
<polygon points="804.27,573.56 822.81,578.89 822.81,578.89 804.27,573.56" fill="#dddcdc" stroke="#dddcdc" stroke-width="0.5"/>
<polygon points="822.81,578.89 833.63,569.64 833.63,569.64 822.81,578.89" fill="#dddcdc" stroke="#dddcdc" stroke-width="0.5"/>
<polygon points="804.27,573.56 822.81,578.89 833.63,569.64 815.09,564.31" fill="#dddcdc" stroke="#dddcdc" stroke-width="0.5"/>
<polygon points="804.27,573.56 822.81,578.89 833.63,569.64 815.09,564.31" fill="none" stroke="#000" stroke-width="1.65" stroke-linejoin="round"/>
<polygon points="804.27,573.56 822.81,578.89 833.63,569.64 815.09,564.31" fill="none" stroke="#000" stroke-width="1.65" stroke-linejoin="round"/>
<line x1="804.27" y1="573.56" x2="804.27" y2="573.56" stroke="#000" stroke-width="1.65"/>
<line x1="822.81" y1="578.89" x2="822.81" y2="578.89" stroke="#000" stroke-width="1.65"/>
<line x1="833.63" y1="569.64" x2="833.63" y2="569.64" stroke="#000" stroke-width="1.65"/>
<line x1="815.09" y1="564.31" x2="815.09" y2="564.31" stroke="#000" stroke-width="1.65"/>
<polygon points="804.27,573.56 822.81,578.89 822.81,578.89 804.27,573.56" fill="none" stroke="#000" stroke-width="1.3" stroke-linejoin="round"/>
<polygon points="822.81,578.89 833.63,569.64 833.63,569.64 822.81,578.89" fill="none" stroke="#000" stroke-width="1.3" stroke-linejoin="round"/>
<polygon points="804.27,573.56 822.81,578.89 833.63,569.64 815.09,564.31" fill="none" stroke="#000" stroke-width="1.3" stroke-linejoin="round"/>
<polygon points="790.75,585.12 809.29,590.45 809.29,585.76 790.75,580.43" fill="#f7b396" stroke="#f7b396" stroke-width="0.5"/>
<polygon points="809.29,590.45 820.11,581.20 820.11,576.51 809.29,585.76" fill="#f7b396" stroke="#f7b396" stroke-width="0.5"/>
<polygon points="790.75,580.43 809.29,585.76 820.11,576.51 801.57,571.19" fill="#f7b396" stroke="#f7b396" stroke-width="0.5"/>
<polygon points="790.75,585.12 809.29,590.45 820.11,581.20 801.57,575.87" fill="none" stroke="#000" stroke-width="1.65" stroke-linejoin="round"/>
<polygon points="790.75,580.43 809.29,585.76 820.11,576.51 801.57,571.19" fill="none" stroke="#000" stroke-width="1.65" stroke-linejoin="round"/>
<line x1="790.75" y1="585.12" x2="790.75" y2="580.43" stroke="#000" stroke-width="1.65"/>
<line x1="809.29" y1="590.45" x2="809.29" y2="585.76" stroke="#000" stroke-width="1.65"/>
<line x1="820.11" y1="581.20" x2="820.11" y2="576.51" stroke="#000" stroke-width="1.65"/>
<line x1="801.57" y1="575.87" x2="801.57" y2="571.19" stroke="#000" stroke-width="1.65"/>
<polygon points="790.75,585.12 809.29,590.45 809.29,590.45 790.75,585.12" fill="none" stroke="#000" stroke-width="1.3" stroke-linejoin="round"/>
<polygon points="809.29,590.45 820.11,581.20 820.11,581.20 809.29,590.45" fill="none" stroke="#000" stroke-width="1.3" stroke-linejoin="round"/>
<polygon points="790.75,585.12 809.29,590.45 820.11,581.20 801.57,575.87" fill="none" stroke="#000" stroke-width="1.3" stroke-linejoin="round"/>
<polygon points="777.23,596.68 795.77,602.01 795.77,597.75 777.23,592.42" fill="#f7b89c" stroke="#f7b89c" stroke-width="0.5"/>
<polygon points="795.77,602.01 806.59,592.76 806.59,588.50 795.77,597.75" fill="#f7b89c" stroke="#f7b89c" stroke-width="0.5"/>
<polygon points="777.23,592.42 795.77,597.75 806.59,588.50 788.05,583.17" fill="#f7b89c" stroke="#f7b89c" stroke-width="0.5"/>
<polygon points="777.23,596.68 795.77,602.01 806.59,592.76 788.05,587.43" fill="none" stroke="#000" stroke-width="1.65" stroke-linejoin="round"/>
<polygon points="777.23,592.42 795.77,597.75 806.59,588.50 788.05,583.17" fill="none" stroke="#000" stroke-width="1.65" stroke-linejoin="round"/>
<line x1="777.23" y1="596.68" x2="777.23" y2="592.42" stroke="#000" stroke-width="1.65"/>
<line x1="795.77" y1="602.01" x2="795.77" y2="597.75" stroke="#000" stroke-width="1.65"/>
<line x1="806.59" y1="592.76" x2="806.59" y2="588.50" stroke="#000" stroke-width="1.65"/>
<line x1="788.05" y1="587.43" x2="788.05" y2="583.17" stroke="#000" stroke-width="1.65"/>
<polygon points="777.23,596.68 795.77,602.01 795.77,602.01 777.23,596.68" fill="none" stroke="#000" stroke-width="1.3" stroke-linejoin="round"/>
<polygon points="795.77,602.01 806.59,592.76 806.59,592.76 795.77,602.01" fill="none" stroke="#000" stroke-width="1.3" stroke-linejoin="round"/>
<polygon points="777.23,596.68 795.77,602.01 806.59,592.76 788.05,587.43" fill="none" stroke="#000" stroke-width="1.3" stroke-linejoin="round"/>
<polygon points="763.71,608.60 782.25,613.93 782.25,613.57 763.71,608.24" fill="#d9dce1" stroke="#d9dce1" stroke-width="0.5"/>
<polygon points="782.25,613.93 793.07,604.68 793.07,604.32 782.25,613.57" fill="#d9dce1" stroke="#d9dce1" stroke-width="0.5"/>
<polygon points="763.71,608.24 782.25,613.57 793.07,604.32 774.53,598.99" fill="#d9dce1" stroke="#d9dce1" stroke-width="0.5"/>
<polygon points="763.71,608.60 782.25,613.93 793.07,604.68 774.53,599.35" fill="none" stroke="#000" stroke-width="1.65" stroke-linejoin="round"/>
<polygon points="763.71,608.24 782.25,613.57 793.07,604.32 774.53,598.99" fill="none" stroke="#000" stroke-width="1.65" stroke-linejoin="round"/>
<line x1="763.71" y1="608.60" x2="763.71" y2="608.24" stroke="#000" stroke-width="1.65"/>
<line x1="782.25" y1="613.93" x2="782.25" y2="613.57" stroke="#000" stroke-width="1.65"/>
<line x1="793.07" y1="604.68" x2="793.07" y2="604.32" stroke="#000" stroke-width="1.65"/>
<line x1="774.53" y1="599.35" x2="774.53" y2="598.99" stroke="#000" stroke-width="1.65"/>
<polygon points="763.71,608.24 782.25,613.57 782.25,613.57 763.71,608.24" fill="none" stroke="#000" stroke-width="1.3" stroke-linejoin="round"/>
<polygon points="782.25,613.57 793.07,604.32 793.07,604.32 782.25,613.57" fill="none" stroke="#000" stroke-width="1.3" stroke-linejoin="round"/>
<polygon points="763.71,608.24 782.25,613.57 793.07,604.32 774.53,598.99" fill="none" stroke="#000" stroke-width="1.3" stroke-linejoin="round"/>
<polygon points="750.19,619.80 768.73,625.13 768.73,622.57 750.19,617.24" fill="#f2cbb7" stroke="#f2cbb7" stroke-width="0.5"/>
<polygon points="768.73,625.13 779.55,615.88 779.55,613.32 768.73,622.57" fill="#f2cbb7" stroke="#f2cbb7" stroke-width="0.5"/>
<polygon points="750.19,617.24 768.73,622.57 779.55,613.32 761.01,608.00" fill="#f2cbb7" stroke="#f2cbb7" stroke-width="0.5"/>
<polygon points="750.19,619.80 768.73,625.13 779.55,615.88 761.01,610.55" fill="none" stroke="#000" stroke-width="1.65" stroke-linejoin="round"/>
<polygon points="750.19,617.24 768.73,622.57 779.55,613.32 761.01,608.00" fill="none" stroke="#000" stroke-width="1.65" stroke-linejoin="round"/>
<line x1="750.19" y1="619.80" x2="750.19" y2="617.24" stroke="#000" stroke-width="1.65"/>
<line x1="768.73" y1="625.13" x2="768.73" y2="622.57" stroke="#000" stroke-width="1.65"/>
<line x1="779.55" y1="615.88" x2="779.55" y2="613.32" stroke="#000" stroke-width="1.65"/>
<line x1="761.01" y1="610.55" x2="761.01" y2="608.00" stroke="#000" stroke-width="1.65"/>
<polygon points="750.19,619.80 768.73,625.13 768.73,625.13 750.19,619.80" fill="none" stroke="#000" stroke-width="1.3" stroke-linejoin="round"/>
<polygon points="768.73,625.13 779.55,615.88 779.55,615.88 768.73,625.13" fill="none" stroke="#000" stroke-width="1.3" stroke-linejoin="round"/>
<polygon points="750.19,619.80 768.73,625.13 779.55,615.88 761.01,610.55" fill="none" stroke="#000" stroke-width="1.3" stroke-linejoin="round"/>
<polygon points="736.67,631.36 755.21,636.69 755.21,633.28 736.67,627.95" fill="#f5c1a9" stroke="#f5c1a9" stroke-width="0.5"/>
<polygon points="755.21,636.69 766.03,627.44 766.03,624.03 755.21,633.28" fill="#f5c1a9" stroke="#f5c1a9" stroke-width="0.5"/>
<polygon points="736.67,627.95 755.21,633.28 766.03,624.03 747.49,618.70" fill="#f5c1a9" stroke="#f5c1a9" stroke-width="0.5"/>
<polygon points="736.67,631.36 755.21,636.69 766.03,627.44 747.49,622.11" fill="none" stroke="#000" stroke-width="1.65" stroke-linejoin="round"/>
<polygon points="736.67,627.95 755.21,633.28 766.03,624.03 747.49,618.70" fill="none" stroke="#000" stroke-width="1.65" stroke-linejoin="round"/>
<line x1="736.67" y1="631.36" x2="736.67" y2="627.95" stroke="#000" stroke-width="1.65"/>
<line x1="755.21" y1="636.69" x2="755.21" y2="633.28" stroke="#000" stroke-width="1.65"/>
<line x1="766.03" y1="627.44" x2="766.03" y2="624.03" stroke="#000" stroke-width="1.65"/>
<line x1="747.49" y1="622.11" x2="747.49" y2="618.70" stroke="#000" stroke-width="1.65"/>
<polygon points="736.67,631.36 755.21,636.69 755.21,636.69 736.67,631.36" fill="none" stroke="#000" stroke-width="1.3" stroke-linejoin="round"/>
<polygon points="755.21,636.69 766.03,627.44 766.03,627.44 755.21,636.69" fill="none" stroke="#000" stroke-width="1.3" stroke-linejoin="round"/>
<polygon points="736.67,631.36 755.21,636.69 766.03,627.44 747.49,622.11" fill="none" stroke="#000" stroke-width="1.3" stroke-linejoin="round"/>
<polygon points="723.15,645.82 741.69,651.14 741.69,648.25 723.15,642.92" fill="#bbd1f8" stroke="#bbd1f8" stroke-width="0.5"/>
<polygon points="741.69,651.14 752.51,641.90 752.51,639.00 741.69,648.25" fill="#bbd1f8" stroke="#bbd1f8" stroke-width="0.5"/>
<polygon points="723.15,642.92 741.69,648.25 752.51,639.00 733.97,633.67" fill="#bbd1f8" stroke="#bbd1f8" stroke-width="0.5"/>
<polygon points="723.15,645.82 741.69,651.14 752.51,641.90 733.97,636.57" fill="none" stroke="#000" stroke-width="1.65" stroke-linejoin="round"/>
<polygon points="723.15,642.92 741.69,648.25 752.51,639.00 733.97,633.67" fill="none" stroke="#000" stroke-width="1.65" stroke-linejoin="round"/>
<line x1="723.15" y1="645.82" x2="723.15" y2="642.92" stroke="#000" stroke-width="1.65"/>
<line x1="741.69" y1="651.14" x2="741.69" y2="648.25" stroke="#000" stroke-width="1.65"/>
<line x1="752.51" y1="641.90" x2="752.51" y2="639.00" stroke="#000" stroke-width="1.65"/>
<line x1="733.97" y1="636.57" x2="733.97" y2="633.67" stroke="#000" stroke-width="1.65"/>
<polygon points="723.15,642.92 741.69,648.25 741.69,648.25 723.15,642.92" fill="none" stroke="#000" stroke-width="1.3" stroke-linejoin="round"/>
<polygon points="741.69,648.25 752.51,639.00 752.51,639.00 741.69,648.25" fill="none" stroke="#000" stroke-width="1.3" stroke-linejoin="round"/>
<polygon points="723.15,642.92 741.69,648.25 752.51,639.00 733.97,633.67" fill="none" stroke="#000" stroke-width="1.3" stroke-linejoin="round"/>
<polygon points="840.97,568.66 859.51,573.99 859.51,573.99 840.97,568.66" fill="#dddcdc" stroke="#dddcdc" stroke-width="0.5"/>
<polygon points="859.51,573.99 870.33,564.74 870.33,564.74 859.51,573.99" fill="#dddcdc" stroke="#dddcdc" stroke-width="0.5"/>
<polygon points="840.97,568.66 859.51,573.99 870.33,564.74 851.79,559.41" fill="#dddcdc" stroke="#dddcdc" stroke-width="0.5"/>
<polygon points="840.97,568.66 859.51,573.99 870.33,564.74 851.79,559.41" fill="none" stroke="#000" stroke-width="1.65" stroke-linejoin="round"/>
<polygon points="840.97,568.66 859.51,573.99 870.33,564.74 851.79,559.41" fill="none" stroke="#000" stroke-width="1.65" stroke-linejoin="round"/>
<line x1="840.97" y1="568.66" x2="840.97" y2="568.66" stroke="#000" stroke-width="1.65"/>
<line x1="859.51" y1="573.99" x2="859.51" y2="573.99" stroke="#000" stroke-width="1.65"/>
<line x1="870.33" y1="564.74" x2="870.33" y2="564.74" stroke="#000" stroke-width="1.65"/>
<line x1="851.79" y1="559.41" x2="851.79" y2="559.41" stroke="#000" stroke-width="1.65"/>
<polygon points="840.97,568.66 859.51,573.99 859.51,573.99 840.97,568.66" fill="none" stroke="#000" stroke-width="1.3" stroke-linejoin="round"/>
<polygon points="859.51,573.99 870.33,564.74 870.33,564.74 859.51,573.99" fill="none" stroke="#000" stroke-width="1.3" stroke-linejoin="round"/>
<polygon points="840.97,568.66 859.51,573.99 870.33,564.74 851.79,559.41" fill="none" stroke="#000" stroke-width="1.3" stroke-linejoin="round"/>
<polygon points="827.45,590.02 845.99,595.35 845.99,585.55 827.45,580.22" fill="#5e7de7" stroke="#5e7de7" stroke-width="0.5"/>
<polygon points="845.99,595.35 856.81,586.10 856.81,576.30 845.99,585.55" fill="#5e7de7" stroke="#5e7de7" stroke-width="0.5"/>
<polygon points="827.45,580.22 845.99,585.55 856.81,576.30 838.27,570.97" fill="#5e7de7" stroke="#5e7de7" stroke-width="0.5"/>
<polygon points="827.45,590.02 845.99,595.35 856.81,586.10 838.27,580.77" fill="none" stroke="#000" stroke-width="1.65" stroke-linejoin="round"/>
<polygon points="827.45,580.22 845.99,585.55 856.81,576.30 838.27,570.97" fill="none" stroke="#000" stroke-width="1.65" stroke-linejoin="round"/>
<line x1="827.45" y1="590.02" x2="827.45" y2="580.22" stroke="#000" stroke-width="1.65"/>
<line x1="845.99" y1="595.35" x2="845.99" y2="585.55" stroke="#000" stroke-width="1.65"/>
<line x1="856.81" y1="586.10" x2="856.81" y2="576.30" stroke="#000" stroke-width="1.65"/>
<line x1="838.27" y1="580.77" x2="838.27" y2="570.97" stroke="#000" stroke-width="1.65"/>
<polygon points="827.45,580.22 845.99,585.55 845.99,585.55 827.45,580.22" fill="none" stroke="#000" stroke-width="1.3" stroke-linejoin="round"/>
<polygon points="845.99,585.55 856.81,576.30 856.81,576.30 845.99,585.55" fill="none" stroke="#000" stroke-width="1.3" stroke-linejoin="round"/>
<polygon points="827.45,580.22 845.99,585.55 856.81,576.30 838.27,570.97" fill="none" stroke="#000" stroke-width="1.3" stroke-linejoin="round"/>
<polygon points="813.93,604.13 832.47,609.46 832.47,597.11 813.93,591.78" fill="#3f53c6" stroke="#3f53c6" stroke-width="0.5"/>
<polygon points="832.47,609.46 843.29,600.21 843.29,587.86 832.47,597.11" fill="#3f53c6" stroke="#3f53c6" stroke-width="0.5"/>
<polygon points="813.93,591.78 832.47,597.11 843.29,587.86 824.75,582.53" fill="#3f53c6" stroke="#3f53c6" stroke-width="0.5"/>
<polygon points="813.93,604.13 832.47,609.46 843.29,600.21 824.75,594.89" fill="none" stroke="#000" stroke-width="1.65" stroke-linejoin="round"/>
<polygon points="813.93,591.78 832.47,597.11 843.29,587.86 824.75,582.53" fill="none" stroke="#000" stroke-width="1.65" stroke-linejoin="round"/>
<line x1="813.93" y1="604.13" x2="813.93" y2="591.78" stroke="#000" stroke-width="1.65"/>
<line x1="832.47" y1="609.46" x2="832.47" y2="597.11" stroke="#000" stroke-width="1.65"/>
<line x1="843.29" y1="600.21" x2="843.29" y2="587.86" stroke="#000" stroke-width="1.65"/>
<line x1="824.75" y1="594.89" x2="824.75" y2="582.53" stroke="#000" stroke-width="1.65"/>
<polygon points="813.93,591.78 832.47,597.11 832.47,597.11 813.93,591.78" fill="none" stroke="#000" stroke-width="1.3" stroke-linejoin="round"/>
<polygon points="832.47,597.11 843.29,587.86 843.29,587.86 832.47,597.11" fill="none" stroke="#000" stroke-width="1.3" stroke-linejoin="round"/>
<polygon points="813.93,591.78 832.47,597.11 843.29,587.86 824.75,582.53" fill="none" stroke="#000" stroke-width="1.3" stroke-linejoin="round"/>
<polygon points="800.41,613.56 818.95,618.89 818.95,608.67 800.41,603.34" fill="#5977e3" stroke="#5977e3" stroke-width="0.5"/>
<polygon points="818.95,618.89 829.77,609.64 829.77,599.42 818.95,608.67" fill="#5977e3" stroke="#5977e3" stroke-width="0.5"/>
<polygon points="800.41,603.34 818.95,608.67 829.77,599.42 811.23,594.09" fill="#5977e3" stroke="#5977e3" stroke-width="0.5"/>
<polygon points="800.41,613.56 818.95,618.89 829.77,609.64 811.23,604.32" fill="none" stroke="#000" stroke-width="1.65" stroke-linejoin="round"/>
<polygon points="800.41,603.34 818.95,608.67 829.77,599.42 811.23,594.09" fill="none" stroke="#000" stroke-width="1.65" stroke-linejoin="round"/>
<line x1="800.41" y1="613.56" x2="800.41" y2="603.34" stroke="#000" stroke-width="1.65"/>
<line x1="818.95" y1="618.89" x2="818.95" y2="608.67" stroke="#000" stroke-width="1.65"/>
<line x1="829.77" y1="609.64" x2="829.77" y2="599.42" stroke="#000" stroke-width="1.65"/>
<line x1="811.23" y1="604.32" x2="811.23" y2="594.09" stroke="#000" stroke-width="1.65"/>
<polygon points="800.41,603.34 818.95,608.67 818.95,608.67 800.41,603.34" fill="none" stroke="#000" stroke-width="1.3" stroke-linejoin="round"/>
<polygon points="818.95,608.67 829.77,599.42 829.77,599.42 818.95,608.67" fill="none" stroke="#000" stroke-width="1.3" stroke-linejoin="round"/>
<polygon points="800.41,603.34 818.95,608.67 829.77,599.42 811.23,594.09" fill="none" stroke="#000" stroke-width="1.3" stroke-linejoin="round"/>
<polygon points="786.89,622.57 805.43,627.90 805.43,620.23 786.89,614.90" fill="#7b9ff9" stroke="#7b9ff9" stroke-width="0.5"/>
<polygon points="805.43,627.90 816.25,618.65 816.25,610.98 805.43,620.23" fill="#7b9ff9" stroke="#7b9ff9" stroke-width="0.5"/>
<polygon points="786.89,614.90 805.43,620.23 816.25,610.98 797.71,605.65" fill="#7b9ff9" stroke="#7b9ff9" stroke-width="0.5"/>
<polygon points="786.89,622.57 805.43,627.90 816.25,618.65 797.71,613.32" fill="none" stroke="#000" stroke-width="1.65" stroke-linejoin="round"/>
<polygon points="786.89,614.90 805.43,620.23 816.25,610.98 797.71,605.65" fill="none" stroke="#000" stroke-width="1.65" stroke-linejoin="round"/>
<line x1="786.89" y1="622.57" x2="786.89" y2="614.90" stroke="#000" stroke-width="1.65"/>
<line x1="805.43" y1="627.90" x2="805.43" y2="620.23" stroke="#000" stroke-width="1.65"/>
<line x1="816.25" y1="618.65" x2="816.25" y2="610.98" stroke="#000" stroke-width="1.65"/>
<line x1="797.71" y1="613.32" x2="797.71" y2="605.65" stroke="#000" stroke-width="1.65"/>
<polygon points="786.89,614.90 805.43,620.23 805.43,620.23 786.89,614.90" fill="none" stroke="#000" stroke-width="1.3" stroke-linejoin="round"/>
<polygon points="805.43,620.23 816.25,610.98 816.25,610.98 805.43,620.23" fill="none" stroke="#000" stroke-width="1.3" stroke-linejoin="round"/>
<polygon points="786.89,614.90 805.43,620.23 816.25,610.98 797.71,605.65" fill="none" stroke="#000" stroke-width="1.3" stroke-linejoin="round"/>
<polygon points="773.37,637.11 791.91,642.44 791.91,631.79 773.37,626.46" fill="#5470de" stroke="#5470de" stroke-width="0.5"/>
<polygon points="791.91,642.44 802.73,633.19 802.73,622.54 791.91,631.79" fill="#5470de" stroke="#5470de" stroke-width="0.5"/>
<polygon points="773.37,626.46 791.91,631.79 802.73,622.54 784.19,617.21" fill="#5470de" stroke="#5470de" stroke-width="0.5"/>
<polygon points="773.37,637.11 791.91,642.44 802.73,633.19 784.19,627.86" fill="none" stroke="#000" stroke-width="1.65" stroke-linejoin="round"/>
<polygon points="773.37,626.46 791.91,631.79 802.73,622.54 784.19,617.21" fill="none" stroke="#000" stroke-width="1.65" stroke-linejoin="round"/>
<line x1="773.37" y1="637.11" x2="773.37" y2="626.46" stroke="#000" stroke-width="1.65"/>
<line x1="791.91" y1="642.44" x2="791.91" y2="631.79" stroke="#000" stroke-width="1.65"/>
<line x1="802.73" y1="633.19" x2="802.73" y2="622.54" stroke="#000" stroke-width="1.65"/>
<line x1="784.19" y1="627.86" x2="784.19" y2="617.21" stroke="#000" stroke-width="1.65"/>
<polygon points="773.37,626.46 791.91,631.79 791.91,631.79 773.37,626.46" fill="none" stroke="#000" stroke-width="1.3" stroke-linejoin="round"/>
<polygon points="791.91,631.79 802.73,622.54 802.73,622.54 791.91,631.79" fill="none" stroke="#000" stroke-width="1.3" stroke-linejoin="round"/>
<polygon points="773.37,626.46 791.91,631.79 802.73,622.54 784.19,617.21" fill="none" stroke="#000" stroke-width="1.3" stroke-linejoin="round"/>
<polygon points="759.85,649.10 778.39,654.42 778.39,643.35 759.85,638.02" fill="#4f69d9" stroke="#4f69d9" stroke-width="0.5"/>
<polygon points="778.39,654.42 789.21,645.18 789.21,634.10 778.39,643.35" fill="#4f69d9" stroke="#4f69d9" stroke-width="0.5"/>
<polygon points="759.85,638.02 778.39,643.35 789.21,634.10 770.67,628.77" fill="#4f69d9" stroke="#4f69d9" stroke-width="0.5"/>
<polygon points="759.85,649.10 778.39,654.42 789.21,645.18 770.67,639.85" fill="none" stroke="#000" stroke-width="1.65" stroke-linejoin="round"/>
<polygon points="759.85,638.02 778.39,643.35 789.21,634.10 770.67,628.77" fill="none" stroke="#000" stroke-width="1.65" stroke-linejoin="round"/>
<line x1="759.85" y1="649.10" x2="759.85" y2="638.02" stroke="#000" stroke-width="1.65"/>
<line x1="778.39" y1="654.42" x2="778.39" y2="643.35" stroke="#000" stroke-width="1.65"/>
<line x1="789.21" y1="645.18" x2="789.21" y2="634.10" stroke="#000" stroke-width="1.65"/>
<line x1="770.67" y1="639.85" x2="770.67" y2="628.77" stroke="#000" stroke-width="1.65"/>
<polygon points="759.85,638.02 778.39,643.35 778.39,643.35 759.85,638.02" fill="none" stroke="#000" stroke-width="1.3" stroke-linejoin="round"/>
<polygon points="778.39,643.35 789.21,634.10 789.21,634.10 778.39,643.35" fill="none" stroke="#000" stroke-width="1.3" stroke-linejoin="round"/>
<polygon points="759.85,638.02 778.39,643.35 789.21,634.10 770.67,628.77" fill="none" stroke="#000" stroke-width="1.3" stroke-linejoin="round"/>
<polygon points="746.33,649.58 764.87,654.91 764.87,645.54 746.33,640.21" fill="#e0654f" stroke="#e0654f" stroke-width="0.5"/>
<polygon points="764.87,654.91 775.69,645.66 775.69,636.29 764.87,645.54" fill="#e0654f" stroke="#e0654f" stroke-width="0.5"/>
<polygon points="746.33,640.21 764.87,645.54 775.69,636.29 757.15,630.96" fill="#e0654f" stroke="#e0654f" stroke-width="0.5"/>
<polygon points="746.33,649.58 764.87,654.91 775.69,645.66 757.15,640.33" fill="none" stroke="#000" stroke-width="1.65" stroke-linejoin="round"/>
<polygon points="746.33,640.21 764.87,645.54 775.69,636.29 757.15,630.96" fill="none" stroke="#000" stroke-width="1.65" stroke-linejoin="round"/>
<line x1="746.33" y1="649.58" x2="746.33" y2="640.21" stroke="#000" stroke-width="1.65"/>
<line x1="764.87" y1="654.91" x2="764.87" y2="645.54" stroke="#000" stroke-width="1.65"/>
<line x1="775.69" y1="645.66" x2="775.69" y2="636.29" stroke="#000" stroke-width="1.65"/>
<line x1="757.15" y1="640.33" x2="757.15" y2="630.96" stroke="#000" stroke-width="1.65"/>
<polygon points="746.33,649.58 764.87,654.91 764.87,654.91 746.33,649.58" fill="none" stroke="#000" stroke-width="1.3" stroke-linejoin="round"/>
<polygon points="764.87,654.91 775.69,645.66 775.69,645.66 764.87,654.91" fill="none" stroke="#000" stroke-width="1.3" stroke-linejoin="round"/>
<polygon points="746.33,649.58 764.87,654.91 775.69,645.66 757.15,640.33" fill="none" stroke="#000" stroke-width="1.3" stroke-linejoin="round"/>
</g>
<defs><linearGradient id="cwg2" x1="0" y1="0" x2="0" y2="1"><stop offset="0.000" stop-color="#b40426"/><stop offset="0.031" stop-color="#be242e"/><stop offset="0.062" stop-color="#ca3b37"/><stop offset="0.094" stop-color="#d44e41"/><stop offset="0.125" stop-color="#dd5f4b"/><stop offset="0.156" stop-color="#e46e56"/><stop offset="0.188" stop-color="#eb7d62"/><stop offset="0.219" stop-color="#f08b6e"/><stop offset="0.250" stop-color="#f4987a"/><stop offset="0.281" stop-color="#f6a586"/><stop offset="0.312" stop-color="#f7b093"/><stop offset="0.344" stop-color="#f7ba9f"/><stop offset="0.375" stop-color="#f5c4ac"/><stop offset="0.406" stop-color="#f1ccb8"/><stop offset="0.438" stop-color="#ecd3c5"/><stop offset="0.469" stop-color="#e5d8d1"/><stop offset="0.500" stop-color="#dddcdc"/><stop offset="0.531" stop-color="#d5dbe5"/><stop offset="0.562" stop-color="#ccd9ed"/><stop offset="0.594" stop-color="#c3d5f4"/><stop offset="0.625" stop-color="#b9d0f9"/><stop offset="0.656" stop-color="#aec9fc"/><stop offset="0.688" stop-color="#a3c2fe"/><stop offset="0.719" stop-color="#98b9ff"/><stop offset="0.750" stop-color="#8db0fe"/><stop offset="0.781" stop-color="#82a6fb"/><stop offset="0.812" stop-color="#779af7"/><stop offset="0.844" stop-color="#6c8ff1"/><stop offset="0.875" stop-color="#6282ea"/><stop offset="0.906" stop-color="#5875e1"/><stop offset="0.938" stop-color="#4e68d8"/><stop offset="0.969" stop-color="#445acc"/><stop offset="1.000" stop-color="#3b4cc0"/></linearGradient></defs>
<rect x="511.40" y="501.00" width="18.30" height="212.30" fill="url(#cwg2)" stroke="#000" stroke-width="2"/>
<line x1="529.70" y1="535.60" x2="534.30" y2="535.60" stroke="#000" stroke-width="1.9"/>
<text x="540.40" y="543.49" font-size="24">0.02</text>
<line x1="529.70" y1="571.30" x2="534.30" y2="571.30" stroke="#000" stroke-width="1.9"/>
<text x="540.40" y="579.19" font-size="24">0.01</text>
<line x1="529.70" y1="607.40" x2="534.30" y2="607.40" stroke="#000" stroke-width="1.9"/>
<text x="540.40" y="615.29" font-size="24">0</text>
<line x1="529.70" y1="643.00" x2="534.30" y2="643.00" stroke="#000" stroke-width="1.9"/>
<text x="540.40" y="650.89" font-size="24">-0.01</text>
<line x1="529.70" y1="679.00" x2="534.30" y2="679.00" stroke="#000" stroke-width="1.9"/>
<text x="540.40" y="686.89" font-size="24">-0.02</text>
<text x="735.70" y="462.00" font-size="29" text-anchor="middle" font-weight="normal" >Im(&#961;)</text>
<rect x="137.80" y="977.00" width="5.80" height="5.80" fill="#ff0e0e"/>
<rect x="149.40" y="977.00" width="5.80" height="5.80" fill="#0e0eff"/>
<rect x="248.00" y="977.00" width="5.80" height="5.80" fill="#0e0eff"/>
<rect x="398.80" y="977.00" width="5.80" height="5.80" fill="#ff0e0e"/>
<rect x="137.80" y="988.60" width="5.80" height="5.80" fill="#0e0eff"/>
<rect x="149.40" y="988.60" width="5.80" height="5.80" fill="#ff0e0e"/>
<rect x="248.00" y="988.60" width="5.80" height="5.80" fill="#ff0e0e"/>
<rect x="398.80" y="988.60" width="5.80" height="5.80" fill="#0e0eff"/>
<rect x="137.80" y="1087.20" width="5.80" height="5.80" fill="#0e0eff"/>
<rect x="149.40" y="1087.20" width="5.80" height="5.80" fill="#ff0e0e"/>
<rect x="248.00" y="1087.20" width="5.80" height="5.80" fill="#ff0e0e"/>
<rect x="398.80" y="1087.20" width="5.80" height="5.80" fill="#0e0eff"/>
<rect x="137.80" y="1238.00" width="5.80" height="5.80" fill="#ff0e0e"/>
<rect x="149.40" y="1238.00" width="5.80" height="5.80" fill="#0e0eff"/>
<rect x="248.00" y="1238.00" width="5.80" height="5.80" fill="#0e0eff"/>
<rect x="398.80" y="1238.00" width="5.80" height="5.80" fill="#ff0e0e"/>
<rect x="51.80" y="890.20" width="370.20" height="370.70" fill="none" stroke="#000" stroke-width="2"/>
<path d="M45.00,892.90H51.80M53.70,1260.90V1267.70M45.00,898.70H51.80M59.50,1260.90V1267.70M45.00,904.50H51.80M65.30,1260.90V1267.70M45.00,910.30H51.80M71.10,1260.90V1267.70M45.00,916.10H51.80M76.90,1260.90V1267.70M45.00,921.90H51.80M82.70,1260.90V1267.70M45.00,927.70H51.80M88.50,1260.90V1267.70M45.00,933.50H51.80M94.30,1260.90V1267.70M45.00,939.30H51.80M100.10,1260.90V1267.70M45.00,945.10H51.80M105.90,1260.90V1267.70M45.00,950.90H51.80M111.70,1260.90V1267.70M45.00,956.70H51.80M117.50,1260.90V1267.70M45.00,962.50H51.80M123.30,1260.90V1267.70M45.00,968.30H51.80M129.10,1260.90V1267.70M45.00,974.10H51.80M134.90,1260.90V1267.70M45.00,979.90H51.80M140.70,1260.90V1267.70M45.00,985.70H51.80M146.50,1260.90V1267.70M45.00,991.50H51.80M152.30,1260.90V1267.70M45.00,997.30H51.80M158.10,1260.90V1267.70M45.00,1003.10H51.80M163.90,1260.90V1267.70M45.00,1008.90H51.80M169.70,1260.90V1267.70M45.00,1014.70H51.80M175.50,1260.90V1267.70M45.00,1020.50H51.80M181.30,1260.90V1267.70M45.00,1026.30H51.80M187.10,1260.90V1267.70M45.00,1032.10H51.80M192.90,1260.90V1267.70M45.00,1037.90H51.80M198.70,1260.90V1267.70M45.00,1043.70H51.80M204.50,1260.90V1267.70M45.00,1049.50H51.80M210.30,1260.90V1267.70M45.00,1055.30H51.80M216.10,1260.90V1267.70M45.00,1061.10H51.80M221.90,1260.90V1267.70M45.00,1066.90H51.80M227.70,1260.90V1267.70M45.00,1072.70H51.80M233.50,1260.90V1267.70M45.00,1078.50H51.80M239.30,1260.90V1267.70M45.00,1084.30H51.80M245.10,1260.90V1267.70M45.00,1090.10H51.80M250.90,1260.90V1267.70M45.00,1095.90H51.80M256.70,1260.90V1267.70M45.00,1101.70H51.80M262.50,1260.90V1267.70M45.00,1107.50H51.80M268.30,1260.90V1267.70M45.00,1113.30H51.80M274.10,1260.90V1267.70M45.00,1119.10H51.80M279.90,1260.90V1267.70M45.00,1124.90H51.80M285.70,1260.90V1267.70M45.00,1130.70H51.80M291.50,1260.90V1267.70M45.00,1136.50H51.80M297.30,1260.90V1267.70M45.00,1142.30H51.80M303.10,1260.90V1267.70M45.00,1148.10H51.80M308.90,1260.90V1267.70M45.00,1153.90H51.80M314.70,1260.90V1267.70M45.00,1159.70H51.80M320.50,1260.90V1267.70M45.00,1165.50H51.80M326.30,1260.90V1267.70M45.00,1171.30H51.80M332.10,1260.90V1267.70M45.00,1177.10H51.80M337.90,1260.90V1267.70M45.00,1182.90H51.80M343.70,1260.90V1267.70M45.00,1188.70H51.80M349.50,1260.90V1267.70M45.00,1194.50H51.80M355.30,1260.90V1267.70M45.00,1200.30H51.80M361.10,1260.90V1267.70M45.00,1206.10H51.80M366.90,1260.90V1267.70M45.00,1211.90H51.80M372.70,1260.90V1267.70M45.00,1217.70H51.80M378.50,1260.90V1267.70M45.00,1223.50H51.80M384.30,1260.90V1267.70M45.00,1229.30H51.80M390.10,1260.90V1267.70M45.00,1235.10H51.80M395.90,1260.90V1267.70M45.00,1240.90H51.80M401.70,1260.90V1267.70M45.00,1246.70H51.80M407.50,1260.90V1267.70M45.00,1252.50H51.80M413.30,1260.90V1267.70M45.00,1258.30H51.80M419.10,1260.90V1267.70" stroke="#000" stroke-width="1.8" fill="none"/>
<text x="41.70" y="898.50" font-size="20.8" text-anchor="end">III</text>
<text x="53.10" y="1288.6" font-size="20.8" text-anchor="middle">III</text>
<text x="41.70" y="1020.80" font-size="20.8" text-anchor="end">XXX</text>
<text x="174.90" y="1288.6" font-size="20.8" text-anchor="middle">XXX</text>
<text x="41.70" y="1142.70" font-size="20.8" text-anchor="end">YYY</text>
<text x="296.70" y="1288.6" font-size="20.8" text-anchor="middle">YYY</text>
<text x="41.70" y="1265.70" font-size="20.8" text-anchor="end">ZZZ</text>
<text x="418.50" y="1288.6" font-size="20.8" text-anchor="middle">ZZZ</text>
<defs><linearGradient id="bwr1" x1="0" y1="0" x2="0" y2="1"><stop offset="0.000" stop-color="#ff0000"/><stop offset="0.031" stop-color="#ff0e0e"/><stop offset="0.062" stop-color="#ff1e1e"/><stop offset="0.094" stop-color="#ff2e2e"/><stop offset="0.125" stop-color="#ff3e3e"/><stop offset="0.156" stop-color="#ff4e4e"/><stop offset="0.188" stop-color="#ff5e5e"/><stop offset="0.219" stop-color="#ff6e6e"/><stop offset="0.250" stop-color="#ff7e7e"/><stop offset="0.281" stop-color="#ff8e8e"/><stop offset="0.312" stop-color="#ff9e9e"/><stop offset="0.344" stop-color="#ffaeae"/><stop offset="0.375" stop-color="#ffbebe"/><stop offset="0.406" stop-color="#ffcece"/><stop offset="0.438" stop-color="#ffdede"/><stop offset="0.469" stop-color="#ffeeee"/><stop offset="0.500" stop-color="#fffefe"/><stop offset="0.531" stop-color="#f0f0ff"/><stop offset="0.562" stop-color="#e0e0ff"/><stop offset="0.594" stop-color="#d0d0ff"/><stop offset="0.625" stop-color="#c0c0ff"/><stop offset="0.656" stop-color="#b0b0ff"/><stop offset="0.688" stop-color="#a0a0ff"/><stop offset="0.719" stop-color="#9090ff"/><stop offset="0.750" stop-color="#8080ff"/><stop offset="0.781" stop-color="#7070ff"/><stop offset="0.812" stop-color="#6060ff"/><stop offset="0.844" stop-color="#5050ff"/><stop offset="0.875" stop-color="#4040ff"/><stop offset="0.906" stop-color="#3030ff"/><stop offset="0.938" stop-color="#2020ff"/><stop offset="0.969" stop-color="#1010ff"/><stop offset="1.000" stop-color="#0000ff"/></linearGradient></defs>
<rect x="430.10" y="890.80" width="17.40" height="370.40" fill="url(#bwr1)" stroke="#000" stroke-width="2"/>
<line x1="447.50" y1="927.90" x2="451.50" y2="927.90" stroke="#000" stroke-width="1.6"/>
<text x="453.00" y="934.20" font-size="25">0.2</text>
<line x1="447.50" y1="1001.90" x2="451.50" y2="1001.90" stroke="#000" stroke-width="1.6"/>
<text x="453.00" y="1008.20" font-size="25">0.1</text>
<line x1="447.50" y1="1075.90" x2="451.50" y2="1075.90" stroke="#000" stroke-width="1.6"/>
<text x="453.00" y="1082.20" font-size="25">0</text>
<line x1="447.50" y1="1149.90" x2="451.50" y2="1149.90" stroke="#000" stroke-width="1.6"/>
<text x="453.00" y="1156.20" font-size="25">-0.1</text>
<line x1="447.50" y1="1223.90" x2="451.50" y2="1223.90" stroke="#000" stroke-width="1.6"/>
<text x="453.00" y="1230.20" font-size="25">-0.2</text>
<text x="233.70" y="874.80" font-size="29.5" text-anchor="middle" font-weight="normal" >Re(<tspan font-family="Liberation Serif" font-style="italic">&#967;</tspan>)</text>
<text x="9.30" y="873.30" font-size="29" text-anchor="start" font-weight="bold" >(c)</text>
<rect x="630.00" y="890.00" width="5.80" height="5.80" fill="#ffcccc"/>
<rect x="641.60" y="890.00" width="5.80" height="5.80" fill="#ccccff"/>
<rect x="740.20" y="890.00" width="5.80" height="5.80" fill="#ccccff"/>
<rect x="891.00" y="890.00" width="5.80" height="5.80" fill="#ffd6d6"/>
<rect x="630.00" y="907.40" width="5.80" height="5.80" fill="#c2c2ff"/>
<rect x="641.60" y="907.40" width="5.80" height="5.80" fill="#ffcccc"/>
<rect x="740.20" y="907.40" width="5.80" height="5.80" fill="#ffcccc"/>
<rect x="891.00" y="907.40" width="5.80" height="5.80" fill="#ccccff"/>
<rect x="630.00" y="959.60" width="5.80" height="5.80" fill="#b2b2ff"/>
<rect x="641.60" y="959.60" width="5.80" height="5.80" fill="#ffb2b2"/>
<rect x="740.20" y="959.60" width="5.80" height="5.80" fill="#ffb2b2"/>
<rect x="891.00" y="959.60" width="5.80" height="5.80" fill="#c2c2ff"/>
<rect x="543.00" y="977.00" width="5.80" height="5.80" fill="#d6d6ff"/>
<rect x="560.40" y="977.00" width="5.80" height="5.80" fill="#ffd6d6"/>
<rect x="612.60" y="977.00" width="5.80" height="5.80" fill="#ffbcbc"/>
<rect x="641.60" y="977.00" width="5.80" height="5.80" fill="#ccccff"/>
<rect x="711.20" y="977.00" width="5.80" height="5.80" fill="#d6d6ff"/>
<rect x="740.20" y="977.00" width="5.80" height="5.80" fill="#ccccff"/>
<rect x="809.80" y="977.00" width="5.80" height="5.80" fill="#d6d6ff"/>
<rect x="821.40" y="977.00" width="5.80" height="5.80" fill="#ffe0e0"/>
<rect x="838.80" y="977.00" width="5.80" height="5.80" fill="#8080ff"/>
<rect x="908.40" y="977.00" width="5.80" height="5.80" fill="#ff7e7e"/>
<rect x="543.00" y="988.60" width="5.80" height="5.80" fill="#ffd6d6"/>
<rect x="560.40" y="988.60" width="5.80" height="5.80" fill="#d6d6ff"/>
<rect x="612.60" y="988.60" width="5.80" height="5.80" fill="#b2b2ff"/>
<rect x="630.00" y="988.60" width="5.80" height="5.80" fill="#ffcccc"/>
<rect x="711.20" y="988.60" width="5.80" height="5.80" fill="#ffd6d6"/>
<rect x="809.80" y="988.60" width="5.80" height="5.80" fill="#ffd6d6"/>
<rect x="821.40" y="988.60" width="5.80" height="5.80" fill="#e0e0ff"/>
<rect x="838.80" y="988.60" width="5.80" height="5.80" fill="#ff8e8e"/>
<rect x="891.00" y="988.60" width="5.80" height="5.80" fill="#ffd6d6"/>
<rect x="908.40" y="988.60" width="5.80" height="5.80" fill="#8080ff"/>
<rect x="630.00" y="1058.20" width="5.80" height="5.80" fill="#ffcccc"/>
<rect x="641.60" y="1058.20" width="5.80" height="5.80" fill="#ccccff"/>
<rect x="740.20" y="1058.20" width="5.80" height="5.80" fill="#d6d6ff"/>
<rect x="891.00" y="1058.20" width="5.80" height="5.80" fill="#ffd6d6"/>
<rect x="543.00" y="1087.20" width="5.80" height="5.80" fill="#ffd6d6"/>
<rect x="560.40" y="1087.20" width="5.80" height="5.80" fill="#d6d6ff"/>
<rect x="612.60" y="1087.20" width="5.80" height="5.80" fill="#bcbcff"/>
<rect x="630.00" y="1087.20" width="5.80" height="5.80" fill="#ffcccc"/>
<rect x="711.20" y="1087.20" width="5.80" height="5.80" fill="#ffd6d6"/>
<rect x="809.80" y="1087.20" width="5.80" height="5.80" fill="#ffd6d6"/>
<rect x="821.40" y="1087.20" width="5.80" height="5.80" fill="#d6d6ff"/>
<rect x="838.80" y="1087.20" width="5.80" height="5.80" fill="#ff9898"/>
<rect x="891.00" y="1087.20" width="5.80" height="5.80" fill="#ffd6d6"/>
<rect x="908.40" y="1087.20" width="5.80" height="5.80" fill="#8080ff"/>
<rect x="630.00" y="1156.80" width="5.80" height="5.80" fill="#ffcccc"/>
<rect x="641.60" y="1156.80" width="5.80" height="5.80" fill="#d6d6ff"/>
<rect x="740.20" y="1156.80" width="5.80" height="5.80" fill="#d6d6ff"/>
<rect x="891.00" y="1156.80" width="5.80" height="5.80" fill="#ffd6d6"/>
<rect x="630.00" y="1168.40" width="5.80" height="5.80" fill="#ccccff"/>
<rect x="641.60" y="1168.40" width="5.80" height="5.80" fill="#ffd6d6"/>
<rect x="740.20" y="1168.40" width="5.80" height="5.80" fill="#ffdcdc"/>
<rect x="891.00" y="1168.40" width="5.80" height="5.80" fill="#d6d6ff"/>
<rect x="630.00" y="1185.80" width="5.80" height="5.80" fill="#ffa2a2"/>
<rect x="641.60" y="1185.80" width="5.80" height="5.80" fill="#9898ff"/>
<rect x="740.20" y="1185.80" width="5.80" height="5.80" fill="#9898ff"/>
<rect x="891.00" y="1185.80" width="5.80" height="5.80" fill="#ffa2a2"/>
<rect x="543.00" y="1238.00" width="5.80" height="5.80" fill="#d6d6ff"/>
<rect x="560.40" y="1238.00" width="5.80" height="5.80" fill="#ffd6d6"/>
<rect x="612.60" y="1238.00" width="5.80" height="5.80" fill="#ffcccc"/>
<rect x="641.60" y="1238.00" width="5.80" height="5.80" fill="#d6d6ff"/>
<rect x="711.20" y="1238.00" width="5.80" height="5.80" fill="#d6d6ff"/>
<rect x="740.20" y="1238.00" width="5.80" height="5.80" fill="#d6d6ff"/>
<rect x="809.80" y="1238.00" width="5.80" height="5.80" fill="#d6d6ff"/>
<rect x="821.40" y="1238.00" width="5.80" height="5.80" fill="#ffd6d6"/>
<rect x="838.80" y="1238.00" width="5.80" height="5.80" fill="#8e8eff"/>
<rect x="908.40" y="1238.00" width="5.80" height="5.80" fill="#ff7e7e"/>
<rect x="630.00" y="1255.40" width="5.80" height="5.80" fill="#8080ff"/>
<rect x="641.60" y="1255.40" width="5.80" height="5.80" fill="#ff7e7e"/>
<rect x="740.20" y="1255.40" width="5.80" height="5.80" fill="#ff7e7e"/>
<rect x="891.00" y="1255.40" width="5.80" height="5.80" fill="#8080ff"/>
<rect x="543.00" y="890.30" width="371.00" height="370.70" fill="none" stroke="#000" stroke-width="2"/>
<path d="M536.20,892.90H543.00M545.90,1261.00V1267.80M536.20,898.70H543.00M551.70,1261.00V1267.80M536.20,904.50H543.00M557.50,1261.00V1267.80M536.20,910.30H543.00M563.30,1261.00V1267.80M536.20,916.10H543.00M569.10,1261.00V1267.80M536.20,921.90H543.00M574.90,1261.00V1267.80M536.20,927.70H543.00M580.70,1261.00V1267.80M536.20,933.50H543.00M586.50,1261.00V1267.80M536.20,939.30H543.00M592.30,1261.00V1267.80M536.20,945.10H543.00M598.10,1261.00V1267.80M536.20,950.90H543.00M603.90,1261.00V1267.80M536.20,956.70H543.00M609.70,1261.00V1267.80M536.20,962.50H543.00M615.50,1261.00V1267.80M536.20,968.30H543.00M621.30,1261.00V1267.80M536.20,974.10H543.00M627.10,1261.00V1267.80M536.20,979.90H543.00M632.90,1261.00V1267.80M536.20,985.70H543.00M638.70,1261.00V1267.80M536.20,991.50H543.00M644.50,1261.00V1267.80M536.20,997.30H543.00M650.30,1261.00V1267.80M536.20,1003.10H543.00M656.10,1261.00V1267.80M536.20,1008.90H543.00M661.90,1261.00V1267.80M536.20,1014.70H543.00M667.70,1261.00V1267.80M536.20,1020.50H543.00M673.50,1261.00V1267.80M536.20,1026.30H543.00M679.30,1261.00V1267.80M536.20,1032.10H543.00M685.10,1261.00V1267.80M536.20,1037.90H543.00M690.90,1261.00V1267.80M536.20,1043.70H543.00M696.70,1261.00V1267.80M536.20,1049.50H543.00M702.50,1261.00V1267.80M536.20,1055.30H543.00M708.30,1261.00V1267.80M536.20,1061.10H543.00M714.10,1261.00V1267.80M536.20,1066.90H543.00M719.90,1261.00V1267.80M536.20,1072.70H543.00M725.70,1261.00V1267.80M536.20,1078.50H543.00M731.50,1261.00V1267.80M536.20,1084.30H543.00M737.30,1261.00V1267.80M536.20,1090.10H543.00M743.10,1261.00V1267.80M536.20,1095.90H543.00M748.90,1261.00V1267.80M536.20,1101.70H543.00M754.70,1261.00V1267.80M536.20,1107.50H543.00M760.50,1261.00V1267.80M536.20,1113.30H543.00M766.30,1261.00V1267.80M536.20,1119.10H543.00M772.10,1261.00V1267.80M536.20,1124.90H543.00M777.90,1261.00V1267.80M536.20,1130.70H543.00M783.70,1261.00V1267.80M536.20,1136.50H543.00M789.50,1261.00V1267.80M536.20,1142.30H543.00M795.30,1261.00V1267.80M536.20,1148.10H543.00M801.10,1261.00V1267.80M536.20,1153.90H543.00M806.90,1261.00V1267.80M536.20,1159.70H543.00M812.70,1261.00V1267.80M536.20,1165.50H543.00M818.50,1261.00V1267.80M536.20,1171.30H543.00M824.30,1261.00V1267.80M536.20,1177.10H543.00M830.10,1261.00V1267.80M536.20,1182.90H543.00M835.90,1261.00V1267.80M536.20,1188.70H543.00M841.70,1261.00V1267.80M536.20,1194.50H543.00M847.50,1261.00V1267.80M536.20,1200.30H543.00M853.30,1261.00V1267.80M536.20,1206.10H543.00M859.10,1261.00V1267.80M536.20,1211.90H543.00M864.90,1261.00V1267.80M536.20,1217.70H543.00M870.70,1261.00V1267.80M536.20,1223.50H543.00M876.50,1261.00V1267.80M536.20,1229.30H543.00M882.30,1261.00V1267.80M536.20,1235.10H543.00M888.10,1261.00V1267.80M536.20,1240.90H543.00M893.90,1261.00V1267.80M536.20,1246.70H543.00M899.70,1261.00V1267.80M536.20,1252.50H543.00M905.50,1261.00V1267.80M536.20,1258.30H543.00M911.30,1261.00V1267.80" stroke="#000" stroke-width="1.8" fill="none"/>
<text x="534.80" y="898.50" font-size="20.8" text-anchor="end">III</text>
<text x="545.30" y="1288.6" font-size="20.8" text-anchor="middle">III</text>
<text x="534.80" y="1020.80" font-size="20.8" text-anchor="end">XXX</text>
<text x="667.10" y="1288.6" font-size="20.8" text-anchor="middle">XXX</text>
<text x="534.80" y="1142.70" font-size="20.8" text-anchor="end">YYY</text>
<text x="788.90" y="1288.6" font-size="20.8" text-anchor="middle">YYY</text>
<text x="534.80" y="1265.70" font-size="20.8" text-anchor="end">ZZZ</text>
<text x="910.70" y="1288.6" font-size="20.8" text-anchor="middle">ZZZ</text>
<defs><linearGradient id="bwr2" x1="0" y1="0" x2="0" y2="1"><stop offset="0.000" stop-color="#ff0000"/><stop offset="0.031" stop-color="#ff0e0e"/><stop offset="0.062" stop-color="#ff1e1e"/><stop offset="0.094" stop-color="#ff2e2e"/><stop offset="0.125" stop-color="#ff3e3e"/><stop offset="0.156" stop-color="#ff4e4e"/><stop offset="0.188" stop-color="#ff5e5e"/><stop offset="0.219" stop-color="#ff6e6e"/><stop offset="0.250" stop-color="#ff7e7e"/><stop offset="0.281" stop-color="#ff8e8e"/><stop offset="0.312" stop-color="#ff9e9e"/><stop offset="0.344" stop-color="#ffaeae"/><stop offset="0.375" stop-color="#ffbebe"/><stop offset="0.406" stop-color="#ffcece"/><stop offset="0.438" stop-color="#ffdede"/><stop offset="0.469" stop-color="#ffeeee"/><stop offset="0.500" stop-color="#fffefe"/><stop offset="0.531" stop-color="#f0f0ff"/><stop offset="0.562" stop-color="#e0e0ff"/><stop offset="0.594" stop-color="#d0d0ff"/><stop offset="0.625" stop-color="#c0c0ff"/><stop offset="0.656" stop-color="#b0b0ff"/><stop offset="0.688" stop-color="#a0a0ff"/><stop offset="0.719" stop-color="#9090ff"/><stop offset="0.750" stop-color="#8080ff"/><stop offset="0.781" stop-color="#7070ff"/><stop offset="0.812" stop-color="#6060ff"/><stop offset="0.844" stop-color="#5050ff"/><stop offset="0.875" stop-color="#4040ff"/><stop offset="0.906" stop-color="#3030ff"/><stop offset="0.938" stop-color="#2020ff"/><stop offset="0.969" stop-color="#1010ff"/><stop offset="1.000" stop-color="#0000ff"/></linearGradient></defs>
<rect x="920.50" y="890.80" width="15.60" height="370.40" fill="url(#bwr2)" stroke="#000" stroke-width="2"/>
<line x1="936.10" y1="927.90" x2="940.10" y2="927.90" stroke="#000" stroke-width="1.6"/>
<text x="942.80" y="934.20" font-size="25">0.04</text>
<line x1="936.10" y1="1001.90" x2="940.10" y2="1001.90" stroke="#000" stroke-width="1.6"/>
<text x="942.80" y="1008.20" font-size="25">0.02</text>
<line x1="936.10" y1="1075.90" x2="940.10" y2="1075.90" stroke="#000" stroke-width="1.6"/>
<text x="942.80" y="1082.20" font-size="25">0</text>
<line x1="936.10" y1="1149.90" x2="940.10" y2="1149.90" stroke="#000" stroke-width="1.6"/>
<text x="942.80" y="1156.20" font-size="25">-0.02</text>
<line x1="936.10" y1="1223.90" x2="940.10" y2="1223.90" stroke="#000" stroke-width="1.6"/>
<text x="942.80" y="1230.20" font-size="25">-0.04</text>
<text x="725.30" y="874.80" font-size="29.5" text-anchor="middle" font-weight="normal" >Im(<tspan font-family="Liberation Serif" font-style="italic">&#967;</tspan>)</text>
</svg>
</body></html>
